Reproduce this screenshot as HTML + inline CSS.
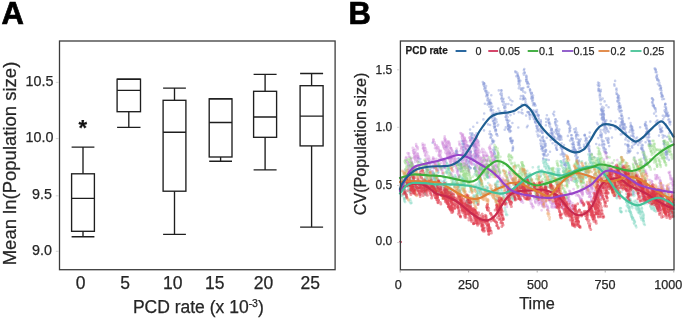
<!DOCTYPE html>
<html><head><meta charset="utf-8"><style>
html,body{margin:0;padding:0;background:#fff;}
body{width:685px;height:320px;overflow:hidden;}
svg{display:block;font-family:"Liberation Sans",sans-serif;filter:blur(0.3px);}
text{stroke:#262626;stroke-width:0.25px;}
</style></head><body>
<svg width="685" height="320" viewBox="0 0 685 320">
<text x="1.4" y="23.6" font-size="31" font-weight="bold" style="stroke:#000;stroke-width:0.7px">A</text>
<rect x="59.5" y="41" width="275.6" height="228.7" fill="none" stroke="#3c3c3c" stroke-width="1.3"/>
<line x1="55.8" x2="59" y1="82.35" y2="82.35" stroke="#c8c8c8" stroke-width="0.8"/>
<line x1="55.8" x2="59" y1="138.60" y2="138.60" stroke="#c8c8c8" stroke-width="0.8"/>
<line x1="55.8" x2="59" y1="195.80" y2="195.80" stroke="#c8c8c8" stroke-width="0.8"/>
<line x1="55.8" x2="59" y1="251.30" y2="251.30" stroke="#c8c8c8" stroke-width="0.8"/>
<text x="53.4" y="85.6" font-size="14.3" text-anchor="end" fill="#262626">10.5</text>
<text x="53.4" y="142.4" font-size="14.3" text-anchor="end" fill="#262626">10.0</text>
<text x="51.9" y="199.3" font-size="14.3" text-anchor="end" fill="#262626">9.5</text>
<text x="51.9" y="254.9" font-size="14.3" text-anchor="end" fill="#262626">9.0</text>
<text x="80.5" y="288.6" font-size="17.5" text-anchor="middle" fill="#262626">0</text>
<text x="125.0" y="288.6" font-size="17.5" text-anchor="middle" fill="#262626">5</text>
<text x="172.8" y="288.6" font-size="17.5" text-anchor="middle" fill="#262626">10</text>
<text x="214.7" y="288.6" font-size="17.5" text-anchor="middle" fill="#262626">15</text>
<text x="263.4" y="288.6" font-size="17.5" text-anchor="middle" fill="#262626">20</text>
<text x="310.3" y="288.6" font-size="17.5" text-anchor="middle" fill="#262626">25</text>
<text x="132.9" y="313.4" font-size="17.5" fill="#262626">PCD rate (x 10<tspan font-size="10.5" dy="-6.3">-3</tspan><tspan dy="6.3">)</tspan></text>
<text transform="translate(16.2,265.3) rotate(-90)" font-size="18.5" fill="#262626">Mean ln(Population size)</text>
<text x="82.7" y="135.4" font-size="22" font-weight="bold" text-anchor="middle" fill="#111">*</text>
<rect x="71.6" y="173.8" width="22.8" height="57.5" stroke="#1e1e1e" stroke-width="1.35" fill="none"/>
<path d="M71.6 198.4H94.4M83.0 173.8V147.1M83.0 231.3V236.7M71.6 147.1H94.4M71.6 236.7H94.4" stroke="#1e1e1e" stroke-width="1.35" fill="none"/>
<rect x="117.1" y="79.2" width="23.4" height="32.5" stroke="#1e1e1e" stroke-width="1.35" fill="none"/>
<path d="M117.1 90.3H140.5M128.8 79.2V79.2M128.8 111.7V127.4M117.1 79.2H140.5M117.1 127.4H140.5" stroke="#1e1e1e" stroke-width="1.35" fill="none"/>
<rect x="163.1" y="100.3" width="22.8" height="90.9" stroke="#1e1e1e" stroke-width="1.35" fill="none"/>
<path d="M163.1 132.2H185.9M174.5 100.3V88.1M174.5 191.2V234.4M163.1 88.1H185.9M163.1 234.4H185.9" stroke="#1e1e1e" stroke-width="1.35" fill="none"/>
<rect x="209.2" y="98.8" width="22.8" height="58.2" stroke="#1e1e1e" stroke-width="1.35" fill="none"/>
<path d="M209.2 122.5H232.0M220.6 98.8V98.8M220.6 157.0V161.2M209.2 98.8H232.0M209.2 161.2H232.0" stroke="#1e1e1e" stroke-width="1.35" fill="none"/>
<rect x="253.6" y="91.3" width="23.0" height="46.0" stroke="#1e1e1e" stroke-width="1.35" fill="none"/>
<path d="M253.6 117.0H276.6M265.1 91.3V74.4M265.1 137.3V169.8M253.6 74.4H276.6M253.6 169.8H276.6" stroke="#1e1e1e" stroke-width="1.35" fill="none"/>
<rect x="300.1" y="85.7" width="23.0" height="60.2" stroke="#1e1e1e" stroke-width="1.35" fill="none"/>
<path d="M300.1 116.1H323.1M311.6 85.7V73.5M311.6 145.9V227.1M300.1 73.5H323.1M300.1 227.1H323.1" stroke="#1e1e1e" stroke-width="1.35" fill="none"/>
<text x="348.6" y="23.8" font-size="31" font-weight="bold" style="stroke:#000;stroke-width:0.7px">B</text>
<g stroke-linecap="round" fill="none">
<path d="M512.1 142.8h0M474.7 147.2h0M532.2 101.0h0M542.5 150.8h0M568.5 121.9h0M420.3 159.1h0M552.1 130.5h0M665.5 150.6h0M657.3 79.4h0M665.4 148.6h0M494.1 147.6h0M654.1 113.6h0M599.4 85.6h0M492.4 113.9h0M559.0 130.7h0M646.8 164.4h0M601.0 108.7h0M558.2 129.7h0M458.7 158.9h0M620.8 134.4h0M597.7 124.3h0M438.2 170.8h0M510.2 138.2h0M656.5 72.0h0M643.0 150.0h0M604.9 125.0h0M463.6 148.3h0M404.7 187.6h0M600.0 94.6h0M542.9 154.0h0M476.4 153.7h0M645.6 134.7h0M633.9 136.9h0M569.6 128.5h0M438.2 164.6h0M599.9 93.8h0M650.4 143.8h0M440.9 187.3h0M489.4 103.7h0M460.6 166.8h0M585.2 163.4h0M465.4 154.0h0M462.3 156.6h0M629.8 151.5h0M474.8 150.6h0M619.2 98.4h0M562.2 154.7h0M604.7 123.7h0M647.3 131.1h0M640.2 142.9h0M623.5 128.2h0M579.2 144.3h0M661.1 131.5h0M575.3 132.2h0M510.4 126.5h0M618.5 102.2h0M576.0 152.4h0M490.9 111.0h0M486.1 86.0h0M509.8 126.1h0M588.7 145.3h0M659.0 135.6h0M577.5 139.0h0M476.0 169.8h0M434.1 174.2h0M618.1 95.6h0M484.7 86.8h0M665.3 104.1h0M496.7 134.4h0M506.5 117.2h0M419.0 169.1h0M560.7 154.5h0M495.4 131.3h0M574.8 151.9h0M576.8 160.6h0M460.8 170.7h0M621.5 114.0h0M624.8 129.4h0M494.6 115.1h0M491.8 115.2h0M660.7 129.7h0M534.2 114.2h0M603.3 147.9h0M560.3 136.7h0M601.4 109.9h0M656.2 116.0h0M600.4 134.7h0M492.9 113.7h0M619.9 106.3h0M535.0 122.0h0M509.9 132.0h0M485.6 87.8h0M509.8 127.8h0M490.9 102.9h0M573.2 145.1h0M539.7 135.8h0M647.9 133.0h0M504.4 107.7h0M551.5 131.7h0M494.4 120.0h0M639.5 142.7h0M546.2 150.2h0M541.3 149.1h0M577.8 162.6h0M669.8 122.3h0M632.8 135.8h0M603.9 119.3h0M536.6 125.7h0M569.3 132.2h0M495.8 130.3h0M616.6 90.6h0M578.2 135.4h0M602.5 117.2h0M488.6 100.3h0M573.6 142.0h0M644.9 164.5h0M627.9 150.6h0M636.0 143.0h0M552.6 143.3h0M503.5 98.7h0M604.4 131.4h0M661.2 93.0h0M606.4 105.3h0M506.4 115.7h0M617.8 97.6h0M657.9 84.0h0M624.0 126.2h0M635.7 138.5h0M665.9 109.6h0M483.5 84.2h0M575.9 128.3h0M476.7 154.0h0M598.3 138.1h0M533.3 110.3h0M549.4 125.9h0M663.2 135.2h0M654.1 107.2h0M534.3 104.6h0M535.1 118.4h0M574.0 145.4h0M474.0 141.3h0M602.7 120.1h0M550.2 126.9h0M470.4 153.5h0M598.6 88.9h0M617.8 100.8h0M670.2 145.8h0M559.0 130.1h0M486.5 92.6h0M543.6 140.6h0M463.8 148.3h0M662.9 96.2h0M544.7 145.8h0M471.7 138.0h0M475.2 168.8h0M504.8 111.1h0M406.0 181.6h0M577.0 162.1h0M469.1 162.1h0M643.1 137.6h0M527.4 81.6h0M615.3 126.0h0M518.7 80.6h0M541.9 128.8h0M535.5 118.5h0M660.3 131.9h0M436.8 175.3h0M574.6 149.5h0M621.9 134.1h0M554.6 137.3h0M491.1 111.3h0M550.1 127.2h0M541.4 130.7h0M666.9 151.9h0M619.6 110.7h0M661.0 93.6h0M662.6 135.0h0M409.5 172.4h0M575.6 153.0h0M604.2 124.6h0M529.7 116.9h0M458.7 160.9h0M485.5 90.4h0M551.7 128.9h0M604.0 147.8h0M506.9 120.3h0M544.3 155.6h0M471.7 135.2h0M474.5 151.1h0M465.6 163.6h0M620.4 126.8h0M487.3 95.6h0M467.0 162.8h0M628.1 148.6h0M463.3 159.9h0M484.2 89.1h0M632.2 131.8h0M664.1 142.5h0M565.2 164.4h0M564.6 154.8h0M464.8 147.9h0M464.0 143.7h0M512.2 141.4h0M608.3 138.0h0M486.9 95.1h0M544.4 154.1h0M474.5 168.9h0M577.7 142.2h0M490.1 125.0h0M615.5 121.6h0M531.8 97.1h0M565.4 163.9h0M556.9 149.7h0M509.4 129.4h0M523.2 91.6h0M643.9 158.6h0M502.4 101.6h0M490.6 110.6h0M578.0 144.8h0M666.3 151.9h0M667.0 114.2h0M458.9 159.7h0M623.8 129.0h0M623.9 124.8h0M580.3 167.7h0M463.5 149.5h0M618.7 96.0h0M661.7 96.7h0M543.4 159.3h0M510.9 141.5h0M645.8 122.1h0M589.2 147.3h0M474.0 144.2h0M564.6 164.4h0M496.4 112.5h0M577.8 157.3h0M557.0 133.7h0M549.1 123.6h0M519.2 80.5h0M653.6 105.4h0M633.9 140.7h0M432.2 174.6h0M458.9 163.1h0M532.9 97.4h0M561.5 147.4h0M494.1 141.0h0M544.8 146.4h0M541.8 137.5h0M545.5 150.4h0M501.3 92.5h0M629.5 152.2h0M475.0 165.8h0M470.2 139.9h0M632.3 129.2h0M475.9 153.5h0M544.0 155.7h0M579.7 144.9h0M620.7 107.4h0M518.0 76.0h0M473.3 126.8h0M530.1 91.6h0M617.1 94.0h0M489.9 131.5h0M472.6 139.6h0M521.3 112.5h0M641.9 149.1h0M544.7 141.3h0M549.4 125.4h0M646.6 125.9h0M670.1 124.4h0M631.1 125.7h0M483.4 119.4h0M645.5 126.1h0M669.5 123.4h0M527.8 83.0h0M414.0 175.2h0M518.4 84.0h0M509.2 131.4h0M625.0 130.1h0M541.2 129.8h0M476.1 138.2h0M603.6 110.5h0M437.6 162.4h0M559.3 129.6h0M648.3 132.9h0M492.6 140.8h0M464.0 147.0h0M542.5 150.6h0M589.4 146.4h0M559.6 136.2h0M545.0 155.4h0M520.4 98.7h0M585.3 140.9h0M605.1 121.1h0M623.4 125.7h0M446.1 161.7h0M519.1 79.4h0M464.3 141.1h0M483.7 83.1h0M528.0 112.6h0M526.1 79.8h0M459.5 165.4h0M569.6 130.7h0M602.4 141.7h0M508.8 125.0h0M473.9 145.6h0M572.8 150.5h0M552.2 136.3h0M533.1 95.5h0M617.9 101.7h0M622.2 121.9h0M402.9 179.1h0M506.6 113.7h0M627.4 144.9h0M665.1 112.0h0M527.2 107.4h0M538.0 115.2h0M508.0 125.9h0M508.3 125.3h0M633.7 136.8h0M570.0 126.0h0M561.6 139.5h0M597.0 122.7h0M606.6 153.1h0M493.5 142.4h0M556.1 133.5h0M644.0 157.3h0M542.7 147.4h0M565.8 165.8h0M652.1 102.6h0M614.3 84.2h0M641.5 147.8h0M541.1 141.1h0M454.6 162.7h0M659.0 85.5h0M641.5 141.1h0M509.9 127.5h0M524.8 98.0h0M633.5 133.6h0M603.4 130.1h0M438.3 172.6h0M665.8 155.0h0M489.4 102.6h0M557.1 121.3h0M601.7 109.8h0M608.7 142.6h0M536.2 123.2h0M554.8 140.0h0M667.2 137.0h0M501.9 94.1h0M418.0 158.1h0M484.2 113.5h0M621.7 123.8h0M563.7 155.9h0M576.0 130.1h0M512.4 123.0h0M659.4 82.9h0M623.0 121.7h0M546.8 137.8h0M459.6 176.1h0M579.6 166.3h0M427.4 173.4h0M603.9 144.2h0M537.6 115.8h0M461.4 164.5h0M494.7 149.6h0M555.4 122.0h0M532.9 103.1h0M494.9 127.1h0M619.1 100.1h0M657.5 120.2h0M576.2 135.6h0M646.0 128.5h0M562.2 149.1h0M531.8 98.6h0M475.9 156.2h0M551.0 130.3h0M510.4 99.9h0M561.3 137.5h0M598.8 90.3h0M668.1 116.4h0M536.0 111.7h0M501.5 95.1h0M559.5 139.9h0M580.7 148.0h0M572.6 147.0h0M527.7 112.2h0M530.0 115.1h0M562.5 152.4h0M535.2 116.0h0M612.0 137.6h0M564.0 145.0h0M527.7 125.7h0M542.0 129.3h0M649.3 137.0h0M586.2 143.2h0M603.6 117.7h0M619.0 103.2h0M528.5 86.7h0M603.4 115.3h0M467.2 156.5h0M602.4 111.5h0M470.9 156.4h0M470.8 152.2h0M538.6 118.0h0M445.7 160.6h0M542.0 148.7h0M608.6 107.3h0M512.3 150.7h0M602.0 114.9h0M497.5 135.8h0M589.7 150.7h0M604.6 101.4h0M649.4 140.9h0M575.4 150.0h0M488.4 103.6h0M629.5 131.9h0M540.1 128.7h0M602.7 113.8h0M573.8 146.4h0M525.5 101.7h0M501.8 98.2h0M496.1 134.2h0M628.6 146.4h0M665.8 149.5h0M588.9 146.2h0M469.7 146.4h0M469.6 166.7h0M505.9 117.1h0M580.7 139.2h0M667.7 116.0h0M532.0 114.9h0M526.4 81.2h0M630.3 126.9h0M600.6 130.1h0M505.4 110.8h0M511.2 140.6h0M584.5 135.0h0M524.0 98.5h0M576.2 138.4h0M655.8 70.5h0M556.8 128.7h0M511.4 105.0h0M494.4 151.6h0M578.9 160.5h0M543.0 136.6h0M575.0 152.0h0M621.0 115.5h0M606.0 152.2h0M624.2 127.4h0M645.0 160.1h0M571.6 138.8h0M599.1 90.5h0M645.3 125.6h0M633.3 130.6h0M554.0 139.6h0M661.1 87.8h0M563.4 160.2h0M528.9 112.5h0M461.3 169.2h0M508.1 129.4h0M560.1 136.9h0M602.5 123.8h0M666.5 127.4h0M616.3 89.7h0M568.6 124.3h0M495.9 131.4h0M507.7 117.1h0M508.0 123.3h0M515.5 72.3h0M572.7 138.7h0M456.2 153.2h0M461.8 140.8h0M424.5 165.7h0M494.0 123.2h0M648.7 135.2h0M456.2 151.3h0M462.5 143.7h0M476.5 133.2h0M513.1 148.1h0M618.8 104.3h0M620.7 124.9h0M558.0 137.5h0M490.9 134.3h0M508.4 104.0h0M561.2 147.0h0M572.7 141.1h0M551.9 134.1h0" stroke="#7689d2" stroke-width="2.6" stroke-opacity="0.40"/>
<path d="M649.3 143.1h0M631.5 126.5h0M496.3 119.5h0M574.1 148.7h0M632.7 130.5h0M572.4 138.6h0M621.4 119.0h0M565.5 163.0h0M574.5 149.6h0M443.7 167.9h0M584.0 144.7h0M598.6 86.3h0M657.1 74.7h0M548.7 119.7h0M496.6 121.9h0M600.7 104.1h0M508.8 127.2h0M616.5 93.9h0M494.8 121.0h0M563.1 148.1h0M494.4 154.1h0M416.7 166.1h0M622.8 127.4h0M531.7 97.6h0M594.5 157.3h0M591.7 158.9h0M509.4 120.7h0M656.2 77.5h0M667.3 153.7h0M579.3 141.1h0M461.8 168.1h0M461.2 164.2h0M624.7 124.1h0M661.2 132.3h0M432.8 166.6h0M488.7 101.8h0M621.6 111.1h0M606.4 130.6h0M554.1 115.4h0M648.3 133.9h0M564.1 164.7h0M563.5 156.7h0M644.3 157.4h0M468.8 166.9h0M578.8 145.3h0M495.1 159.9h0M503.9 101.8h0M521.1 89.6h0M567.4 123.3h0M470.6 152.4h0M630.0 149.3h0M557.1 138.8h0M646.8 128.1h0M529.6 114.5h0M468.0 145.9h0M551.8 129.6h0M650.1 146.3h0M474.7 144.9h0M486.6 91.0h0M574.3 148.1h0M646.0 133.8h0M587.1 147.1h0M462.8 153.3h0M503.9 103.4h0M647.7 139.9h0M462.7 143.2h0M456.8 151.6h0M476.2 157.8h0M601.9 117.9h0M632.3 147.8h0M598.7 89.4h0M496.1 119.7h0M652.3 98.5h0M494.9 157.4h0M605.4 149.3h0M491.2 109.7h0M449.8 152.8h0M484.0 83.3h0M502.4 101.0h0M558.1 133.3h0M572.2 139.8h0M660.7 89.2h0M487.4 95.0h0M544.2 144.0h0M625.4 139.5h0M577.0 157.9h0M627.5 152.9h0M591.6 158.3h0M557.3 131.7h0M637.1 137.5h0M655.7 109.5h0M543.0 138.6h0M483.1 82.7h0M548.8 160.0h0M526.2 75.5h0M623.3 128.9h0M604.5 121.3h0M584.1 146.3h0M527.2 83.7h0M628.8 152.3h0M633.7 144.8h0M664.2 117.1h0M637.7 153.1h0M543.5 151.1h0M492.9 141.4h0M624.8 124.9h0M419.1 168.4h0M605.3 152.2h0M587.3 145.0h0M522.6 113.4h0M603.3 119.6h0M502.8 99.6h0M663.8 141.1h0M554.2 111.7h0M553.6 137.0h0M545.1 144.5h0M535.3 122.5h0M667.0 114.2h0M660.8 89.5h0M559.2 135.9h0M511.5 141.2h0M606.2 127.8h0M584.9 134.9h0M507.2 120.1h0M494.1 124.9h0M653.2 100.1h0M573.0 143.9h0M498.2 124.7h0M555.1 142.0h0M622.7 117.9h0M553.1 139.1h0M474.2 168.2h0M503.1 104.7h0M545.5 143.8h0M564.5 158.7h0M652.7 105.4h0M493.4 121.3h0M666.2 152.1h0M622.5 125.1h0M489.4 134.0h0M508.7 125.2h0M490.6 134.3h0M602.5 140.6h0M537.0 127.9h0M605.3 123.8h0M556.9 127.3h0M545.9 151.7h0M538.1 130.1h0M602.1 109.7h0M510.5 127.0h0M512.8 140.6h0M518.3 127.5h0M511.0 131.0h0M458.1 170.4h0M419.6 165.9h0M642.7 145.6h0M517.4 73.1h0M518.7 82.1h0M476.5 156.6h0M603.7 117.4h0M522.4 88.5h0M540.8 120.2h0M527.7 86.9h0M483.6 84.8h0M643.3 152.2h0M667.5 115.5h0M523.5 73.5h0M660.6 86.1h0M495.1 153.9h0M518.4 79.1h0M470.5 168.2h0M642.6 148.0h0M630.4 129.7h0M665.7 124.3h0M603.1 140.8h0M600.5 114.4h0M476.6 155.8h0M544.2 143.1h0M432.2 161.9h0M620.0 125.9h0M456.7 153.4h0M523.5 96.5h0M602.5 113.0h0M586.1 138.7h0M539.3 122.1h0M657.3 79.9h0M655.8 122.1h0M609.3 125.5h0M467.2 157.5h0M601.8 114.1h0M576.2 134.9h0M528.9 84.1h0M511.7 143.1h0M601.9 133.9h0M501.5 90.5h0M542.2 132.7h0M541.0 124.4h0M604.6 128.7h0M484.9 103.7h0M601.1 100.1h0M543.7 154.9h0M461.0 160.6h0M608.7 139.6h0M556.1 148.2h0M619.3 107.6h0M602.0 145.5h0M643.9 153.7h0M569.2 124.4h0M608.1 140.4h0M546.1 118.8h0M553.3 135.6h0M570.4 127.8h0M656.7 121.3h0M632.3 142.3h0M495.1 123.0h0M496.0 130.3h0M478.3 155.9h0M534.3 103.4h0M525.2 92.6h0M646.7 132.4h0M430.9 167.7h0M515.3 71.2h0M662.8 115.8h0M520.4 80.7h0M575.4 150.5h0M666.5 112.8h0M507.4 127.5h0M670.4 121.9h0M450.9 158.2h0M631.8 127.8h0M501.9 96.4h0M470.1 133.4h0M557.2 132.4h0M645.5 157.9h0M529.9 89.4h0M622.3 119.3h0M526.2 76.9h0M603.9 114.2h0M494.9 125.8h0M576.2 154.1h0M491.9 118.3h0M605.7 133.1h0M576.0 152.1h0M575.3 156.0h0M552.0 133.2h0M628.1 146.2h0M533.1 105.3h0M603.7 118.9h0M600.1 100.3h0M443.6 181.2h0M599.2 83.4h0M590.4 153.7h0M659.9 89.4h0M669.3 139.3h0M568.0 121.1h0M429.1 161.3h0M630.9 135.8h0M523.9 74.8h0M505.8 127.4h0M579.4 169.2h0M539.0 124.8h0M538.4 115.6h0M618.3 97.6h0M656.7 76.3h0M604.5 125.3h0M493.4 115.3h0M493.2 149.8h0M555.7 130.4h0M501.9 99.8h0M426.3 169.1h0M501.3 98.7h0M664.0 99.0h0M567.9 135.9h0M561.2 136.2h0M577.2 157.7h0M628.4 144.9h0M518.7 112.3h0M471.9 158.5h0M612.9 125.0h0M497.5 125.8h0M433.9 162.6h0M660.5 129.2h0M576.6 157.6h0M558.1 134.7h0M513.0 146.6h0M540.6 121.5h0M493.9 126.2h0M630.6 123.1h0M667.2 157.3h0M596.2 144.0h0M543.6 141.8h0M534.9 117.1h0M658.1 80.4h0M588.3 144.2h0M475.4 171.6h0M492.0 116.4h0M571.2 135.3h0M648.3 137.6h0M556.1 125.8h0M626.1 137.8h0M622.3 120.3h0M623.4 128.5h0M462.8 141.6h0M491.3 107.4h0M471.5 136.0h0M558.2 138.8h0M610.3 128.3h0M556.8 145.5h0M601.5 135.4h0M494.4 153.5h0M602.6 111.7h0M666.1 107.6h0M648.8 144.3h0M523.5 98.7h0M667.8 116.0h0M622.3 125.0h0M518.8 77.3h0M531.2 93.4h0M457.9 164.3h0M520.9 96.1h0M591.5 153.9h0M463.0 144.9h0M521.7 104.6h0M495.1 118.7h0M458.5 158.3h0M619.1 106.2h0M603.3 122.6h0M666.9 158.4h0M603.5 125.7h0M628.0 146.5h0M643.6 153.8h0M476.3 156.1h0M549.8 133.5h0M446.3 147.2h0M589.2 150.7h0M542.2 148.1h0M476.3 136.6h0M564.1 161.8h0M622.9 123.9h0M626.0 127.3h0M490.2 103.1h0M538.0 136.5h0M614.5 85.7h0M563.9 162.0h0M508.2 126.2h0M646.7 133.8h0M572.1 139.5h0M669.2 119.3h0M626.1 133.1h0M602.4 109.0h0M649.1 141.2h0M535.6 105.5h0M575.9 154.8h0M517.9 75.6h0M487.6 99.1h0M616.4 93.0h0M487.3 100.2h0M622.6 122.8h0M551.3 136.1h0M602.8 140.9h0M570.0 140.6h0M578.8 142.7h0M469.2 168.4h0M622.2 116.2h0M555.4 119.5h0M605.6 129.4h0M494.2 127.9h0M629.3 151.4h0M476.0 150.2h0M546.9 115.3h0M473.5 145.8h0M655.4 108.2h0M578.7 148.6h0M519.5 80.6h0M490.8 109.2h0M490.0 103.5h0M621.9 122.3h0M527.6 112.0h0M564.3 153.9h0M666.0 115.2h0M664.4 144.3h0M419.3 161.5h0M472.3 138.0h0M655.7 72.3h0M625.3 144.3h0M666.0 113.1h0M662.1 95.2h0M475.2 156.8h0M506.9 119.3h0M535.8 119.4h0M546.2 122.0h0M491.9 135.5h0M653.6 105.5h0M606.3 120.4h0M639.4 141.8h0M529.9 119.0h0M484.1 86.2h0M600.9 89.8h0M458.0 162.3h0M538.8 119.5h0M606.1 138.2h0M662.4 131.4h0M523.9 70.2h0M607.6 130.8h0M649.9 141.4h0M415.2 168.2h0M648.5 133.2h0M537.1 112.4h0M665.4 103.9h0M569.6 128.6h0M588.7 149.0h0M555.1 123.2h0M531.4 98.4h0M641.9 148.7h0M512.7 148.1h0M632.3 127.2h0M504.7 129.8h0M555.1 122.4h0M558.6 132.7h0M524.5 72.9h0M467.3 159.2h0M494.6 153.9h0M526.3 80.0h0M645.6 142.3h0M605.2 126.4h0M600.4 91.3h0M557.5 133.2h0M535.1 105.7h0M603.9 141.2h0M463.4 145.2h0M622.0 118.2h0M663.3 115.8h0M557.3 131.2h0M619.5 103.3h0M557.2 125.8h0M632.1 128.3h0M542.7 137.5h0M548.9 122.7h0M541.2 146.4h0M555.4 145.3h0M526.4 81.2h0M430.1 168.4h0M630.5 151.0h0M601.8 139.9h0M413.2 187.3h0M606.4 130.7h0M482.8 82.0h0M560.6 145.5h0M486.2 96.2h0M587.7 141.4h0M574.9 132.1h0M404.1 189.9h0M490.9 136.9h0M495.2 130.1h0M559.2 136.3h0M516.7 72.4h0M665.5 152.9h0M633.1 136.0h0M472.5 133.5h0M468.8 161.0h0M574.0 147.2h0M666.3 158.1h0M664.7 146.6h0M603.9 147.5h0M506.2 119.5h0M472.9 159.3h0M531.9 92.9h0M496.9 134.2h0M653.0 104.1h0M510.2 139.0h0M604.0 123.1h0M478.6 141.6h0M508.2 128.9h0M533.9 119.1h0M655.3 68.9h0M601.4 137.3h0M433.4 168.2h0M644.9 124.4h0M505.2 105.7h0M462.9 147.1h0M587.4 147.2h0M640.1 127.2h0M558.4 134.9h0M576.0 136.3h0M590.3 156.1h0M512.9 149.7h0M561.5 148.6h0M644.2 154.8h0" stroke="#7689d2" stroke-width="2.6" stroke-opacity="0.40"/>
<path d="M589.5 136.7h0M427.4 164.7h0M589.5 152.0h0M578.6 167.6h0M541.0 145.1h0M553.8 132.3h0M603.7 107.7h0M660.8 88.3h0M527.1 104.9h0M620.3 107.8h0M548.0 154.6h0M600.2 135.7h0M510.5 115.1h0M599.9 97.8h0M492.4 140.9h0M523.0 95.7h0M525.7 103.7h0M473.9 164.1h0M560.1 135.4h0M526.6 77.9h0M491.8 143.6h0M577.0 134.2h0M628.9 118.3h0M532.9 100.3h0M587.3 143.6h0M542.5 148.7h0M469.8 150.4h0M558.0 135.4h0M603.8 119.3h0M535.3 120.3h0M617.7 97.7h0M645.5 125.6h0M661.3 92.8h0M659.6 126.8h0M589.7 132.6h0M505.7 116.9h0M655.8 111.6h0M572.7 149.5h0M573.8 147.9h0M665.1 104.9h0M603.7 113.3h0M409.7 164.9h0M579.8 141.4h0M666.5 110.7h0M531.7 93.4h0M532.7 97.5h0M530.1 89.9h0M555.8 124.5h0M663.6 143.7h0M526.6 76.5h0M522.2 90.0h0M573.7 144.2h0M576.4 159.2h0M573.6 148.4h0M509.0 128.7h0M668.9 159.9h0M473.5 161.1h0M656.8 76.4h0M463.4 150.1h0M487.3 94.5h0M618.2 95.6h0M544.1 154.1h0M504.2 106.9h0M472.2 158.3h0M618.6 106.7h0M608.6 131.9h0M625.5 132.2h0M549.3 122.2h0M540.6 143.5h0M646.3 132.3h0M477.2 122.8h0M535.6 120.5h0M664.8 106.7h0M607.0 128.9h0M537.0 128.6h0M523.1 98.8h0M559.5 136.4h0M523.3 96.6h0M542.5 131.9h0M444.8 184.2h0M492.4 139.6h0M499.5 111.0h0M487.6 104.6h0M622.7 120.9h0M522.0 109.8h0M643.5 151.1h0M541.4 126.9h0M619.5 118.3h0M560.1 137.8h0M458.9 162.5h0M525.0 99.5h0M600.4 98.4h0M565.9 165.2h0M507.8 124.7h0M534.6 119.3h0M662.8 137.6h0M469.3 150.7h0M508.6 126.2h0M459.9 168.8h0M667.8 112.8h0M436.2 169.5h0M542.3 132.5h0M498.3 108.5h0M508.7 129.6h0M602.5 114.6h0M456.6 150.4h0M652.6 101.7h0M535.9 111.5h0M579.9 147.5h0M606.0 152.7h0M553.9 139.7h0M650.1 144.5h0M648.1 131.2h0M580.9 170.0h0M470.6 168.1h0M645.8 125.3h0M602.7 144.2h0M550.1 123.9h0M460.1 163.4h0M559.3 134.6h0M510.7 140.8h0M575.1 149.6h0M545.3 144.0h0M598.1 82.6h0M544.6 146.8h0M654.6 68.5h0M484.5 83.9h0M605.7 127.5h0M615.7 129.2h0M556.3 147.6h0M649.1 141.5h0M657.5 78.3h0M641.1 148.6h0M494.6 118.6h0M534.6 103.9h0M543.2 148.0h0M493.8 113.2h0M495.9 157.8h0M514.0 113.6h0M534.9 114.9h0M532.7 117.0h0M665.2 106.8h0M466.2 149.1h0M597.8 84.7h0M552.6 133.6h0M641.5 148.6h0M507.7 113.6h0M638.2 144.9h0M488.0 97.8h0M565.3 165.1h0M523.4 88.0h0M494.2 153.8h0M602.3 114.4h0M562.1 150.7h0M525.5 104.6h0M667.2 154.8h0M540.9 121.9h0M622.6 124.0h0M562.7 153.3h0M493.2 110.4h0M571.9 144.1h0M603.2 118.1h0M512.4 101.2h0M491.4 103.8h0M420.1 177.0h0M632.7 139.6h0M625.7 134.3h0M557.0 149.8h0M545.5 146.0h0M496.4 156.9h0M472.0 158.2h0M470.6 158.7h0M618.5 109.2h0M535.2 121.2h0M464.5 156.4h0M553.1 113.8h0M507.8 121.9h0M526.1 115.6h0M617.4 101.2h0M603.6 116.2h0M541.7 131.4h0M537.6 134.6h0M618.9 107.5h0M486.6 93.4h0M544.9 152.3h0M505.4 113.4h0M661.3 130.6h0M475.4 169.3h0M489.5 103.6h0M571.3 138.3h0M542.6 133.0h0M518.8 81.1h0M476.0 139.2h0M494.1 151.8h0M542.1 146.3h0M645.3 123.8h0M556.4 131.1h0M467.0 160.7h0M667.0 112.7h0M661.9 127.7h0M665.8 152.5h0M649.1 134.1h0M472.8 158.5h0M455.6 161.4h0M493.1 141.6h0M601.8 118.9h0M635.4 141.4h0M491.3 95.2h0M468.7 165.0h0M560.0 139.4h0M668.2 119.7h0M430.4 170.2h0M573.8 151.8h0M599.4 144.9h0M665.9 115.8h0M650.3 121.6h0M495.5 157.4h0M641.5 145.6h0M663.0 119.2h0M631.9 126.9h0M616.5 88.6h0M536.5 126.2h0M461.0 165.2h0M522.8 99.5h0M511.1 138.0h0M507.8 120.9h0M494.5 153.3h0M517.5 74.6h0M525.5 99.4h0M520.8 88.4h0M540.2 140.1h0M609.2 146.1h0M622.1 119.4h0M666.3 154.5h0M518.4 77.8h0M551.4 129.1h0M554.3 138.6h0M570.1 130.7h0M604.7 127.4h0M472.1 138.1h0M631.9 146.4h0M492.9 120.9h0M543.5 140.8h0M576.6 158.7h0M475.6 167.5h0M519.8 85.3h0M488.4 92.7h0M669.4 132.9h0M518.8 88.2h0M631.8 129.0h0M623.7 124.0h0M509.7 130.5h0M631.9 130.2h0M627.7 145.4h0M628.7 141.3h0M432.6 142.7h0M619.9 111.9h0M603.8 150.0h0M464.1 144.1h0M475.7 146.9h0M539.7 131.5h0M459.2 165.0h0M607.2 140.2h0M579.0 140.1h0M508.9 97.6h0M524.3 69.0h0M490.1 99.9h0M488.1 124.4h0M584.4 147.1h0M576.4 155.1h0M500.3 94.1h0M405.7 178.3h0M571.7 135.2h0M647.5 129.8h0M484.0 130.4h0M659.9 85.2h0M468.5 163.8h0M586.2 139.9h0M627.8 140.6h0M602.6 116.8h0M519.4 86.6h0M584.7 135.8h0M537.5 114.2h0M535.7 110.7h0M495.9 129.4h0M599.8 95.5h0M622.3 121.9h0M665.0 136.1h0M493.7 117.2h0M628.1 145.5h0M537.0 110.0h0M601.6 111.2h0M473.5 143.7h0M527.6 82.4h0M658.9 80.6h0M529.4 114.2h0M540.3 124.3h0M652.9 99.4h0M664.7 110.5h0M498.8 90.4h0M577.2 162.1h0M492.1 139.4h0M562.4 153.8h0M579.0 142.6h0M642.4 150.3h0M548.0 120.5h0M494.8 126.8h0M474.4 143.8h0M585.8 137.9h0M578.5 161.4h0M668.3 115.4h0M492.4 106.6h0M545.9 145.7h0M661.8 96.3h0M600.2 96.3h0M468.7 165.9h0M490.5 137.8h0M654.9 108.6h0M620.4 105.6h0M531.1 93.6h0M467.4 155.2h0M647.6 131.9h0M551.8 133.0h0M598.5 91.1h0M621.2 110.5h0M491.0 109.3h0M533.2 111.9h0M521.5 88.9h0M531.6 95.4h0M645.5 163.3h0M656.8 124.2h0M560.3 138.0h0M577.1 132.6h0M500.3 94.1h0M521.5 89.6h0M666.1 108.9h0M574.5 152.6h0M660.6 88.0h0M492.7 141.3h0M511.0 138.1h0M666.8 154.2h0M660.1 129.1h0M655.1 69.3h0M550.0 151.8h0M509.4 128.1h0M643.4 155.0h0M537.6 128.9h0M464.9 151.7h0M628.7 151.0h0M600.6 132.3h0M651.9 98.4h0M474.9 153.2h0M550.7 140.1h0M507.4 122.6h0M604.8 125.4h0M579.0 143.5h0M621.6 115.8h0M642.2 144.7h0M634.5 157.5h0M586.7 138.4h0M630.8 125.3h0M476.5 147.9h0M471.8 133.6h0M561.6 143.2h0M662.4 96.8h0M529.1 112.3h0M567.9 121.7h0M605.6 149.8h0M533.0 99.0h0M604.4 151.1h0M653.8 106.3h0M566.1 169.2h0M602.0 114.7h0M578.8 164.5h0M555.8 142.1h0M565.9 168.0h0M545.6 149.9h0M474.0 135.4h0M666.3 113.5h0M534.2 112.5h0M661.5 90.6h0M455.8 151.4h0M469.9 155.3h0M620.9 122.3h0M536.7 131.4h0M655.7 69.8h0M604.4 144.6h0M623.1 127.8h0M505.6 107.5h0M602.7 98.6h0M549.0 122.6h0M475.6 148.5h0M541.2 145.9h0M475.6 155.5h0M412.7 174.2h0M500.5 112.5h0M490.5 105.3h0M665.8 109.8h0M589.5 149.2h0M605.4 122.5h0M601.6 136.7h0M485.4 91.3h0M560.6 147.3h0M574.0 148.6h0M664.5 110.6h0M602.4 144.0h0M466.6 160.6h0M659.5 125.4h0M473.9 144.6h0M537.9 126.5h0M661.9 130.6h0M615.0 127.2h0M519.6 82.7h0M601.3 110.0h0M668.9 115.5h0M540.5 139.8h0M646.1 162.3h0M501.3 90.2h0M471.6 156.2h0M615.1 80.9h0M485.2 88.2h0M669.2 121.6h0M599.6 95.8h0M494.5 118.1h0M526.8 78.7h0M551.4 130.3h0M621.2 128.7h0M506.3 116.0h0M512.1 140.7h0M576.0 151.0h0M600.5 91.5h0M538.3 130.9h0M455.7 153.4h0M440.5 167.1h0M490.0 101.8h0M608.0 142.7h0M610.8 121.0h0M555.7 119.3h0M487.2 94.0h0M545.9 125.3h0M632.5 133.6h0M543.2 158.2h0M602.2 106.8h0M494.0 123.5h0M588.6 145.7h0M662.0 94.5h0M601.4 135.5h0M662.3 99.3h0M493.2 116.1h0M646.5 137.2h0M524.7 72.6h0M457.3 153.8h0M607.3 140.5h0M474.6 168.0h0M526.9 127.2h0M667.2 151.4h0M635.2 143.8h0M470.1 129.6h0M556.2 129.8h0M506.1 104.1h0M671.8 141.7h0M505.4 111.2h0M624.5 128.8h0M664.1 136.3h0M573.1 143.5h0M464.9 152.0h0M487.2 94.5h0M538.8 115.4h0M574.2 129.3h0M589.7 154.7h0M548.6 118.9h0M421.2 162.7h0M504.5 108.2h0M526.6 105.7h0M546.6 159.5h0M541.8 144.0h0M489.3 106.8h0M516.3 76.2h0M604.0 115.0h0M603.3 111.1h0M471.1 151.5h0M518.0 77.7h0M530.2 90.1h0M491.9 110.3h0M617.9 100.4h0M546.8 155.7h0M495.0 123.7h0M559.0 134.2h0" stroke="#7689d2" stroke-width="2.6" stroke-opacity="0.40"/>
<path d="M441.3 168.1h0M424.8 153.1h0M453.1 170.3h0M634.1 184.1h0M444.7 138.9h0M469.6 137.6h0M635.9 185.2h0M409.7 156.9h0M503.6 200.3h0M466.1 159.4h0M516.0 186.2h0M663.8 190.6h0M425.4 152.5h0M581.2 200.7h0M542.4 200.3h0M555.7 202.1h0M564.2 197.7h0M602.6 182.8h0M599.2 191.1h0M470.6 156.8h0M440.7 157.3h0M451.9 157.6h0M425.9 165.0h0M497.7 171.9h0M655.0 195.8h0M410.4 172.7h0M482.0 164.3h0M619.1 169.8h0M529.1 188.3h0M498.0 169.2h0M620.4 172.9h0M661.4 202.0h0M462.0 147.7h0M552.7 204.2h0M437.2 170.0h0M452.9 177.3h0M511.0 176.1h0M662.9 189.3h0M476.4 164.0h0M483.5 172.5h0M550.0 197.3h0M617.5 177.5h0M609.2 167.9h0M637.4 189.4h0M415.6 156.5h0M540.2 197.5h0M465.1 168.7h0M469.3 172.3h0M587.1 188.7h0M451.8 157.4h0M573.2 205.8h0M580.9 191.5h0M553.0 207.6h0M483.6 149.6h0M454.2 161.8h0M546.4 206.3h0M606.5 157.8h0M597.6 185.0h0M487.4 159.6h0M591.2 197.4h0M526.7 196.5h0M401.7 183.6h0M485.0 158.6h0M590.7 177.0h0M453.3 171.7h0M403.0 186.3h0M600.0 173.2h0M433.5 140.0h0M447.4 146.5h0M495.2 161.3h0M580.9 192.2h0M586.6 189.5h0M487.8 173.6h0M548.3 195.8h0M432.0 175.2h0M638.2 176.8h0M413.4 178.3h0M415.7 184.3h0M667.4 190.2h0M488.4 173.3h0M449.7 153.8h0M616.0 169.3h0M622.5 175.8h0M546.2 199.9h0M408.7 170.0h0M444.7 136.3h0M624.6 174.5h0M504.9 202.3h0M669.8 204.1h0M594.0 193.9h0M482.3 163.1h0M436.4 148.6h0M529.7 200.0h0M470.1 160.1h0M434.9 144.3h0M518.3 191.4h0M554.4 195.4h0M532.8 205.6h0M435.3 146.3h0M413.5 179.5h0M480.2 177.1h0M451.2 164.1h0M463.5 154.7h0M605.6 184.9h0M491.5 153.1h0M456.3 162.2h0M482.7 160.5h0M478.6 150.6h0M452.2 150.7h0M555.6 206.8h0M505.0 180.6h0M477.6 141.2h0M485.5 162.5h0M653.1 188.9h0M606.8 157.1h0M672.6 178.5h0M453.6 153.7h0M548.3 208.6h0M629.9 182.0h0M434.9 163.1h0M482.1 168.9h0M479.6 169.7h0M500.6 179.8h0M620.1 172.9h0M407.8 162.4h0M492.4 157.2h0M444.4 161.3h0M446.3 143.5h0M505.8 195.6h0M477.3 156.6h0M484.7 158.0h0M650.8 183.7h0M534.4 184.5h0M612.1 172.5h0M528.8 182.9h0M626.5 176.7h0M452.5 157.6h0M503.0 181.4h0M581.3 198.6h0M525.9 191.0h0M615.5 166.1h0M612.5 170.1h0M483.8 155.4h0M450.8 165.5h0M569.5 201.2h0M529.3 186.6h0M499.8 178.0h0M673.0 188.8h0M619.2 171.0h0M619.2 169.8h0M636.1 188.6h0M518.0 190.7h0M557.0 206.0h0M528.5 183.4h0M618.7 171.5h0M531.2 200.3h0M626.2 177.6h0M489.6 170.1h0M451.7 156.7h0M615.8 168.1h0M620.7 176.9h0M469.0 153.7h0M470.9 156.0h0M663.6 192.1h0M559.7 201.9h0M590.3 184.3h0M554.0 192.8h0M417.6 162.0h0M651.8 183.8h0M469.9 160.6h0M427.3 167.3h0M660.4 194.9h0M470.6 154.2h0M651.4 197.1h0M591.4 187.3h0M643.3 185.7h0M543.5 195.1h0M467.9 150.2h0M628.2 175.6h0M656.9 177.6h0M451.2 155.3h0M478.1 143.4h0M616.6 192.4h0M489.0 175.4h0M512.1 194.9h0M576.1 195.4h0M545.1 202.2h0M465.0 139.7h0M528.7 184.1h0M601.8 182.0h0M481.2 160.8h0M414.1 148.9h0M643.3 188.3h0M474.0 147.2h0M456.3 159.4h0M608.3 172.3h0M488.3 175.3h0M464.6 138.7h0M602.3 186.2h0M432.4 171.5h0M453.7 160.9h0M443.1 142.7h0M436.2 165.6h0M582.1 191.7h0M553.8 202.5h0M589.9 183.6h0M498.0 173.9h0M451.4 159.0h0M660.1 207.6h0M597.1 196.2h0M642.2 183.7h0M595.5 192.3h0M475.8 144.4h0M625.3 174.3h0M411.8 163.4h0M478.9 146.2h0M604.4 181.4h0M636.1 188.1h0M406.6 160.7h0M669.3 191.1h0M438.4 147.4h0M509.4 172.7h0M447.4 153.3h0M627.5 180.3h0M602.3 188.3h0M662.0 188.1h0M629.0 178.5h0M602.6 170.1h0M601.7 197.6h0M510.1 176.0h0M443.0 161.3h0M540.9 200.3h0M493.2 170.7h0M475.3 141.6h0M508.5 186.3h0M542.0 203.4h0M512.7 178.9h0M509.6 189.1h0M479.6 173.9h0M633.6 182.5h0M666.9 200.2h0M523.0 202.7h0M567.8 180.2h0M449.8 144.8h0M542.0 194.9h0M650.2 180.1h0M673.0 190.5h0M629.1 179.7h0M649.2 192.6h0M469.1 147.1h0M470.7 139.9h0M673.0 182.1h0M552.7 191.4h0M526.4 193.9h0M440.0 157.0h0M447.6 146.3h0M602.7 170.9h0M543.4 196.8h0M447.2 143.6h0M664.1 193.2h0M543.7 200.1h0M477.8 157.0h0M463.3 150.8h0M655.5 178.9h0M668.7 203.6h0M640.0 180.7h0M486.4 155.4h0M540.4 202.3h0M601.7 169.5h0M464.3 138.0h0M507.0 193.2h0M590.5 185.3h0M465.7 148.9h0M511.0 189.5h0M551.5 205.6h0M517.6 188.0h0M454.7 159.0h0M463.9 157.0h0M472.1 143.7h0M446.3 146.3h0M625.5 176.9h0M534.2 197.8h0M423.2 148.2h0M443.0 144.8h0M633.1 180.7h0M493.3 155.6h0M662.0 205.0h0M656.6 178.0h0M413.6 176.7h0M644.7 195.8h0M474.9 144.3h0M465.5 145.1h0M626.5 177.6h0M661.8 189.4h0M621.5 180.3h0M644.3 195.7h0M667.1 198.8h0M500.6 179.1h0M431.7 178.7h0M667.3 187.4h0M503.5 183.9h0M624.4 170.7h0M601.3 180.8h0M652.0 181.6h0M451.3 174.1h0M500.3 180.6h0M423.0 148.6h0M541.6 210.3h0M597.6 184.5h0M409.4 167.5h0M592.1 200.9h0M413.8 153.0h0M479.9 152.4h0M492.5 158.4h0M553.9 193.5h0M673.0 185.9h0M440.6 150.6h0M479.2 151.9h0M481.9 164.4h0M625.3 186.0h0M497.7 167.8h0M515.6 183.2h0M454.4 162.7h0M574.4 208.4h0M502.7 194.0h0M646.1 172.2h0M654.1 189.9h0M614.2 181.5h0M433.5 177.5h0M433.1 157.3h0M410.4 172.7h0M627.1 179.7h0M448.5 152.3h0M411.7 162.2h0M636.3 163.8h0M412.3 169.4h0M475.1 142.0h0M562.7 197.1h0M425.1 155.4h0M540.4 197.7h0M601.6 179.2h0M477.2 155.4h0M462.7 135.4h0M440.9 167.2h0M449.5 151.7h0M450.5 158.3h0M427.1 168.3h0M545.1 199.4h0M613.9 180.9h0M548.9 211.4h0M474.3 138.0h0M547.4 209.4h0M427.5 171.1h0M537.2 197.8h0M658.3 204.4h0M516.9 192.9h0M569.0 198.6h0M503.0 179.7h0M497.8 169.0h0M475.9 146.8h0M434.3 167.5h0M409.4 173.1h0M447.5 157.6h0M605.3 183.3h0M464.2 165.7h0M554.6 206.0h0M603.9 159.6h0M424.4 151.2h0M653.0 195.0h0M544.5 194.1h0M562.2 207.3h0M403.7 182.5h0M541.8 201.2h0M417.2 160.8h0M543.9 205.9h0M560.4 201.6h0M455.5 166.1h0M439.8 150.6h0M414.5 182.6h0M562.0 205.3h0M624.3 181.7h0M468.5 155.8h0M486.5 165.5h0M477.5 147.5h0M669.4 173.3h0M480.6 164.6h0M538.1 194.0h0M420.4 170.9h0M634.1 180.4h0M454.3 162.7h0M672.5 179.2h0M473.8 154.2h0M469.1 147.6h0M553.6 205.9h0M617.1 170.8h0M644.3 198.4h0M552.9 191.7h0M418.2 156.2h0M445.0 165.2h0M516.3 191.2h0M588.5 189.8h0M549.4 198.6h0M634.7 184.9h0M458.4 177.7h0M440.3 155.6h0M559.1 203.7h0M480.3 158.7h0M402.8 184.5h0M479.6 152.6h0M487.9 172.1h0M560.1 200.3h0M414.3 152.3h0M451.0 161.7h0M495.3 171.2h0M466.9 165.6h0M623.1 167.9h0M478.6 171.5h0M448.9 152.1h0M612.8 175.2h0M476.1 151.1h0M450.6 158.0h0M434.0 175.9h0M441.6 158.5h0M521.6 201.0h0M502.5 177.9h0M598.8 175.3h0M450.8 162.8h0M645.1 191.0h0M512.2 193.3h0M530.3 201.1h0M492.9 168.0h0M429.1 171.8h0M505.3 203.0h0M492.5 154.4h0M472.2 164.7h0M587.6 193.6h0M489.8 148.1h0M542.9 196.0h0M464.0 146.3h0M625.7 188.6h0M478.0 148.5h0M555.9 205.3h0M461.2 148.3h0M426.6 165.2h0M425.7 152.0h0M475.2 153.5h0M554.9 205.0h0M444.3 146.5h0M542.9 193.2h0M638.6 177.5h0M520.6 194.4h0M673.0 184.6h0M450.5 147.8h0M554.5 198.2h0M504.2 201.4h0M493.4 161.3h0M627.3 180.1h0M448.4 153.0h0M449.0 158.1h0M644.0 195.9h0M474.5 149.4h0M415.8 185.1h0M492.3 159.0h0M589.8 183.6h0M401.8 178.9h0M646.3 173.0h0M660.5 181.9h0M466.0 161.1h0M668.4 189.1h0M557.3 198.0h0M596.7 195.1h0M570.8 209.7h0M639.8 181.1h0M465.0 165.7h0M459.5 142.7h0M599.1 191.9h0M598.3 183.7h0M569.2 190.8h0M462.6 162.6h0M516.7 188.4h0M492.8 161.5h0M470.9 163.6h0M613.5 176.2h0M635.6 162.9h0M467.7 167.2h0M539.2 191.1h0M418.6 158.5h0M595.2 191.2h0M651.2 198.5h0M463.3 140.9h0M489.5 149.1h0M492.8 167.2h0M613.7 178.7h0M478.6 170.9h0M634.1 176.3h0M630.0 172.6h0M489.1 147.6h0M413.1 177.5h0M439.2 151.8h0M507.9 182.1h0M454.9 157.6h0M490.8 152.4h0M445.2 166.5h0M606.0 152.7h0M449.0 143.0h0M591.3 198.5h0M468.3 154.3h0M525.0 190.0h0M482.3 148.8h0M667.1 198.7h0M537.9 201.2h0M449.5 152.5h0M443.5 146.3h0M570.5 206.6h0M483.2 152.5h0M485.6 161.0h0M559.2 198.2h0M609.2 172.1h0M435.0 148.2h0M475.5 160.4h0M617.4 174.7h0M412.8 147.9h0M457.0 168.3h0M589.6 188.7h0M631.4 176.6h0M491.5 153.9h0M498.9 175.3h0M605.5 153.2h0M616.6 176.4h0M505.6 190.0h0M622.4 174.1h0M581.5 202.0h0M538.5 203.9h0M476.0 144.5h0M468.6 170.7h0M453.0 159.1h0M538.6 205.0h0M444.8 166.8h0M572.7 212.9h0M543.2 200.1h0M570.3 174.3h0M478.1 154.7h0M476.8 166.1h0M469.1 148.9h0M443.8 146.5h0M633.0 178.0h0M545.4 190.0h0M625.1 185.2h0M474.2 156.5h0M423.4 145.3h0M589.9 193.9h0M530.2 200.8h0M539.0 195.8h0M662.5 201.4h0M659.3 192.2h0M599.7 196.2h0M513.1 180.8h0M549.1 200.8h0M632.4 180.9h0M415.1 157.3h0M568.6 201.3h0M634.8 182.4h0M443.9 163.7h0M542.8 202.9h0M569.3 176.3h0M558.5 196.4h0M486.0 153.8h0M466.5 145.4h0M617.3 185.1h0M478.7 168.1h0M667.5 198.6h0M609.0 170.0h0M569.6 200.6h0M623.3 170.6h0M581.9 189.8h0M537.3 193.2h0M529.5 185.1h0M591.0 200.7h0M542.2 191.7h0M463.2 154.0h0M402.7 181.1h0M611.7 172.0h0M559.8 199.9h0M601.0 184.4h0M410.8 159.4h0M473.5 148.4h0M553.0 191.3h0M536.7 190.8h0M471.1 162.1h0M449.8 154.5h0M433.4 174.1h0M653.3 191.3h0M622.6 175.0h0M485.9 166.2h0M483.4 154.7h0M573.6 206.3h0M436.6 151.1h0M509.3 185.1h0M650.6 194.9h0M530.8 189.5h0M456.6 148.6h0M444.7 140.6h0M453.5 159.6h0M477.7 140.4h0M438.7 148.5h0M651.7 183.6h0M476.7 145.8h0M439.2 159.3h0M651.8 186.6h0M569.5 191.7h0M517.3 191.4h0M551.6 207.3h0M568.3 198.6h0M505.3 183.8h0M504.8 185.2h0M465.0 168.8h0M618.3 178.9h0M469.7 155.3h0M601.3 178.0h0M516.9 188.2h0M453.4 163.8h0M588.8 192.4h0M622.9 175.7h0M494.8 166.2h0M667.2 186.0h0M572.7 211.0h0M559.8 202.3h0M486.4 153.7h0M569.6 203.2h0M657.5 202.6h0M448.8 142.1h0M586.6 185.9h0M582.0 193.7h0M625.6 177.8h0M477.0 149.8h0M547.4 191.6h0M476.5 152.9h0M643.1 189.4h0M476.8 153.8h0M555.9 202.8h0M571.8 194.5h0M631.3 174.1h0M463.5 163.3h0M580.1 198.3h0M518.3 188.9h0M619.3 181.3h0M596.6 184.5h0M475.3 151.0h0M433.8 158.4h0M504.3 185.2h0M615.6 167.4h0M544.7 200.0h0M440.2 157.6h0M652.4 193.0h0M540.5 195.2h0M618.7 177.2h0M542.5 204.7h0M656.5 197.5h0M604.6 151.9h0M464.9 158.3h0M611.9 186.7h0M408.7 171.4h0M409.9 169.9h0M622.8 166.0h0M516.7 190.1h0M619.6 176.8h0M660.4 181.8h0M623.5 170.2h0M505.6 185.0h0M662.2 188.1h0M498.9 174.4h0M591.6 188.3h0M506.7 191.6h0M459.1 141.8h0" stroke="#c064cc" stroke-width="2.8" stroke-opacity="0.30"/>
<path d="M521.4 193.2h0M444.6 164.9h0M623.9 180.3h0M435.9 165.1h0M449.6 143.5h0M670.6 210.9h0M589.2 183.0h0M461.4 148.9h0M518.5 192.9h0M566.6 205.3h0M516.1 187.0h0M461.3 133.7h0M656.5 193.5h0M451.0 161.3h0M476.7 165.2h0M445.3 142.3h0M484.6 159.6h0M464.8 137.8h0M451.9 168.3h0M413.1 167.0h0M665.2 190.2h0M606.3 155.8h0M440.6 153.4h0M453.8 153.7h0M603.3 184.0h0M459.6 144.1h0M411.2 158.6h0M478.3 168.5h0M440.1 166.1h0M610.0 181.7h0M626.9 180.4h0M640.7 183.0h0M614.5 179.6h0M469.7 148.1h0M499.1 178.0h0M430.2 173.7h0M466.4 151.3h0M670.1 175.1h0M598.4 188.8h0M495.7 163.5h0M438.9 154.5h0M475.0 140.8h0M639.8 179.6h0M444.7 160.8h0M415.8 160.0h0M548.2 195.6h0M414.5 153.8h0M623.5 178.4h0M491.5 156.7h0M662.0 201.7h0M570.2 193.0h0M542.8 204.1h0M667.9 191.6h0M413.6 179.9h0M567.2 195.3h0M663.9 193.4h0M636.6 186.8h0M443.9 163.9h0M541.9 193.6h0M466.4 163.6h0M452.1 157.7h0M526.2 192.9h0M530.4 189.8h0M403.0 180.8h0M495.9 164.7h0M433.4 173.4h0M417.1 157.2h0M632.4 186.4h0M633.4 194.4h0M469.8 141.4h0M458.4 175.2h0M670.7 209.2h0M534.9 198.9h0M668.7 172.6h0M510.9 190.4h0M509.2 172.3h0M417.3 153.6h0M567.6 179.2h0M541.5 189.4h0M415.2 159.2h0M621.2 188.0h0M545.7 202.6h0M591.0 195.9h0M427.0 170.3h0M611.8 173.9h0M449.5 155.0h0M466.3 141.6h0M561.8 205.6h0M477.8 168.2h0M663.0 187.2h0M567.8 198.3h0M452.9 177.3h0M591.7 188.2h0M405.8 158.6h0M529.4 199.5h0M444.9 146.7h0M404.8 184.4h0M414.9 156.4h0M450.4 161.4h0M476.3 148.1h0M609.5 166.2h0M598.8 187.0h0M548.9 196.8h0M671.8 179.5h0M598.7 188.0h0M408.7 168.4h0M486.3 156.0h0M424.3 147.1h0M487.7 155.8h0M464.1 154.5h0M462.2 160.8h0M480.7 171.6h0M440.7 163.0h0M656.7 196.5h0M660.3 184.2h0M661.4 186.7h0M593.3 191.9h0M448.2 155.7h0M663.1 193.1h0M440.4 151.2h0M600.7 181.8h0M540.8 194.5h0M473.5 155.5h0M450.4 162.4h0M610.2 170.8h0M445.0 162.8h0M645.3 170.3h0M413.0 150.6h0M551.9 206.6h0M661.3 188.2h0M476.3 143.3h0M543.8 204.8h0M437.9 169.7h0M447.6 153.1h0M528.4 187.9h0M640.6 181.2h0M545.0 197.3h0M623.3 169.8h0M591.5 186.3h0M626.0 179.4h0M415.0 161.9h0M417.5 157.1h0M619.1 179.4h0M447.2 149.4h0M412.0 163.7h0M561.4 201.8h0M542.4 193.2h0M646.3 201.7h0M518.7 190.2h0M667.6 199.0h0M444.7 148.8h0M660.3 181.7h0M546.1 200.8h0M531.7 204.1h0M479.0 173.3h0M466.8 145.2h0M446.3 145.4h0M661.2 196.5h0M467.5 168.0h0M571.3 209.1h0M483.4 155.5h0M446.0 143.7h0M455.4 158.8h0M616.5 190.9h0M404.5 188.5h0M477.0 151.9h0M429.6 165.4h0M477.0 140.3h0M538.1 201.1h0M642.9 193.0h0M408.3 165.4h0M654.2 193.5h0M558.0 205.5h0M614.0 178.5h0M555.5 187.8h0M591.9 190.3h0M427.7 159.2h0M660.6 186.8h0M654.3 191.3h0M572.4 203.1h0M629.1 179.4h0M605.8 154.7h0M540.9 194.9h0M479.9 177.3h0M482.0 170.1h0M480.7 160.6h0M490.2 177.2h0M509.0 190.7h0M461.7 159.0h0M616.7 172.9h0M554.8 207.0h0M623.3 176.7h0M673.0 184.7h0M589.5 193.3h0M450.7 153.6h0M442.2 170.7h0M599.3 193.5h0M462.7 136.5h0M448.2 150.6h0M404.9 187.0h0M479.4 156.6h0M625.1 173.6h0M442.1 141.9h0M633.6 182.8h0M641.9 186.6h0M542.4 195.0h0M451.5 154.8h0M478.7 167.7h0M646.1 200.3h0M456.8 170.2h0M457.2 171.0h0M641.3 188.7h0M417.8 147.3h0M507.1 185.6h0M432.2 161.4h0M662.7 203.8h0M425.1 148.1h0M610.7 184.4h0M570.5 202.5h0M663.3 185.5h0M477.6 152.6h0M426.2 167.1h0M519.7 193.3h0M542.6 201.8h0M469.6 137.9h0M603.3 187.8h0M570.1 191.4h0M479.8 171.4h0M507.1 187.2h0M530.2 189.2h0M416.3 146.1h0M509.7 188.3h0M671.2 211.0h0M434.4 176.7h0M431.2 178.0h0M621.7 174.2h0M478.5 149.7h0M626.2 178.3h0M585.6 184.6h0M589.0 196.9h0M592.1 190.7h0M408.3 168.9h0M454.2 156.6h0M529.3 187.0h0M424.7 145.0h0M475.6 160.2h0M610.4 181.8h0M554.6 197.2h0M476.7 154.1h0M410.5 175.0h0M530.0 196.2h0M667.8 189.7h0M501.5 184.5h0M441.0 152.5h0M433.1 159.0h0M507.6 178.2h0M552.2 200.2h0M452.0 156.1h0M538.6 202.6h0M596.2 181.9h0M587.0 190.1h0M601.8 178.3h0M452.5 175.7h0M624.6 188.0h0M659.5 186.3h0M660.2 207.7h0M627.7 181.2h0M659.4 182.9h0M503.2 183.3h0M553.7 193.1h0M670.6 177.8h0M608.0 167.7h0M446.5 153.3h0M464.8 166.4h0M656.7 175.4h0M413.4 170.5h0M464.1 141.9h0M543.4 198.4h0M479.7 162.6h0M547.8 207.5h0M490.8 152.4h0M445.4 163.4h0M655.6 177.3h0M434.3 178.6h0M542.7 193.8h0M640.6 180.8h0M590.3 194.9h0M413.5 172.3h0M486.6 164.7h0M474.6 158.3h0M494.1 158.9h0M448.4 158.6h0M538.1 191.7h0M414.1 173.5h0M468.8 145.8h0M671.6 212.9h0M649.7 195.0h0M415.6 160.6h0M536.7 186.4h0M643.2 187.7h0M450.4 164.0h0M451.4 149.1h0M505.1 181.6h0M476.3 137.1h0M667.7 200.8h0M403.9 183.2h0M464.6 157.3h0M450.6 156.0h0M406.6 158.3h0M653.3 196.6h0M545.7 202.2h0M664.4 193.0h0M441.1 169.4h0M556.0 200.7h0M475.0 160.2h0M468.5 169.7h0M662.8 191.4h0M600.6 191.9h0M573.7 193.4h0M435.7 168.5h0M571.5 177.8h0M436.8 145.3h0M416.7 160.6h0M667.0 189.7h0M547.3 192.2h0M642.4 185.7h0M662.6 190.4h0M470.8 162.3h0M551.0 201.1h0M659.2 204.9h0M505.8 204.8h0M455.8 165.8h0M506.5 205.4h0M540.7 199.4h0M481.0 163.9h0M581.8 188.7h0M655.2 175.2h0M622.7 175.1h0M482.2 159.1h0M445.0 148.5h0M472.2 142.5h0M487.4 171.4h0M596.1 183.4h0M426.0 150.0h0M467.3 152.6h0M668.3 203.1h0M466.9 151.5h0M554.6 202.0h0M474.5 140.7h0M447.9 149.8h0M663.5 190.2h0M527.8 182.2h0M487.4 170.6h0M416.2 167.5h0M479.4 175.6h0M589.7 194.3h0M657.2 195.6h0M527.9 197.8h0M612.2 172.2h0M649.5 194.2h0M422.6 145.4h0M451.4 156.6h0M623.2 176.6h0M428.5 158.8h0M559.6 183.1h0M617.0 171.9h0M645.3 194.5h0M462.8 139.2h0M632.9 173.1h0M616.9 193.0h0M646.7 186.1h0M656.3 192.6h0M468.3 147.9h0M598.4 184.7h0M559.6 198.9h0M479.0 155.9h0M662.5 204.9h0M452.5 176.1h0M427.5 169.9h0M658.5 187.2h0M482.8 163.2h0M657.2 197.2h0M606.3 187.1h0M410.3 174.3h0M577.5 194.2h0M618.3 181.8h0M591.9 190.7h0M435.7 164.6h0M634.0 180.9h0M495.6 162.2h0M453.9 163.7h0M582.6 194.3h0M607.2 158.2h0M424.0 148.9h0M611.4 184.8h0M534.7 199.3h0M660.0 180.5h0M409.3 170.2h0M492.9 170.2h0M475.3 151.4h0M591.7 187.5h0M673.0 182.2h0M417.3 153.8h0M511.9 193.4h0M443.9 163.3h0M580.7 201.2h0M456.1 162.3h0M475.6 146.2h0M630.6 182.8h0M470.2 137.2h0M543.8 205.0h0M535.2 202.1h0M579.3 196.1h0M633.8 191.5h0M662.6 199.4h0M651.9 193.0h0M477.6 159.3h0M554.8 197.8h0M551.8 203.4h0M659.4 177.7h0M466.1 149.2h0M465.3 142.7h0M469.7 162.3h0M491.6 156.1h0M663.2 191.4h0M545.9 189.8h0M464.2 142.2h0M462.3 138.8h0M445.3 152.6h0M670.8 207.7h0M462.1 135.5h0M654.0 193.1h0M476.4 151.8h0M542.1 205.9h0M529.1 196.1h0M472.9 145.2h0M463.3 155.4h0M412.2 166.5h0M415.7 152.8h0M570.4 176.4h0M572.4 213.6h0M669.1 187.3h0M507.0 179.5h0M495.4 169.5h0M591.7 191.7h0M546.0 203.7h0M464.7 140.5h0M617.0 171.3h0M586.2 191.5h0M556.3 206.5h0M598.9 185.7h0M552.5 189.8h0M655.3 195.8h0M446.5 153.7h0M586.4 185.4h0M444.2 148.1h0M543.9 201.4h0M470.5 150.6h0M448.7 154.5h0M610.7 168.5h0M447.6 155.9h0M445.7 150.9h0M629.9 170.1h0M477.1 154.2h0M462.8 153.5h0M451.2 153.8h0M439.1 155.3h0M622.1 174.0h0M457.0 172.5h0M462.7 153.1h0M653.3 197.4h0M496.9 166.9h0M659.3 178.9h0M442.4 172.1h0M660.1 197.0h0M639.5 180.3h0M442.6 173.1h0M615.5 188.9h0M630.3 173.4h0M482.9 163.9h0M460.6 150.8h0M408.8 165.5h0M617.1 194.1h0M597.9 187.3h0M431.0 176.5h0M462.9 154.3h0M641.0 187.3h0M530.5 191.4h0M456.2 168.2h0M447.4 141.9h0M599.7 189.4h0M634.8 183.6h0M621.8 175.2h0M501.1 182.9h0M451.1 148.3h0M409.0 153.5h0M513.4 196.3h0M661.0 185.3h0M474.4 139.2h0M654.3 195.4h0M663.1 193.3h0M622.1 187.2h0M409.8 170.5h0M461.1 158.6h0M589.4 182.5h0M478.0 167.7h0M499.4 176.1h0M465.9 162.8h0M408.7 162.8h0M505.6 181.9h0M537.3 198.7h0M610.7 173.1h0M479.7 170.3h0M612.0 169.9h0M411.2 175.3h0M623.5 179.9h0M586.8 188.7h0M669.3 205.4h0M461.6 147.3h0M445.5 165.8h0M516.4 187.8h0M668.0 186.9h0M493.4 161.1h0M552.3 202.5h0M467.6 154.4h0M553.9 203.0h0M541.5 198.3h0M645.8 173.5h0M592.8 184.7h0M620.0 178.6h0M487.9 161.0h0M481.6 174.0h0M628.2 176.3h0M641.3 184.3h0M553.2 190.3h0M466.6 164.2h0M660.6 196.0h0M570.1 202.7h0M568.0 200.5h0M623.8 171.7h0M625.1 184.7h0M489.1 160.9h0M554.5 202.7h0M588.4 185.8h0M442.5 143.3h0M540.5 191.3h0M471.4 163.8h0M433.9 166.2h0M521.0 195.7h0M449.6 158.5h0M545.2 203.2h0M578.3 195.5h0M621.1 179.7h0M433.4 139.6h0M629.9 171.1h0M569.0 196.8h0M474.0 140.0h0M669.2 204.7h0M520.6 199.6h0M580.3 198.8h0M477.0 152.6h0M599.3 187.7h0M444.8 145.5h0M470.4 161.8h0M609.9 171.2h0M660.5 194.2h0M476.7 162.0h0M478.1 158.4h0M463.1 162.3h0M481.8 158.3h0M543.3 199.2h0M453.2 165.5h0M558.3 198.9h0M624.0 172.2h0M424.1 151.3h0M571.2 179.8h0M502.4 180.5h0M435.9 166.0h0M436.1 148.2h0M466.5 145.9h0M623.6 177.9h0M626.9 190.7h0M596.1 193.6h0M462.0 136.3h0M430.1 173.2h0M622.0 171.1h0M563.0 209.3h0M580.8 191.8h0M649.8 193.8h0M487.4 172.8h0M561.4 203.5h0M497.6 171.3h0M494.5 158.6h0M515.2 183.8h0M652.6 184.5h0M445.0 140.4h0M447.0 152.3h0M624.6 182.8h0M417.1 155.2h0M658.8 190.9h0M636.7 164.3h0M468.3 146.8h0M449.2 156.2h0M652.6 186.7h0M664.1 190.1h0M463.3 136.9h0M611.3 172.3h0M465.1 147.6h0M519.8 194.6h0M412.3 168.4h0M560.6 201.8h0M558.8 199.5h0M408.3 166.6h0M660.7 183.4h0M622.1 164.8h0M542.3 205.3h0M631.7 185.2h0M591.9 189.1h0M580.5 201.9h0M600.4 194.0h0M668.6 203.3h0M506.9 206.9h0M661.7 202.5h0M541.9 202.2h0M433.3 141.2h0M625.6 188.1h0M657.1 195.3h0M513.1 180.0h0M643.2 194.5h0M443.7 147.3h0M668.2 201.2h0M652.0 191.4h0M663.0 186.1h0M470.4 161.3h0M464.1 157.8h0M425.6 162.4h0M507.9 181.4h0M469.5 151.8h0M500.8 184.5h0M581.9 203.3h0M475.8 152.5h0M484.2 160.8h0M660.3 209.6h0M554.0 195.7h0M539.2 196.4h0M642.8 191.0h0M661.5 199.7h0M520.3 197.3h0M589.2 190.7h0M468.4 151.2h0M492.9 155.9h0M515.7 186.3h0M582.5 192.2h0M624.3 181.6h0M572.6 212.1h0M479.7 161.5h0M435.2 163.9h0M470.0 158.0h0M653.8 190.5h0M488.2 158.7h0M623.3 178.1h0M531.9 206.4h0M599.8 190.1h0M609.6 170.3h0M661.3 198.2h0M417.2 154.2h0M449.2 155.5h0M660.3 184.9h0M489.7 147.8h0M414.2 157.5h0M443.3 161.2h0M573.6 189.2h0M543.4 188.2h0M445.1 167.5h0" stroke="#c064cc" stroke-width="2.8" stroke-opacity="0.30"/>
<path d="M428.6 160.6h0M578.4 195.5h0M499.5 175.6h0M433.5 164.6h0M635.1 185.4h0M480.7 179.2h0M471.2 155.4h0M669.8 171.8h0M542.2 201.7h0M449.8 156.8h0M451.8 150.6h0M611.1 182.8h0M540.6 198.2h0M487.3 160.9h0M571.5 206.8h0M438.7 150.1h0M626.7 189.9h0M440.9 157.5h0M625.5 188.8h0M670.7 210.1h0M670.2 176.1h0M535.7 203.0h0M467.4 151.1h0M588.3 192.5h0M507.9 181.9h0M476.8 151.6h0M425.5 161.4h0M426.5 166.6h0M616.3 172.1h0M619.9 182.1h0M461.9 137.5h0M408.1 154.1h0M439.2 152.0h0M541.2 198.8h0M480.9 163.3h0M670.6 207.1h0M571.0 204.9h0M631.1 184.7h0M627.1 189.1h0M641.0 185.2h0M633.7 183.1h0M470.8 158.1h0M454.1 159.3h0M610.6 171.0h0M547.4 206.0h0M625.4 186.1h0M669.1 188.8h0M428.0 156.8h0M510.8 191.0h0M624.7 184.8h0M610.8 171.0h0M454.7 164.1h0M673.0 181.0h0M436.9 166.3h0M632.6 179.2h0M471.4 143.6h0M628.6 178.0h0M480.7 169.2h0M492.8 168.1h0M427.0 154.9h0M581.6 202.5h0M626.4 186.5h0M595.0 181.5h0M463.4 140.6h0M629.1 180.0h0M506.6 186.2h0M531.5 203.5h0M618.6 177.6h0M608.4 166.2h0M492.5 153.2h0M559.0 199.9h0M589.5 196.5h0M670.2 192.1h0M660.5 197.9h0M580.9 200.8h0M482.0 166.6h0M428.9 159.5h0M406.7 161.6h0M622.3 177.0h0M659.8 210.0h0M448.8 154.1h0M550.0 200.8h0M448.2 150.9h0M622.8 177.9h0M448.9 149.0h0M430.9 176.1h0M597.6 183.6h0M507.4 188.7h0M413.0 166.1h0M493.6 165.0h0M526.8 195.9h0M561.0 204.0h0M614.3 186.2h0M483.4 171.7h0M449.4 155.2h0M525.8 192.1h0M633.8 177.3h0M554.8 200.3h0M660.3 184.1h0M496.2 165.3h0M481.5 150.7h0M435.1 163.1h0M425.7 166.2h0M486.8 156.0h0M542.7 203.3h0M452.6 152.5h0M617.3 160.2h0M632.3 188.8h0M595.2 189.4h0M582.8 193.1h0M644.4 190.0h0M481.8 171.3h0M646.9 175.7h0M451.5 159.0h0M461.8 134.2h0M477.9 142.9h0M529.4 187.6h0M627.1 177.5h0M651.0 187.8h0M488.3 175.9h0M603.1 175.5h0M434.9 144.6h0M587.9 191.7h0M475.4 135.4h0M670.4 176.7h0M625.6 175.1h0M555.7 207.5h0M624.5 174.2h0M434.7 159.7h0M541.5 199.6h0M566.7 180.9h0M495.3 165.8h0M425.1 148.2h0M469.1 171.0h0M573.1 207.6h0M668.7 202.1h0M475.8 151.3h0M643.7 197.2h0M430.3 159.9h0M442.0 170.0h0M547.8 194.4h0M658.5 204.3h0M600.5 183.0h0M470.7 157.6h0M620.5 175.3h0M436.3 158.8h0M449.6 159.9h0M567.5 181.0h0M409.9 172.2h0M631.1 185.3h0M568.8 183.1h0M602.0 168.1h0M443.2 145.0h0M580.7 199.8h0M408.4 170.5h0M418.5 157.2h0M656.9 175.7h0M518.1 193.7h0M438.8 155.7h0M638.2 186.0h0M443.9 159.6h0M622.2 179.1h0M536.0 189.2h0M535.5 185.6h0M635.1 183.5h0M660.8 199.4h0M426.5 155.7h0M483.1 161.0h0M445.8 140.2h0M480.9 166.7h0M465.9 147.2h0M536.6 197.1h0M508.4 182.7h0M479.9 159.1h0M445.3 167.5h0M541.4 191.9h0M416.4 146.1h0M591.0 186.8h0M625.1 173.5h0M625.7 185.2h0M644.2 193.0h0M515.5 185.0h0M645.9 193.0h0M408.9 156.4h0M476.2 154.7h0M641.2 182.1h0M482.2 170.3h0M536.2 188.3h0M620.5 178.6h0M511.4 192.2h0M530.3 190.0h0M476.7 156.3h0M601.6 185.8h0M552.8 201.3h0M443.9 160.0h0M594.8 194.9h0M436.3 164.7h0M593.3 202.8h0M646.0 199.5h0M573.8 209.1h0M661.4 184.4h0M625.3 176.4h0M620.8 185.0h0M415.6 150.7h0M481.4 157.6h0M536.4 199.3h0M633.1 174.7h0M483.6 175.3h0M513.3 180.5h0M445.8 150.2h0M405.2 178.9h0M661.7 198.3h0M466.4 145.7h0M621.3 170.8h0M570.1 201.2h0M667.3 200.4h0M652.6 193.9h0M556.4 204.4h0M536.2 187.7h0M463.0 151.7h0M476.4 146.7h0M658.3 198.7h0M417.0 148.4h0M457.4 151.8h0M661.0 196.0h0M646.9 174.5h0M457.4 171.6h0M568.2 181.6h0M637.4 175.1h0M634.7 160.6h0M673.0 184.7h0M585.8 187.4h0M623.8 180.1h0M605.1 174.3h0M465.4 144.2h0M641.2 184.1h0M645.0 193.7h0M482.2 152.2h0M414.3 152.5h0M668.5 192.2h0M448.1 146.9h0M617.7 170.6h0M634.5 187.6h0M635.3 184.1h0M519.8 190.2h0M651.9 181.5h0M653.3 188.9h0M464.2 143.3h0M514.8 185.5h0M612.4 187.2h0M406.1 157.2h0M460.4 133.2h0M477.4 156.9h0M479.5 163.7h0M509.3 174.1h0M469.6 154.5h0M426.0 158.6h0M621.0 186.7h0M445.8 139.4h0M581.1 200.6h0M622.2 167.0h0M590.0 192.4h0M488.9 177.5h0M506.3 187.1h0M480.7 178.7h0M612.1 162.9h0M466.4 142.6h0M623.0 177.3h0M658.9 206.4h0M444.0 145.0h0M552.6 194.8h0M490.3 150.7h0M437.4 146.8h0M635.5 162.9h0M636.7 175.0h0M596.0 190.9h0M528.4 196.5h0M663.1 195.1h0M443.0 175.4h0M427.2 152.4h0M554.1 196.8h0M458.0 173.3h0M579.3 196.8h0M412.6 164.0h0M563.1 208.6h0M608.5 167.7h0M601.2 181.4h0M536.8 191.3h0M429.2 157.7h0M615.4 183.6h0M612.5 174.9h0M449.3 154.5h0M437.8 148.9h0M614.9 166.1h0M514.7 185.7h0M470.1 148.4h0M433.5 142.2h0M564.5 199.0h0M414.9 150.5h0M544.9 197.0h0M410.9 176.1h0M620.1 176.0h0M520.6 198.9h0M545.5 198.1h0M662.5 191.7h0M670.1 191.9h0M530.9 203.5h0M663.9 189.2h0M636.7 172.2h0M475.6 143.4h0M466.9 165.3h0M469.6 153.2h0M512.1 178.7h0M435.8 161.8h0M559.1 197.5h0M403.9 186.7h0M664.3 196.0h0M460.7 145.5h0M541.3 196.1h0M634.7 193.1h0M641.6 187.1h0M481.2 174.7h0M464.8 156.8h0M447.7 155.7h0M410.7 176.9h0M633.3 184.3h0M616.2 176.6h0M415.3 157.8h0M541.7 202.8h0M424.2 150.1h0M478.4 173.0h0M461.6 154.6h0M609.0 169.4h0M601.4 184.3h0M500.2 178.8h0M435.7 161.4h0M426.8 164.3h0M615.4 190.6h0M541.6 203.5h0M413.8 158.0h0M426.1 154.3h0M449.5 160.6h0M513.3 189.6h0M604.9 183.4h0M480.2 173.0h0M615.1 188.4h0M429.7 172.5h0M518.3 193.0h0M490.1 145.7h0M505.2 204.4h0M451.0 173.2h0M590.6 178.8h0M442.6 173.5h0M481.1 167.9h0M407.6 153.1h0M478.6 152.6h0M504.5 185.3h0M572.6 205.6h0M533.9 197.0h0M451.1 148.3h0M495.2 167.6h0M437.1 166.9h0M517.1 191.1h0M462.8 137.3h0M635.2 185.3h0M501.8 185.9h0M414.5 182.2h0M546.7 205.5h0M493.4 165.5h0M657.9 201.7h0M494.3 165.9h0M563.1 193.1h0M470.4 159.4h0M412.5 170.7h0M495.0 168.3h0M522.1 200.5h0M559.2 196.6h0M455.8 154.7h0M428.4 156.1h0M428.1 158.2h0M452.3 151.4h0M444.4 148.5h0M623.2 178.6h0M445.7 165.9h0M464.9 144.7h0M670.6 179.2h0M408.0 164.5h0M480.0 176.3h0M403.1 185.0h0M629.5 169.5h0M543.4 206.2h0M471.7 163.0h0M550.9 199.2h0M673.0 186.7h0M667.7 202.5h0M469.8 152.4h0M453.5 155.3h0M591.5 200.6h0M451.3 156.0h0M448.6 141.3h0M657.2 175.6h0M644.0 188.6h0M656.6 179.2h0M654.5 194.4h0M602.0 181.3h0M528.8 186.8h0M552.4 203.8h0M592.6 203.5h0M587.3 192.6h0M417.8 153.9h0M641.9 189.0h0M418.4 158.6h0M624.3 172.3h0M600.8 164.8h0M521.1 201.6h0M509.2 184.6h0M569.7 174.1h0M526.2 195.9h0M426.4 166.7h0M435.5 162.7h0M582.5 195.7h0M463.0 134.5h0M484.9 165.2h0M479.1 158.4h0M642.1 190.1h0M464.2 143.0h0M590.6 181.7h0M494.1 160.4h0M541.3 201.3h0M463.5 140.3h0M472.2 145.5h0M560.2 201.2h0M458.2 174.5h0M596.2 194.6h0M465.9 160.1h0M464.2 139.3h0M476.9 145.1h0M632.5 190.7h0M446.5 145.8h0M411.5 161.3h0M492.0 166.3h0M622.1 174.6h0M568.3 196.6h0M625.2 185.2h0M541.8 190.0h0M416.4 157.9h0M483.8 156.6h0M583.4 186.3h0M444.7 138.2h0M570.5 206.0h0M490.9 149.2h0M587.5 190.8h0M491.3 151.2h0M623.8 184.1h0M610.3 173.7h0M493.8 169.2h0M657.7 177.7h0M568.7 199.9h0M453.8 161.2h0M625.3 187.9h0M428.5 156.3h0M499.7 171.9h0M418.0 155.3h0M410.1 173.5h0M591.6 186.0h0M505.6 190.3h0M414.6 155.0h0M510.2 174.8h0M432.6 171.7h0M450.5 152.7h0M602.6 172.1h0M587.3 189.9h0M470.1 153.8h0M425.7 155.6h0M570.3 193.5h0M493.4 161.4h0M529.1 197.5h0M464.6 160.0h0M496.2 166.0h0M516.3 189.7h0M437.7 168.1h0M630.6 174.8h0M663.3 201.9h0M434.0 167.8h0M492.3 155.2h0M466.5 157.4h0M661.5 199.2h0M478.9 144.7h0M644.9 171.5h0M446.4 148.8h0M479.7 169.3h0M625.1 183.9h0M612.1 174.2h0M568.5 172.0h0M492.6 160.2h0M476.6 139.1h0M660.3 180.6h0M633.4 188.7h0M460.3 159.8h0M668.5 193.5h0M536.0 187.4h0M414.2 153.8h0M447.1 155.9h0M416.7 154.6h0M409.1 156.7h0M449.3 149.3h0M411.3 166.0h0M414.4 181.7h0M415.1 159.5h0M411.9 167.1h0M624.6 181.5h0M535.3 201.0h0M465.3 160.9h0M530.3 198.6h0M478.8 160.8h0M559.8 204.1h0M619.6 175.8h0M544.4 206.9h0M456.2 161.8h0M617.5 185.9h0M500.1 179.8h0M621.3 176.8h0M413.5 150.6h0M462.5 136.2h0M624.0 172.8h0M488.0 172.8h0M648.3 179.8h0M626.4 175.9h0M543.2 197.7h0M540.0 191.7h0M484.8 160.2h0M430.2 164.1h0M459.6 145.1h0M567.8 197.4h0M448.8 153.1h0M581.6 199.5h0M510.9 177.7h0M643.2 192.4h0M540.0 203.5h0M505.2 187.5h0M463.2 166.1h0M594.4 175.5h0M657.1 194.3h0M448.4 152.2h0M414.7 151.7h0M480.4 158.8h0M537.6 199.7h0M615.1 188.4h0M530.7 188.6h0M569.2 200.7h0M409.9 170.9h0M592.9 188.5h0M632.3 187.5h0M475.2 158.9h0M616.1 183.2h0M601.3 195.9h0M475.9 141.4h0M616.8 174.7h0M463.1 156.0h0M543.6 198.0h0M599.8 190.0h0M673.0 188.3h0M404.6 170.7h0M485.0 152.0h0M470.6 140.5h0M669.7 207.3h0M662.6 186.0h0M466.4 144.4h0M442.8 143.7h0M423.1 147.9h0M500.5 180.5h0M445.5 139.3h0M428.0 156.9h0M471.2 162.6h0M526.2 191.5h0M625.1 184.4h0M469.6 156.4h0M440.0 155.3h0M594.0 196.3h0M446.3 141.3h0M635.6 161.0h0M563.3 207.3h0M550.3 202.6h0M582.1 193.0h0M633.5 192.9h0M570.8 177.5h0M433.1 159.0h0M663.4 201.4h0M427.4 159.5h0M582.0 191.0h0M422.6 143.6h0M449.5 157.6h0M459.0 176.6h0M401.9 178.9h0M629.8 181.4h0M416.1 144.2h0M445.9 147.4h0M543.2 207.1h0M449.1 158.9h0M414.1 155.6h0M506.3 191.0h0M599.6 188.9h0M477.4 151.0h0M449.0 157.4h0M426.2 153.7h0M605.6 186.4h0M445.0 148.9h0M451.8 168.3h0M402.1 182.5h0M652.9 190.3h0M487.5 173.9h0M633.7 175.1h0M568.8 173.8h0M520.6 196.8h0M491.7 155.6h0M623.9 181.6h0M547.6 209.9h0M451.2 155.8h0M668.8 201.6h0M670.7 183.2h0M638.7 176.7h0M557.8 195.4h0M621.1 175.2h0M413.5 152.7h0M464.5 164.3h0M404.5 182.7h0M637.1 174.1h0M582.8 194.3h0M426.9 157.0h0M658.4 191.6h0M632.1 176.2h0M449.8 146.5h0M630.3 183.3h0M415.5 156.1h0M403.7 184.9h0M448.1 143.9h0M469.5 158.0h0M620.0 183.6h0M439.4 154.2h0M487.4 174.0h0M477.2 155.5h0M476.1 137.5h0M493.5 162.1h0M552.7 202.0h0M446.5 150.6h0M533.0 208.0h0M529.8 196.5h0M448.7 150.8h0M465.8 140.9h0M587.5 191.7h0M619.7 182.4h0M533.6 207.1h0M614.7 173.1h0M587.6 193.6h0M647.1 203.3h0M446.8 153.6h0M417.7 149.2h0M673.0 191.1h0M455.1 164.0h0M450.6 158.2h0M631.1 181.7h0M434.7 142.5h0M660.7 188.5h0M490.9 150.8h0M486.9 164.1h0M571.7 180.1h0M479.1 159.4h0M567.0 196.2h0M480.1 165.5h0M656.2 191.7h0M463.1 140.9h0M464.8 139.8h0M634.6 186.4h0" stroke="#c064cc" stroke-width="2.8" stroke-opacity="0.30"/>
<path d="M598.4 171.6h0M587.4 166.9h0M601.1 157.4h0M576.5 162.8h0M495.8 171.4h0M500.5 156.8h0M654.3 146.7h0M608.6 173.1h0M620.4 163.8h0M521.4 162.7h0M664.9 162.6h0M622.4 178.3h0M451.4 180.1h0M481.8 165.8h0M655.0 158.8h0M561.1 181.6h0M565.7 175.2h0M406.2 168.7h0M460.2 164.3h0M634.0 179.9h0M461.7 164.8h0M475.7 173.3h0M633.7 166.4h0M602.7 167.3h0M450.3 177.1h0M458.8 168.8h0M625.5 174.1h0M579.0 180.7h0M451.0 179.0h0M553.9 176.8h0M425.7 166.3h0M600.4 156.9h0M470.4 179.6h0M411.3 168.5h0M544.0 173.3h0M494.1 169.0h0M482.7 172.9h0M537.9 179.1h0M566.2 175.4h0M459.1 177.1h0M490.0 159.9h0M576.8 172.8h0M553.0 178.3h0M660.7 166.9h0M655.8 161.2h0M623.0 182.1h0M536.0 195.0h0M569.0 180.8h0M546.9 183.1h0M431.3 177.3h0M524.8 173.6h0M448.5 175.9h0M513.0 166.5h0M409.5 161.6h0M663.0 152.7h0M498.5 153.3h0M440.3 167.5h0M599.3 159.7h0M426.5 183.0h0M553.8 176.6h0M522.7 165.3h0M460.3 180.1h0M597.6 160.3h0M508.1 180.1h0M579.0 177.7h0M576.4 184.7h0M407.5 165.9h0M565.3 175.3h0M476.5 172.0h0M570.7 171.0h0M605.3 167.1h0M463.5 174.9h0M607.1 167.9h0M578.6 173.5h0M567.4 171.2h0M410.5 161.6h0M493.3 176.7h0M488.2 168.2h0M645.4 182.1h0M486.5 176.0h0M448.3 168.3h0M603.3 168.4h0M434.3 186.1h0M604.4 169.8h0M602.9 167.9h0M577.1 173.1h0M453.1 166.8h0M413.2 171.0h0M490.3 158.2h0M663.4 155.7h0M658.7 160.3h0M551.4 173.9h0M627.5 170.5h0M652.4 140.8h0M586.1 162.7h0M404.6 176.4h0M490.6 162.5h0M640.2 180.3h0M662.1 157.6h0M568.7 181.0h0M483.0 170.9h0M545.1 177.4h0M511.8 163.1h0M491.1 174.3h0M471.2 185.3h0M461.2 183.1h0M465.4 178.8h0M597.8 165.8h0M484.7 164.8h0M430.2 176.1h0M419.1 165.9h0M433.9 174.1h0M567.2 185.5h0M605.3 168.8h0M430.0 177.2h0M522.1 177.4h0M451.2 188.5h0M557.1 179.1h0M565.8 192.3h0M601.0 165.6h0M496.6 150.0h0M405.5 175.6h0M531.4 186.0h0M545.3 177.5h0M502.9 171.2h0M531.2 179.6h0M487.7 176.8h0M536.2 188.6h0M482.8 171.6h0M655.2 152.0h0M598.5 163.8h0M477.8 177.1h0M670.7 154.2h0M562.8 188.2h0M670.6 151.7h0M499.0 165.9h0M508.9 155.3h0M566.4 180.9h0M599.0 155.5h0M638.5 170.8h0M433.1 186.5h0M461.3 166.4h0M664.2 148.2h0M541.4 181.6h0M600.7 155.9h0M641.6 166.2h0M437.1 194.7h0M566.4 172.4h0M472.7 190.9h0M625.5 174.8h0M618.7 170.7h0M597.4 163.3h0M498.4 156.0h0M608.1 169.7h0M496.4 173.3h0M519.6 176.3h0M577.5 170.9h0M498.7 168.1h0M577.3 170.5h0M550.6 181.9h0M505.6 173.9h0M544.2 174.7h0M507.7 180.6h0M468.1 169.2h0M404.6 161.5h0M480.1 167.0h0M544.5 188.3h0M407.2 177.7h0M468.6 176.2h0M664.3 159.8h0M628.5 169.6h0M583.3 187.4h0M402.2 184.0h0M510.7 160.6h0M534.6 189.8h0M432.4 182.5h0M641.9 168.1h0M598.8 158.1h0M464.9 173.8h0M644.8 156.6h0M597.6 170.4h0M406.1 163.3h0M604.8 171.4h0M438.2 162.3h0M462.7 180.9h0M466.9 173.1h0M599.9 163.5h0M482.1 168.1h0M422.5 167.2h0M546.9 185.5h0M436.2 192.4h0M633.4 175.7h0M446.3 188.5h0M509.3 159.8h0M664.1 157.7h0M484.6 169.7h0M500.0 173.3h0M621.8 158.8h0M565.2 194.1h0M579.6 175.7h0M405.0 160.6h0M471.8 189.2h0M466.7 176.2h0M655.9 161.3h0M607.7 173.7h0M496.5 155.8h0M644.8 155.9h0M488.6 170.2h0M467.8 179.0h0M604.6 168.5h0M597.6 162.3h0M514.5 163.0h0M640.0 183.1h0M530.7 177.0h0M527.9 182.0h0M512.1 157.1h0M561.1 182.8h0M619.6 171.7h0M451.0 174.6h0M551.4 168.6h0M488.0 172.3h0M471.3 187.1h0M433.0 189.6h0M629.9 169.7h0M462.2 168.4h0M411.9 167.0h0M559.8 179.9h0M570.1 172.4h0M655.7 161.6h0M491.4 169.4h0M412.3 168.6h0M521.5 180.1h0M458.0 184.5h0M599.2 156.6h0M536.2 193.0h0M415.6 174.5h0M598.7 151.2h0M649.7 159.3h0M630.7 181.2h0M468.2 181.9h0M640.4 169.7h0M552.7 188.4h0M465.5 180.1h0M536.8 196.3h0M630.9 179.7h0M561.1 181.3h0M563.2 172.0h0M637.3 165.0h0M516.1 166.8h0M566.3 180.2h0M663.8 154.3h0M536.7 185.8h0M464.1 175.8h0M406.0 172.1h0M666.2 144.3h0M405.8 169.9h0M545.7 178.1h0M603.8 163.0h0M639.4 162.8h0M557.6 163.7h0M644.1 152.5h0M664.2 159.4h0M642.7 166.1h0M552.4 187.6h0M583.2 179.2h0M500.3 160.6h0M550.5 183.8h0M427.9 169.5h0M627.0 168.5h0M440.7 169.0h0M553.2 178.4h0M568.1 175.8h0M407.5 168.2h0M552.2 186.9h0M426.7 183.9h0M568.4 171.8h0M583.7 183.3h0M587.8 168.8h0M449.1 175.1h0M665.3 143.3h0M451.9 182.5h0M412.3 167.9h0M534.8 191.0h0M643.5 169.6h0M647.8 164.6h0M465.4 181.1h0M564.4 189.6h0M562.4 185.8h0M600.7 155.6h0M467.1 181.2h0M595.9 170.8h0M460.7 181.2h0M580.1 181.5h0M497.6 148.6h0M666.3 149.1h0M489.3 168.9h0M632.8 177.7h0M670.2 154.8h0M464.3 190.8h0M413.5 168.6h0M661.6 155.1h0M477.8 198.2h0M603.4 170.8h0M651.0 151.7h0M480.4 180.0h0M569.6 167.7h0M646.1 161.4h0M608.8 178.1h0M522.4 162.3h0M448.2 167.3h0M582.1 183.1h0M660.0 155.3h0M457.2 180.2h0M645.3 179.8h0M620.1 167.5h0M605.2 172.2h0M482.0 183.9h0M647.3 162.6h0M426.5 167.3h0M457.3 165.4h0M600.8 167.5h0M591.6 155.0h0M608.5 175.9h0M570.2 173.4h0M668.8 151.7h0M657.5 149.9h0M607.8 175.8h0M434.2 175.3h0M593.2 162.8h0M605.0 165.0h0M599.3 164.3h0M627.5 181.4h0M546.4 182.2h0M499.3 156.9h0M475.3 167.1h0M559.5 185.0h0M530.2 177.8h0M498.6 164.4h0M519.2 175.3h0M507.2 165.8h0M637.0 166.2h0M561.7 183.3h0M578.4 186.4h0M469.4 175.7h0M594.8 163.3h0M579.2 171.0h0M510.2 161.8h0M667.6 143.0h0M645.2 178.5h0M557.4 164.9h0M655.3 160.1h0M600.1 156.8h0M575.6 166.3h0M493.1 175.9h0M567.2 169.0h0M435.5 189.2h0M463.6 189.5h0M600.0 167.1h0M620.5 173.0h0M480.8 182.6h0M498.2 161.6h0M639.9 160.1h0M646.5 183.0h0M536.8 189.1h0M506.2 173.0h0M432.5 188.3h0M622.1 180.6h0M545.7 179.9h0M638.4 168.2h0M599.9 152.8h0M510.7 156.4h0M411.4 162.3h0M667.2 153.2h0M479.6 168.9h0M475.9 175.6h0M506.6 175.0h0M551.6 173.8h0M463.3 181.9h0M462.8 170.6h0M499.0 166.4h0M590.7 158.5h0M550.5 184.9h0M480.4 177.5h0M425.5 165.2h0M580.9 174.9h0M442.7 196.4h0M644.0 175.9h0M515.8 167.9h0M537.1 198.3h0M623.4 169.9h0M520.0 174.2h0M668.2 148.8h0M624.5 171.5h0M636.3 164.2h0M530.4 175.4h0M558.8 182.4h0M602.7 167.5h0M421.9 166.1h0M625.2 172.6h0M464.5 183.5h0M599.6 165.7h0M520.5 171.1h0M529.6 173.5h0M604.0 164.1h0M467.4 171.2h0M600.3 154.1h0M599.5 162.5h0M465.9 168.6h0M580.7 182.3h0M669.5 137.4h0M567.3 182.9h0M403.5 180.8h0M607.4 156.9h0M545.5 179.9h0M497.0 156.1h0M619.5 169.6h0M462.5 178.8h0M579.7 180.3h0M464.9 176.9h0M406.8 165.3h0M467.9 180.4h0M496.6 157.1h0M459.8 179.9h0M409.7 162.3h0M456.7 164.0h0M599.4 153.0h0M403.6 182.3h0M477.3 171.8h0M521.3 172.3h0M594.0 174.7h0M602.5 163.8h0M576.0 180.3h0M575.1 164.7h0M426.9 171.3h0M629.2 166.5h0M580.1 178.7h0M621.5 157.3h0M425.2 179.0h0M628.1 182.0h0M562.7 188.5h0M532.0 189.8h0M649.6 166.6h0M518.2 165.2h0M435.5 178.5h0M553.5 173.4h0M626.2 176.1h0M464.8 166.7h0M662.7 152.4h0M407.1 178.2h0M623.8 170.4h0M413.7 172.4h0M537.4 190.9h0M646.7 160.1h0M508.9 156.3h0M631.1 181.9h0M482.8 185.7h0M464.3 163.6h0M499.1 169.1h0M550.2 180.9h0M597.1 175.8h0M568.4 172.8h0M522.3 176.2h0M436.0 172.9h0M651.5 145.4h0M622.4 161.7h0M607.2 169.3h0M553.7 172.1h0M536.4 191.0h0M457.1 181.8h0M442.8 194.9h0M552.8 170.5h0M578.1 168.1h0M477.1 194.1h0M407.6 179.7h0M640.2 165.2h0M605.0 165.9h0M489.1 157.5h0M439.4 164.5h0M581.1 171.2h0M657.2 166.5h0M642.5 152.4h0M560.4 191.4h0M546.4 180.9h0M431.2 181.0h0M426.5 168.5h0M631.4 183.2h0M588.1 171.7h0M419.5 169.2h0M626.5 177.1h0M580.7 174.9h0M465.4 170.3h0M430.4 181.9h0M545.5 185.7h0M626.9 177.9h0M521.9 177.5h0M624.0 160.5h0M537.4 189.5h0M636.0 175.1h0M619.5 169.8h0M664.8 140.7h0M598.6 158.1h0M515.5 165.3h0M405.3 174.4h0M637.9 169.0h0M457.5 179.3h0M536.0 194.3h0M536.1 195.1h0M551.3 186.8h0M553.1 169.9h0M599.5 157.4h0M524.8 171.5h0M558.2 166.2h0M472.4 190.4h0M523.0 169.7h0M609.2 173.2h0M571.5 176.7h0M507.0 179.8h0M497.9 165.9h0M402.4 181.9h0M609.9 176.5h0M612.8 163.2h0M492.3 171.1h0M659.9 149.6h0M600.3 155.6h0M663.3 150.2h0M601.1 156.9h0M565.2 171.2h0M485.0 172.1h0M595.4 173.1h0M575.8 179.7h0M464.3 174.3h0M581.3 185.3h0M641.1 161.1h0M668.4 144.2h0M464.1 167.0h0M403.9 183.4h0M452.4 180.1h0M496.5 157.4h0M536.8 198.4h0M519.8 174.6h0M605.4 170.6h0M459.4 169.3h0M470.2 177.4h0M554.0 179.4h0M553.2 171.5h0M536.2 179.0h0" stroke="#74cc60" stroke-width="2.8" stroke-opacity="0.30"/>
<path d="M556.2 181.0h0M515.9 178.1h0M491.2 164.5h0M558.2 180.1h0M488.0 170.7h0M482.7 173.3h0M610.0 163.9h0M455.8 177.3h0M467.8 167.7h0M621.5 160.1h0M576.8 183.3h0M440.3 189.1h0M667.9 146.2h0M553.6 192.8h0M411.8 164.7h0M481.7 184.1h0M490.3 171.6h0M465.1 168.1h0M636.7 180.2h0M409.3 186.9h0M598.4 169.5h0M497.8 152.6h0M552.9 175.4h0M456.8 162.9h0M565.4 176.4h0M577.4 170.4h0M642.6 170.5h0M579.3 177.5h0M625.9 169.8h0M550.4 187.7h0M523.5 167.7h0M532.1 182.3h0M607.3 175.3h0M642.0 163.3h0M567.0 178.1h0M523.9 166.2h0M639.4 180.9h0M606.6 166.9h0M578.4 176.8h0M470.1 181.1h0M551.9 169.6h0M567.4 177.2h0M581.7 180.7h0M653.4 153.7h0M669.2 151.4h0M448.2 170.7h0M605.8 166.6h0M605.7 164.3h0M466.8 165.4h0M604.7 172.4h0M524.0 169.8h0M561.2 165.8h0M578.5 173.6h0M625.8 163.1h0M557.0 163.1h0M565.6 174.2h0M644.2 153.8h0M535.0 192.9h0M419.2 167.5h0M457.2 165.7h0M476.8 194.6h0M650.5 168.3h0M536.2 186.7h0M487.6 173.6h0M588.1 166.9h0M436.5 180.7h0M467.3 174.5h0M478.9 177.7h0M484.0 165.5h0M412.5 166.3h0M424.6 166.2h0M463.0 190.2h0M599.3 164.6h0M507.1 177.7h0M425.5 174.4h0M668.6 147.4h0M552.3 178.7h0M425.7 161.3h0M626.3 175.2h0M600.6 159.3h0M644.5 178.2h0M523.0 180.3h0M628.8 166.3h0M434.9 188.0h0M632.2 176.0h0M556.8 161.5h0M497.2 160.2h0M631.3 172.7h0M653.6 152.4h0M668.5 148.3h0M434.5 189.0h0M409.7 185.7h0M641.6 162.2h0M628.2 175.1h0M485.7 174.8h0M425.9 166.7h0M606.7 169.4h0M546.9 181.1h0M641.4 165.1h0M509.1 154.5h0M550.6 182.3h0M577.6 187.8h0M465.9 177.5h0M604.3 168.9h0M522.0 173.7h0M534.1 186.3h0M583.3 179.9h0M564.3 191.1h0M620.9 169.3h0M430.0 178.2h0M592.9 167.4h0M568.7 178.6h0M661.1 155.2h0M600.6 162.2h0M610.7 178.5h0M654.0 149.9h0M497.7 158.9h0M635.2 168.9h0M426.8 183.0h0M599.9 160.0h0M593.0 165.0h0M494.6 169.9h0M567.3 187.2h0M633.7 167.4h0M425.2 161.7h0M666.9 142.8h0M641.4 184.0h0M452.3 182.8h0M642.2 170.0h0M634.7 159.3h0M654.5 144.3h0M649.9 167.7h0M425.3 172.8h0M524.0 169.6h0M635.6 171.0h0M655.8 150.2h0M599.2 149.1h0M532.4 184.9h0M476.7 171.4h0M614.2 160.3h0M566.1 196.1h0M623.3 180.0h0M522.8 166.8h0M621.2 177.7h0M636.5 176.1h0M567.7 179.2h0M662.9 149.6h0M485.1 172.8h0M438.9 165.3h0M652.8 147.4h0M645.6 159.7h0M519.2 171.4h0M587.3 169.5h0M669.2 148.8h0M556.5 182.3h0M579.7 178.9h0M664.4 145.1h0M631.4 183.2h0M463.6 174.1h0M411.1 190.4h0M538.8 179.7h0M405.3 160.6h0M523.4 168.3h0M633.9 157.8h0M552.4 175.0h0M639.2 159.9h0M577.2 164.7h0M576.7 182.3h0M641.2 164.0h0M572.9 180.9h0M595.8 172.4h0M510.7 155.4h0M522.7 166.8h0M569.0 164.9h0M477.4 175.8h0M563.2 188.2h0M559.5 180.0h0M642.5 187.5h0M502.8 165.4h0M521.8 172.7h0M468.7 182.7h0M524.0 170.8h0M670.4 141.0h0M566.7 184.7h0M640.3 171.0h0M622.5 168.1h0M578.7 169.7h0M470.8 187.4h0M523.2 171.3h0M481.6 182.8h0M522.9 172.5h0M609.6 157.4h0M643.6 172.5h0M463.4 172.4h0M409.5 161.6h0M455.9 180.6h0M566.9 172.6h0M546.5 183.3h0M602.0 158.5h0M410.7 165.7h0M442.2 193.3h0M457.9 184.9h0M459.3 178.9h0M464.2 174.6h0M596.3 165.4h0M566.5 179.2h0M632.0 174.0h0M606.1 171.7h0M472.1 190.5h0M484.0 168.9h0M626.6 167.4h0M575.7 169.0h0M470.0 184.9h0M641.1 163.8h0M511.5 170.7h0M412.4 170.3h0M666.1 142.1h0M486.6 174.9h0M478.5 200.7h0M668.0 144.0h0M566.3 197.8h0M583.5 182.4h0M521.9 162.4h0M528.4 182.7h0M583.0 176.4h0M579.8 178.9h0M478.3 199.3h0M650.7 150.7h0M618.2 164.7h0M640.0 159.7h0M570.7 175.1h0M599.8 165.5h0M478.2 198.5h0M660.9 150.3h0M523.8 173.4h0M411.6 163.5h0M637.7 167.2h0M509.7 174.4h0M582.8 180.4h0M582.9 178.3h0M640.3 171.3h0M641.8 168.2h0M607.8 173.1h0M470.5 184.5h0M653.8 149.1h0M605.5 166.9h0M425.2 161.0h0M457.0 181.1h0M466.0 172.1h0M498.8 161.6h0M649.2 145.9h0M411.2 157.8h0M558.0 165.3h0M606.1 170.1h0M667.3 144.8h0M576.5 162.3h0M552.8 177.9h0M536.1 195.4h0M599.0 149.2h0M492.9 172.8h0M577.7 164.8h0M451.9 176.7h0M627.6 180.4h0M511.0 156.9h0M637.0 178.9h0M639.9 164.8h0M598.0 153.9h0M520.4 169.1h0M555.4 179.3h0M598.5 165.8h0M436.1 191.1h0M588.8 170.8h0M464.4 166.6h0M618.7 167.3h0M665.6 141.6h0M422.4 164.2h0M603.6 161.6h0M657.1 164.6h0M519.4 173.2h0M447.7 168.4h0M551.7 185.5h0M580.7 162.1h0M619.6 171.5h0M553.9 190.3h0M468.9 173.8h0M522.3 164.9h0M641.6 165.6h0M496.3 174.1h0M408.7 159.6h0M664.1 157.7h0M476.9 174.5h0M449.5 172.4h0M625.0 172.4h0M603.3 165.9h0M595.6 163.2h0M410.1 165.3h0M660.6 152.5h0M586.4 169.3h0M447.5 171.2h0M429.1 173.3h0M569.2 168.9h0M567.5 177.1h0M464.7 186.5h0M447.0 166.2h0M481.2 165.9h0M479.9 167.9h0M476.5 192.7h0M595.2 169.2h0M551.5 185.9h0M461.2 164.1h0M600.0 172.1h0M568.0 164.7h0M431.2 180.6h0M654.8 148.2h0M552.0 188.2h0M519.4 177.0h0M450.1 176.9h0M544.1 172.5h0M574.9 163.9h0M650.7 159.4h0M467.1 166.7h0M670.0 148.6h0M461.7 183.9h0M486.2 174.7h0M620.9 163.0h0M627.2 178.3h0M642.5 171.8h0M493.4 174.1h0M431.5 186.8h0M660.6 152.0h0M600.9 175.9h0M564.0 172.2h0M567.6 178.8h0M467.0 180.1h0M466.9 166.2h0M627.2 168.8h0M509.3 181.8h0M424.8 180.3h0M510.0 169.4h0M633.3 165.1h0M662.0 158.4h0M586.1 164.7h0M642.8 171.0h0M596.3 161.1h0M619.6 173.1h0M661.7 153.9h0M402.8 184.7h0M537.0 175.7h0M601.3 163.6h0M551.0 183.9h0M605.4 164.9h0M484.1 170.3h0M664.6 161.2h0M462.3 188.3h0M656.0 158.7h0M566.0 171.8h0M579.4 178.6h0M468.9 172.2h0M554.2 194.4h0M562.1 185.1h0M652.1 154.5h0M619.9 173.3h0M463.4 171.3h0M537.1 193.7h0M670.5 139.3h0M578.0 174.9h0M550.1 173.6h0M553.6 194.7h0M598.2 169.2h0M590.5 171.7h0M652.5 147.2h0M482.5 186.7h0M524.2 189.8h0M610.0 177.5h0M480.4 181.8h0M589.0 172.2h0M577.6 174.8h0M641.3 173.9h0M618.6 164.2h0M641.3 162.3h0M581.0 181.7h0M641.2 158.8h0M522.5 180.5h0M465.7 170.8h0M411.5 189.1h0M531.2 180.7h0M593.0 163.4h0M441.6 193.2h0M564.8 179.1h0M592.0 158.9h0M633.0 179.0h0M618.8 165.3h0M565.7 170.7h0M641.5 186.3h0M508.3 156.6h0M551.6 175.9h0M552.2 191.4h0M648.0 165.0h0M484.5 178.0h0M664.0 141.4h0M423.1 167.5h0M670.1 149.2h0M458.2 186.2h0M605.7 173.8h0M635.1 161.6h0M568.1 163.6h0M523.1 167.9h0M593.4 157.9h0M650.7 169.7h0M626.3 163.5h0M631.2 182.5h0M497.7 157.6h0M630.3 170.7h0M601.2 161.0h0M411.1 190.2h0M490.6 172.3h0M463.9 176.1h0M524.5 185.3h0M617.8 168.7h0M486.4 171.7h0M566.2 193.6h0M533.9 182.9h0M644.4 154.8h0M621.1 164.4h0M668.7 135.7h0M427.2 166.8h0M493.6 167.4h0M606.7 167.0h0M470.1 186.7h0M660.2 161.8h0M523.1 165.6h0M483.2 188.9h0M624.8 172.3h0M523.0 166.6h0M478.7 176.2h0M596.5 175.3h0M651.8 154.9h0M505.6 171.5h0M533.9 186.2h0M498.6 163.0h0M433.4 185.1h0M482.1 167.4h0M654.6 169.2h0M575.7 167.6h0M472.8 176.7h0M643.1 171.4h0M485.8 170.4h0M482.1 182.6h0M427.8 170.4h0M426.1 180.9h0M532.2 182.1h0M478.7 200.9h0M598.1 172.6h0M634.4 169.9h0M625.4 165.5h0M582.3 187.5h0M630.0 167.9h0M490.8 162.1h0M608.1 163.0h0M563.4 168.7h0M495.3 171.8h0M497.1 157.4h0M600.8 174.0h0M566.7 176.3h0M476.9 195.5h0M509.4 170.1h0M462.7 187.3h0M410.5 188.9h0M595.0 169.1h0M627.5 168.9h0M632.9 176.0h0M467.7 182.7h0M649.4 166.9h0M553.5 168.2h0M466.8 178.0h0M659.9 164.6h0M458.7 166.4h0M633.8 178.1h0M566.5 161.3h0M579.2 177.4h0M535.9 195.3h0M405.3 173.6h0M471.0 189.2h0M635.4 174.1h0M597.5 165.1h0M548.9 186.5h0M590.6 168.8h0M523.8 169.8h0M609.0 174.2h0M643.1 168.3h0M483.7 167.5h0M464.6 179.8h0M532.8 183.2h0M477.6 174.8h0M495.6 147.2h0M465.4 174.4h0M567.0 175.8h0M495.0 156.2h0M650.3 149.7h0M618.9 162.6h0M498.2 155.3h0M524.0 183.3h0M462.2 166.9h0M430.9 181.2h0M576.6 168.6h0M495.6 169.9h0M516.2 166.4h0M508.8 182.1h0M666.1 165.5h0M580.6 176.4h0M470.7 178.2h0M565.1 176.5h0M653.9 146.2h0M639.5 169.4h0M535.3 189.7h0M549.7 182.3h0M667.7 142.4h0M490.1 172.6h0M587.3 170.4h0M403.9 173.5h0M460.5 165.1h0M608.5 171.3h0M557.3 161.1h0M498.3 162.1h0M538.0 180.1h0M641.9 168.7h0M431.9 181.0h0M592.8 158.8h0M402.1 184.8h0M599.4 166.6h0M511.0 169.9h0M599.5 170.8h0M640.4 182.9h0M428.1 176.3h0M414.2 168.4h0M559.5 179.2h0M599.8 159.6h0M576.1 180.2h0M403.9 184.5h0M499.5 170.8h0M460.9 172.2h0M480.7 179.5h0M646.7 161.6h0M413.5 171.3h0M466.0 175.5h0M425.9 165.9h0" stroke="#74cc60" stroke-width="2.8" stroke-opacity="0.30"/>
<path d="M570.1 174.2h0M464.6 175.7h0M556.5 180.2h0M663.9 157.2h0M618.3 168.6h0M545.1 182.1h0M576.0 169.5h0M466.9 179.2h0M621.0 162.2h0M427.3 168.7h0M475.2 168.5h0M600.0 153.8h0M536.8 197.1h0M553.4 178.6h0M663.6 159.6h0M512.7 172.3h0M478.9 165.2h0M559.4 178.2h0M511.4 170.5h0M552.2 168.7h0M545.9 180.0h0M404.2 181.9h0M661.9 153.9h0M520.6 167.3h0M646.3 157.0h0M586.5 165.8h0M537.1 199.1h0M424.6 171.9h0M621.5 179.0h0M577.1 173.6h0M426.9 171.5h0M636.4 176.7h0M536.6 196.2h0M641.7 175.5h0M405.3 163.2h0M432.1 190.5h0M662.9 156.9h0M627.1 171.5h0M592.0 156.4h0M462.5 187.2h0M424.9 173.8h0M468.6 183.9h0M512.6 174.4h0M412.9 168.3h0M636.2 163.8h0M617.6 167.2h0M552.7 168.2h0M626.4 166.2h0M484.9 171.4h0M457.6 183.1h0M436.2 191.2h0M538.6 195.6h0M552.9 170.7h0M668.5 150.2h0M486.3 160.3h0M651.9 153.0h0M459.3 177.0h0M634.1 168.5h0M478.8 177.0h0M429.9 176.2h0M509.1 159.0h0M407.9 180.9h0M552.2 177.0h0M522.3 164.4h0M408.0 181.3h0M524.3 182.5h0M509.6 168.2h0M498.4 161.1h0M461.4 167.2h0M543.6 174.2h0M604.2 162.0h0M464.1 175.6h0M601.0 166.6h0M402.8 180.3h0M493.6 174.1h0M622.0 167.1h0M581.7 181.1h0M653.6 140.8h0M406.4 166.8h0M411.2 163.4h0M576.9 170.7h0M663.1 153.3h0M654.2 160.1h0M431.3 167.4h0M464.0 177.1h0M522.7 165.7h0M524.1 185.4h0M576.4 182.4h0M493.4 167.5h0M519.9 179.3h0M637.6 179.8h0M633.1 178.3h0M523.9 171.1h0M464.7 188.1h0M513.4 173.8h0M460.8 163.7h0M536.6 175.5h0M611.5 170.9h0M414.4 171.4h0M487.1 163.7h0M410.1 159.2h0M599.2 163.5h0M470.9 187.5h0M463.0 175.2h0M640.8 166.6h0M637.8 181.8h0M487.1 176.4h0M603.4 167.3h0M581.8 178.3h0M626.8 177.7h0M631.5 171.8h0M618.3 167.1h0M594.5 160.2h0M656.6 164.5h0M620.9 176.1h0M464.6 177.5h0M507.0 176.2h0M634.1 172.6h0M652.7 149.5h0M526.8 180.6h0M492.3 165.5h0M460.7 171.2h0M654.3 143.7h0M566.6 197.7h0M588.5 171.7h0M620.2 173.0h0M619.1 166.6h0M552.9 173.7h0M439.7 167.5h0M435.4 178.2h0M427.1 186.5h0M631.0 173.5h0M635.3 161.3h0M419.3 168.6h0M565.2 191.8h0M462.9 168.6h0M531.6 179.6h0M449.8 175.2h0M582.3 179.5h0M659.6 163.3h0M645.6 181.7h0M597.7 163.8h0M591.8 154.3h0M659.4 151.0h0M485.9 173.7h0M664.2 157.5h0M405.6 177.2h0M665.9 164.4h0M600.6 175.0h0M549.8 186.8h0M522.8 164.3h0M567.1 173.2h0M646.4 159.5h0M454.5 187.0h0M520.2 169.1h0M624.5 172.4h0M566.8 174.4h0M621.9 166.7h0M509.5 159.9h0M649.1 144.4h0M627.8 180.5h0M528.8 184.0h0M597.1 166.7h0M670.7 141.3h0M460.6 168.6h0M462.9 171.1h0M566.8 161.9h0M524.8 173.5h0M578.8 176.1h0M500.1 172.6h0M430.6 177.1h0M439.0 164.7h0M631.3 175.3h0M442.4 167.5h0M483.7 158.1h0M620.4 175.3h0M636.4 177.5h0M537.6 192.4h0M482.8 187.4h0M663.9 156.9h0M592.2 160.7h0M653.7 144.0h0M596.3 166.6h0M413.6 173.5h0M525.2 176.0h0M422.7 168.6h0M522.8 182.0h0M487.7 173.0h0M441.3 192.6h0M523.9 171.2h0M523.4 169.1h0M550.0 183.4h0M470.7 186.3h0M410.5 167.6h0M668.7 146.2h0M672.7 135.4h0M566.5 182.4h0M580.9 183.3h0M506.9 175.7h0M633.6 159.6h0M518.9 165.8h0M597.7 147.7h0M598.4 163.3h0M659.2 160.7h0M607.4 166.0h0M406.1 170.5h0M512.1 171.9h0M553.4 172.9h0M627.6 165.8h0M564.4 174.5h0M600.2 159.0h0M635.7 161.7h0M656.0 162.5h0M582.8 176.5h0M595.5 159.9h0M503.3 161.9h0M565.6 180.1h0M655.5 161.2h0M487.5 163.7h0M534.5 188.5h0M600.1 160.9h0M663.5 141.2h0M547.7 183.5h0M463.8 184.2h0M579.8 176.6h0M541.4 180.4h0M605.3 172.8h0M499.1 160.6h0M642.7 171.5h0M641.6 185.5h0M648.8 145.7h0M618.6 170.5h0M564.7 173.1h0M577.2 167.3h0M461.7 186.4h0M567.2 170.2h0M555.4 178.2h0M457.9 168.3h0M430.9 179.5h0M495.0 172.8h0M664.3 142.6h0M468.6 170.5h0M482.8 168.1h0M512.1 158.4h0M528.8 184.8h0M426.5 167.0h0M460.6 183.1h0M454.7 183.7h0M620.3 174.6h0M582.4 178.0h0M618.3 165.5h0M583.3 182.0h0M551.7 189.9h0M565.3 172.4h0M456.7 178.9h0M419.5 164.2h0M568.4 171.5h0M579.2 175.1h0M512.5 172.6h0M486.9 161.2h0M523.1 168.6h0M491.2 174.7h0M670.0 139.5h0M672.1 156.7h0M663.4 158.3h0M402.6 181.9h0M498.2 154.3h0M559.1 183.1h0M464.0 172.9h0M411.4 164.9h0M661.1 152.9h0M463.7 178.4h0M559.1 183.8h0M408.4 185.3h0M552.5 191.9h0M553.0 175.7h0M498.5 160.6h0M499.0 171.0h0M506.6 176.7h0M497.7 151.5h0M554.3 180.6h0M627.6 172.9h0M593.6 157.2h0M461.5 182.9h0M537.8 176.3h0M474.8 168.2h0M556.7 178.2h0M424.5 160.0h0M628.8 169.4h0M463.0 182.6h0M548.6 182.3h0M625.8 162.6h0M668.3 148.6h0M663.3 153.9h0M413.1 167.8h0M515.0 165.1h0M409.8 166.4h0M487.7 165.6h0M594.4 161.5h0M670.2 147.6h0M567.0 179.0h0M435.0 177.0h0M593.7 165.6h0M413.0 166.2h0M663.0 154.4h0M492.2 163.0h0M557.9 182.0h0M640.7 162.6h0M551.0 183.4h0M627.4 171.9h0M431.4 186.9h0M658.1 158.0h0M537.2 189.3h0M600.8 161.7h0M498.8 169.5h0M482.0 161.7h0M644.0 171.5h0M408.3 184.3h0M621.0 157.8h0M428.9 174.5h0M421.7 164.8h0M599.0 164.3h0M667.5 145.7h0M642.0 186.4h0M553.7 172.2h0M499.7 163.8h0M520.4 177.0h0M537.4 192.2h0M570.4 169.9h0M566.6 169.2h0M599.3 151.7h0M404.4 185.1h0M422.9 165.1h0M636.8 165.6h0M551.2 186.2h0M577.4 185.9h0M649.6 148.0h0M465.0 174.5h0M599.2 169.6h0M630.6 172.3h0M469.4 173.3h0M460.1 175.1h0M633.0 163.8h0M607.0 170.8h0M604.6 169.8h0M549.2 180.5h0M576.9 164.4h0M582.7 179.4h0M480.5 181.5h0M477.1 197.0h0M651.5 146.1h0M491.3 170.6h0M576.9 168.3h0M537.2 178.2h0M438.4 161.0h0M655.8 149.1h0M664.2 158.0h0M631.9 174.3h0M608.0 168.5h0M659.2 160.9h0M432.4 182.4h0M557.4 178.7h0M443.4 197.9h0M594.5 165.3h0M657.7 149.7h0M477.2 175.4h0M439.3 166.4h0M641.0 173.3h0M553.8 190.5h0M581.9 182.5h0M608.2 177.4h0M577.6 168.8h0M576.5 161.2h0M641.5 166.6h0M519.2 166.9h0M542.8 179.1h0M581.1 181.3h0M435.1 176.9h0M595.8 158.4h0M464.3 176.7h0M465.2 177.3h0M425.7 164.7h0M448.9 173.6h0M466.4 174.0h0M462.2 170.0h0M550.6 175.1h0M409.7 158.7h0M485.4 172.5h0M511.1 168.8h0M566.1 170.5h0M465.9 178.2h0M463.6 172.6h0M568.5 168.1h0M619.9 167.5h0M445.1 172.6h0M671.9 154.6h0M411.9 165.2h0M411.7 175.3h0M413.2 176.5h0M432.4 184.1h0M437.4 182.7h0M405.4 169.1h0M599.7 173.8h0M661.5 155.6h0M565.3 173.3h0M460.7 171.3h0M632.2 175.5h0M557.0 183.8h0M573.8 174.1h0M567.5 175.7h0M430.4 180.6h0M412.7 165.0h0M549.6 181.1h0M485.3 179.4h0M463.3 172.4h0M640.5 164.6h0M660.6 165.1h0M581.8 176.9h0M629.2 183.2h0M645.5 159.0h0M551.1 187.3h0M659.2 158.8h0M407.8 182.8h0M498.2 165.3h0M470.6 186.4h0M523.3 166.2h0M664.6 161.8h0M524.1 178.4h0M587.0 170.3h0M488.7 167.4h0M418.5 162.9h0M522.7 180.7h0M425.9 182.0h0M428.1 169.6h0M591.9 160.7h0M511.4 163.9h0M633.3 178.8h0M643.6 167.7h0M576.8 171.5h0M424.6 171.5h0M663.2 154.5h0M404.9 185.7h0M493.2 166.1h0M465.0 178.9h0M646.4 184.2h0M407.4 159.7h0M464.0 186.3h0M577.4 174.7h0M498.0 158.5h0M607.5 169.5h0M602.1 164.4h0M669.9 139.7h0M475.6 170.8h0M406.7 178.4h0M417.9 162.0h0M550.1 184.9h0M552.7 189.5h0M465.7 180.6h0M637.6 167.9h0M654.1 162.4h0M427.5 186.9h0M655.9 161.8h0M617.9 169.5h0M651.2 151.7h0M669.7 151.6h0M487.7 164.5h0M596.9 159.6h0M643.1 189.0h0M522.4 175.0h0M411.1 167.3h0M590.5 162.0h0M622.2 161.4h0M487.1 171.2h0M568.4 167.0h0M545.0 176.8h0M466.9 179.0h0M566.2 176.2h0M607.3 174.7h0M625.8 175.1h0M587.9 169.9h0M671.7 157.4h0M566.9 174.1h0M487.3 164.0h0M433.9 174.2h0M553.7 192.3h0M457.6 164.6h0M645.2 179.6h0M471.0 189.2h0M462.3 168.6h0M418.1 165.5h0M549.9 183.2h0M555.8 184.0h0M604.6 164.5h0M498.0 166.5h0M464.5 191.7h0M510.5 170.8h0M482.0 184.1h0M589.2 164.0h0M412.6 169.4h0M462.3 171.6h0M469.7 175.3h0M494.6 145.2h0M578.4 174.3h0M412.6 177.0h0M642.3 171.9h0M567.6 163.0h0M486.1 174.0h0M596.1 163.8h0M641.1 166.8h0M480.2 169.6h0M430.3 179.5h0M567.1 185.4h0M561.4 179.6h0M635.2 172.3h0M669.7 138.5h0M661.4 150.6h0M511.3 172.6h0M593.3 160.3h0M665.9 163.1h0M619.6 164.4h0M495.9 146.9h0M657.1 166.7h0M566.2 178.5h0M600.7 166.7h0M608.5 172.5h0M462.4 171.5h0M462.1 170.7h0M411.7 166.2h0M578.5 174.2h0M495.3 149.3h0M672.1 158.4h0M598.7 166.8h0M427.7 173.2h0M566.6 159.7h0M481.3 180.3h0M650.0 148.2h0M537.0 191.3h0M594.6 169.1h0M508.1 180.0h0M639.6 170.4h0M462.5 169.5h0M491.5 170.5h0M479.7 177.2h0M490.4 160.8h0M567.5 176.6h0M599.4 166.8h0" stroke="#74cc60" stroke-width="2.8" stroke-opacity="0.30"/>
<path d="M405.1 202.0h0M479.4 183.9h0M666.9 204.8h0M476.3 201.5h0M446.2 182.5h0M636.0 226.5h0M411.3 177.8h0M653.3 205.2h0M483.9 194.6h0M615.1 182.6h0M402.3 194.9h0M452.3 196.2h0M558.9 177.4h0M587.5 176.8h0M425.6 177.6h0M504.1 198.0h0M615.8 185.0h0M426.5 186.6h0M452.5 177.3h0M509.3 188.4h0M620.0 195.4h0M655.9 211.5h0M503.6 195.6h0M667.6 205.6h0M475.3 188.8h0M632.0 206.0h0M631.8 215.5h0M497.2 189.4h0M560.7 184.3h0M562.3 177.5h0M558.2 172.4h0M507.1 197.3h0M435.8 185.3h0M626.2 197.9h0M403.8 188.8h0M585.7 170.1h0M459.9 188.1h0M443.8 174.8h0M670.2 210.8h0M627.5 202.2h0M419.3 184.9h0M530.2 180.7h0M452.6 194.9h0M654.1 208.1h0M531.1 185.9h0M616.5 197.4h0M637.2 202.6h0M476.6 188.9h0M588.4 154.4h0M510.6 186.8h0M516.1 189.7h0M456.2 184.4h0M483.6 192.9h0M607.5 172.1h0M659.1 192.7h0M641.6 211.2h0M615.5 184.6h0M561.6 164.1h0M455.0 179.0h0M482.0 193.1h0M643.6 221.4h0M550.7 179.4h0M562.7 177.6h0M453.2 182.9h0M579.9 176.9h0M447.7 189.3h0M612.7 189.3h0M660.1 201.3h0M631.0 202.9h0M460.9 194.8h0M487.1 176.9h0M500.0 194.8h0M607.4 175.9h0M496.7 186.1h0M405.9 183.2h0M477.5 204.0h0M498.0 191.4h0M570.1 171.1h0M627.2 203.2h0M626.4 201.9h0M660.5 194.1h0M609.8 185.4h0M565.0 174.1h0M417.5 183.1h0M455.1 180.4h0M529.4 179.2h0M434.9 181.7h0M630.0 211.8h0M529.1 190.5h0M615.1 192.2h0M501.9 192.2h0M448.8 168.3h0M638.0 194.4h0M560.8 161.5h0M599.9 168.2h0M619.9 195.3h0M573.9 176.7h0M610.8 188.1h0M540.0 171.8h0M460.0 190.6h0M672.0 206.9h0M434.1 174.9h0M479.1 188.4h0M632.4 218.6h0M531.2 184.4h0M660.5 193.4h0M528.7 176.7h0M581.6 181.3h0M410.7 203.3h0M609.6 181.6h0M644.0 222.8h0M426.2 195.1h0M529.3 176.9h0M545.9 163.2h0M652.8 205.7h0M532.8 167.3h0M545.4 188.4h0M539.4 170.5h0M557.3 183.7h0M561.5 180.6h0M656.5 206.5h0M557.3 182.5h0M626.0 198.7h0M423.9 188.2h0M446.2 193.2h0M528.9 192.2h0M633.9 223.0h0M435.2 178.6h0M543.9 163.2h0M476.3 186.1h0M548.0 166.4h0M449.7 171.6h0M637.6 192.5h0M513.7 179.9h0M458.5 183.5h0M479.3 181.6h0M513.8 200.0h0M559.6 176.1h0M565.1 173.9h0M475.0 200.7h0M450.7 196.1h0M578.8 170.1h0M481.2 190.0h0M609.3 181.4h0M599.2 165.3h0M499.6 192.3h0M514.4 184.2h0M626.2 200.4h0M532.2 189.6h0M405.1 190.3h0M644.8 200.1h0M493.0 194.7h0M580.1 173.3h0M549.1 176.1h0M544.7 184.8h0M633.1 218.7h0M501.8 191.0h0M453.9 183.7h0M445.0 178.2h0M485.3 193.9h0M606.4 178.2h0M563.6 180.4h0M405.9 184.9h0M425.1 185.8h0M481.0 188.2h0M577.9 169.9h0M568.9 165.1h0M657.1 194.7h0M446.6 186.1h0M448.2 191.2h0M459.2 185.7h0M620.0 192.6h0M580.3 178.0h0M453.2 197.8h0M422.9 182.2h0M478.2 192.7h0M402.9 186.9h0M527.6 180.0h0M451.2 194.0h0M643.9 223.8h0M509.0 190.3h0M498.3 190.8h0M627.5 206.5h0M556.6 168.9h0M487.3 190.2h0M634.4 195.5h0M452.8 180.1h0M443.9 184.2h0M468.1 199.3h0M448.1 165.1h0M468.0 206.2h0M495.1 184.0h0M528.0 175.5h0M476.4 199.3h0M447.0 163.9h0M589.7 156.5h0M625.6 198.6h0M634.5 221.9h0M541.2 171.0h0M617.8 194.0h0M586.0 172.6h0M628.5 196.3h0M669.3 205.3h0M641.7 211.0h0M611.9 182.1h0M467.1 202.1h0M404.3 192.0h0M628.8 197.2h0M486.8 175.0h0M590.3 162.6h0M410.0 193.1h0M585.4 172.1h0M450.8 194.2h0M636.9 205.2h0M638.0 212.1h0M552.7 191.5h0M434.2 181.4h0M444.0 177.9h0M459.6 192.0h0M650.6 206.7h0M585.6 177.2h0M403.6 192.0h0M520.4 179.6h0M514.7 191.3h0M578.2 168.9h0M466.2 185.8h0M464.4 184.2h0M404.1 198.7h0M478.0 183.2h0M616.4 195.7h0M626.8 205.8h0M521.8 187.7h0M539.8 172.6h0M411.2 178.3h0M655.8 204.1h0M514.3 197.9h0M638.9 210.1h0M513.2 200.4h0M417.7 182.1h0M513.8 200.1h0M491.9 191.3h0M458.2 189.5h0M529.2 178.2h0M423.5 187.6h0M629.6 209.5h0M620.2 208.1h0M426.3 178.5h0M666.4 190.8h0M512.1 193.3h0M576.6 179.3h0M503.4 195.1h0M420.0 187.3h0M507.2 215.1h0M438.6 193.3h0M608.3 180.8h0M636.3 227.3h0M558.1 172.5h0M561.5 182.0h0M474.3 185.7h0M454.5 186.4h0M549.5 168.6h0M630.5 200.2h0M467.6 203.4h0M448.1 166.3h0M573.7 171.9h0M656.9 207.8h0M631.1 214.6h0M450.1 190.6h0M403.3 186.9h0M519.9 177.2h0M639.6 211.4h0M487.8 187.5h0M436.0 183.8h0M521.7 185.6h0M560.9 178.8h0M468.3 204.9h0M502.1 192.0h0M527.5 188.5h0M444.2 186.4h0M668.8 204.4h0M617.4 191.4h0M527.5 174.2h0M434.5 176.2h0M402.6 194.3h0M643.8 215.0h0M633.6 191.8h0M447.9 188.4h0M530.4 183.1h0M529.6 177.9h0M401.5 180.9h0M629.1 207.5h0M402.5 196.0h0M669.0 206.8h0M476.1 188.0h0M434.7 187.2h0M634.1 220.6h0M506.2 214.8h0M558.9 187.7h0M600.5 165.9h0M665.3 191.7h0M609.6 189.0h0M470.1 202.7h0M606.5 171.7h0M546.1 188.8h0M598.8 163.8h0M501.0 188.2h0M402.9 182.9h0M499.7 193.3h0M516.7 188.0h0M436.9 188.0h0M495.9 183.1h0M630.2 199.2h0M527.8 184.8h0M479.4 183.0h0M478.8 193.0h0M414.9 187.4h0M529.2 193.3h0M579.2 168.1h0M634.1 221.9h0M629.5 208.1h0M495.9 200.0h0M608.5 179.2h0M569.9 171.3h0M473.8 197.9h0M480.0 190.2h0M670.4 210.8h0M424.2 185.1h0M498.2 192.5h0M577.0 179.5h0M563.2 179.5h0M643.3 219.3h0M586.0 175.5h0M621.5 191.9h0M510.7 195.8h0M461.6 177.9h0M497.4 185.7h0M544.7 162.1h0M477.7 188.9h0M638.6 208.5h0M568.9 167.5h0M637.2 189.7h0M666.4 195.3h0M633.6 195.9h0M558.9 188.0h0M408.6 188.7h0M518.9 176.1h0M561.6 164.9h0M643.7 223.0h0M532.1 187.6h0M443.8 176.4h0M480.2 194.8h0M414.7 185.2h0M447.4 195.7h0M488.9 191.5h0M447.2 173.3h0M656.2 205.4h0M669.6 212.2h0M628.4 205.2h0M448.3 192.0h0M579.3 175.2h0M637.8 192.7h0M610.2 185.5h0M530.4 175.2h0M463.1 182.0h0M635.9 206.1h0M552.7 190.0h0M636.2 200.6h0M598.9 164.3h0M559.5 169.2h0M464.5 184.0h0M479.2 180.1h0M512.4 193.5h0M444.7 190.4h0M410.4 180.6h0M632.5 205.5h0M527.0 183.4h0M585.8 170.9h0M591.0 178.3h0M416.3 189.4h0M525.8 182.9h0M617.2 187.1h0M603.4 173.3h0M631.3 216.6h0M530.1 180.4h0M524.2 182.0h0M574.9 181.8h0M497.6 180.9h0M562.5 176.4h0M510.6 197.3h0M467.9 185.3h0M450.0 172.6h0M433.6 178.9h0M627.7 203.5h0M669.3 206.9h0M459.9 194.2h0M486.9 193.4h0M581.3 179.6h0M621.3 212.3h0M673.0 211.4h0M492.2 192.8h0M654.3 210.6h0M560.9 178.3h0M440.1 189.5h0M591.0 181.3h0M561.8 163.5h0M512.3 199.2h0M558.4 170.5h0" stroke="#6ad0b6" stroke-width="2.8" stroke-opacity="0.36"/>
<path d="M461.4 177.0h0M545.1 159.7h0M538.1 167.6h0M445.2 179.7h0M636.1 206.0h0M607.9 173.5h0M530.6 180.1h0M438.2 183.1h0M667.7 202.4h0M450.8 190.8h0M668.6 208.9h0M564.6 173.3h0M629.9 199.0h0M530.0 181.5h0M611.9 188.4h0M634.5 224.0h0M424.9 193.7h0M561.8 162.6h0M478.1 193.0h0M514.4 183.5h0M558.6 171.2h0M659.4 198.2h0M484.8 196.2h0M630.7 212.9h0M657.1 208.8h0M520.4 179.5h0M503.3 193.2h0M529.6 175.7h0M654.2 209.0h0M573.5 171.2h0M620.9 208.3h0M527.2 170.9h0M575.8 178.4h0M520.2 183.5h0M584.2 174.1h0M560.5 177.1h0M560.6 180.7h0M519.4 189.8h0M497.9 187.7h0M403.1 187.5h0M497.5 181.8h0M559.8 189.5h0M614.7 190.6h0M436.2 180.4h0M437.2 177.0h0M424.3 190.6h0M540.9 171.3h0M549.7 171.8h0M525.9 174.5h0M450.3 188.5h0M638.5 208.7h0M425.1 188.4h0M668.0 196.0h0M434.2 177.3h0M579.6 174.0h0M514.0 197.6h0M487.7 177.8h0M670.7 212.5h0M651.5 208.8h0M667.6 198.2h0M577.4 181.5h0M459.7 191.7h0M558.2 173.0h0M546.0 161.0h0M549.2 174.6h0M575.2 180.6h0M511.4 198.0h0M404.3 192.6h0M638.3 205.7h0M515.0 184.4h0M479.9 186.2h0M489.6 194.4h0M577.5 172.9h0M487.5 189.8h0M626.3 194.0h0M643.4 217.9h0M636.9 210.1h0M608.6 181.5h0M628.5 206.9h0M487.4 188.3h0M607.2 175.0h0M513.8 178.9h0M581.4 175.1h0M643.6 220.9h0M503.7 198.0h0M643.6 217.0h0M598.2 160.4h0M454.1 185.5h0M505.0 198.8h0M407.6 185.6h0M463.1 184.0h0M513.9 183.1h0M402.9 192.1h0M635.7 225.4h0M579.6 171.1h0M564.8 167.8h0M673.0 212.8h0M497.6 190.6h0M507.7 187.1h0M667.2 200.4h0M660.1 201.2h0M570.0 168.8h0M477.3 202.5h0M590.0 160.1h0M520.2 178.9h0M485.6 189.6h0M642.6 212.7h0M407.4 186.4h0M611.1 183.2h0M558.7 179.0h0M478.8 188.4h0M410.9 201.3h0M632.0 190.0h0M582.8 167.2h0M488.5 191.5h0M526.8 177.1h0M673.0 215.5h0M619.8 192.1h0M599.6 167.1h0M578.5 172.7h0M527.2 187.9h0M668.0 203.1h0M581.6 167.5h0M641.4 218.1h0M411.5 202.9h0M557.1 183.6h0M455.2 175.3h0M548.0 171.8h0M460.9 192.7h0M416.2 189.0h0M527.6 188.8h0M668.8 190.6h0M458.3 191.9h0M668.2 200.3h0M442.3 182.4h0M435.9 192.1h0M409.0 190.7h0M496.0 188.0h0M626.1 211.0h0M590.4 161.2h0M673.0 213.8h0M480.3 187.0h0M609.3 178.2h0M671.1 209.6h0M481.7 195.7h0M547.2 164.2h0M636.9 202.8h0M652.6 209.3h0M509.7 191.4h0M637.8 203.8h0M445.7 183.9h0M663.7 197.8h0M450.8 190.0h0M616.7 195.9h0M404.2 198.1h0M419.3 187.9h0M538.8 169.4h0M520.3 179.9h0M405.6 182.7h0M401.5 182.7h0M578.4 169.7h0M473.9 196.2h0M610.8 185.1h0M560.0 175.4h0M567.9 162.9h0M643.0 213.4h0M511.7 190.2h0M531.2 180.4h0M405.6 193.8h0M586.6 176.2h0M456.2 183.3h0M551.2 172.3h0M632.9 191.9h0M599.6 163.6h0M604.1 176.4h0M575.1 175.6h0M506.0 202.1h0M579.4 173.0h0M422.8 179.2h0M585.0 176.5h0M521.7 188.0h0M616.5 189.0h0M564.5 163.2h0M557.8 187.6h0M660.3 200.8h0M579.3 176.7h0M610.0 183.9h0M632.2 217.2h0M445.7 183.1h0M435.3 191.6h0M409.9 201.9h0M667.1 200.0h0M496.4 203.1h0M638.9 213.2h0M433.6 179.9h0M445.0 191.7h0M434.2 177.3h0M453.3 182.4h0M415.7 184.9h0M630.9 201.7h0M552.5 192.9h0M621.0 211.4h0M413.4 181.3h0M668.8 201.2h0M592.1 180.5h0M612.2 182.2h0M640.1 212.9h0M480.8 190.7h0M419.8 184.8h0M639.9 211.1h0M590.1 161.1h0M469.0 202.8h0M612.5 184.3h0M616.0 188.0h0M423.6 189.0h0M636.1 207.0h0M667.7 203.3h0M462.4 179.2h0M480.7 191.4h0M591.1 177.9h0M437.6 178.9h0M668.2 203.5h0M418.9 183.6h0M620.0 209.4h0M481.7 167.8h0M632.6 194.5h0M548.3 172.8h0M629.6 211.1h0M634.9 222.0h0M529.2 182.3h0M661.7 196.0h0M618.9 191.2h0M407.7 186.7h0M604.5 178.0h0M506.2 199.1h0M446.5 171.8h0M515.6 187.9h0M432.1 172.6h0M634.7 203.5h0M447.2 163.4h0M587.1 174.4h0M629.8 199.3h0M402.9 183.2h0M479.2 192.3h0M453.2 179.3h0M607.9 177.1h0M635.7 208.2h0M591.5 163.4h0M632.5 217.7h0M487.1 191.9h0M591.2 179.5h0M541.2 171.8h0M496.0 185.1h0M415.7 185.3h0M625.7 198.7h0M634.4 202.7h0M546.7 186.7h0M477.4 195.5h0M639.9 211.9h0M540.5 176.5h0M610.5 183.1h0M413.5 182.5h0M668.5 209.0h0M585.9 177.7h0M411.8 174.3h0M580.1 172.6h0M532.9 187.8h0M640.5 216.5h0M481.1 194.7h0M401.9 182.1h0M450.0 192.6h0M544.7 166.9h0M574.9 177.2h0M550.5 171.5h0M515.5 185.8h0M659.5 192.1h0M638.5 206.1h0M424.6 192.9h0M470.3 206.5h0M448.8 169.4h0M492.2 189.6h0M564.8 177.5h0M404.4 191.3h0M608.9 178.9h0M512.1 194.9h0M529.2 179.8h0M671.8 212.1h0M531.9 187.2h0M612.4 191.5h0M529.7 195.0h0M546.0 167.8h0M668.5 202.0h0M545.6 162.1h0M464.9 185.9h0M468.3 200.6h0M641.1 214.9h0M660.9 203.1h0M589.9 160.9h0M435.8 188.7h0M406.2 196.0h0M549.0 168.0h0M672.7 216.2h0M615.2 188.1h0M461.0 194.1h0M631.6 201.7h0M436.6 185.0h0M604.3 177.3h0M610.7 180.5h0M641.6 207.7h0M459.6 193.0h0M402.6 184.9h0M511.0 197.2h0M612.0 186.8h0M665.3 193.3h0M495.2 197.2h0M542.1 170.2h0M592.2 182.3h0M417.4 180.8h0M607.3 176.0h0M631.3 202.7h0M611.0 186.0h0M650.6 203.1h0M519.7 176.6h0M610.5 186.6h0M644.6 204.0h0M470.6 204.5h0M402.1 184.0h0M653.4 207.4h0M449.5 186.5h0M459.2 192.6h0M626.1 197.8h0M630.3 211.3h0M492.7 192.5h0M450.0 185.2h0M434.7 178.9h0M498.4 193.2h0M414.9 184.6h0M408.9 191.5h0M550.8 176.6h0M602.8 169.8h0M558.7 173.2h0M589.7 159.0h0M574.6 181.4h0M412.6 179.5h0M479.5 187.1h0M469.0 202.3h0M419.7 185.4h0M589.3 158.5h0M586.0 172.0h0M628.8 207.8h0M617.9 191.4h0M604.2 177.3h0M672.5 211.8h0M606.5 169.4h0M528.6 190.7h0M501.7 186.9h0M444.9 187.7h0M480.2 182.5h0M661.7 197.4h0M628.0 206.5h0M551.6 190.0h0M442.9 185.9h0M438.8 180.5h0M667.4 202.4h0M582.0 161.3h0M557.5 175.0h0M563.7 170.4h0M519.5 180.8h0M477.7 190.2h0M548.9 174.5h0M606.5 180.9h0M459.0 186.8h0M609.5 180.4h0M564.6 171.0h0M503.7 197.3h0M572.8 174.4h0M628.3 196.4h0M525.4 185.4h0M583.2 168.6h0M437.9 172.4h0M670.3 208.7h0M573.5 173.8h0M598.1 161.3h0M515.8 184.8h0M434.0 186.8h0M514.1 182.3h0M639.4 209.4h0M495.3 198.6h0M404.3 199.4h0M427.2 179.2h0M614.8 178.6h0M426.3 189.4h0M545.2 184.4h0M425.4 175.1h0M404.7 188.7h0M635.7 188.6h0M445.1 195.6h0M642.9 215.2h0M526.0 183.5h0M467.0 200.7h0M463.4 181.6h0M652.5 203.2h0M589.9 160.7h0M424.7 184.4h0M635.0 205.1h0M634.9 204.5h0M469.8 191.7h0" stroke="#6ad0b6" stroke-width="2.8" stroke-opacity="0.36"/>
<path d="M405.4 192.7h0M434.8 189.4h0M614.8 180.4h0M590.1 158.6h0M423.7 182.9h0M644.8 224.9h0M612.0 188.3h0M445.4 183.4h0M527.3 178.2h0M671.2 205.3h0M508.1 185.9h0M559.3 175.1h0M643.1 218.0h0M413.9 183.2h0M480.1 191.8h0M433.9 172.8h0M630.4 212.2h0M629.1 210.9h0M437.8 191.4h0M607.8 170.4h0M425.5 176.3h0M530.9 179.8h0M467.5 198.2h0M616.0 186.4h0M427.2 178.4h0M417.9 180.6h0M637.9 207.3h0M486.7 192.5h0M614.5 192.0h0M492.1 190.6h0M529.8 180.9h0M414.4 187.1h0M585.0 174.7h0M446.6 185.5h0M476.8 202.6h0M466.5 201.5h0M593.8 162.8h0M496.3 200.3h0M448.3 187.1h0M448.3 188.1h0M500.4 186.8h0M671.9 210.7h0M502.8 195.6h0M583.9 171.1h0M475.7 185.7h0M513.1 198.5h0M482.0 169.5h0M671.4 207.6h0M569.0 166.7h0M505.3 211.3h0M609.6 184.0h0M464.7 180.4h0M488.2 192.9h0M631.3 188.9h0M575.1 173.0h0M404.0 186.1h0M615.5 187.0h0M556.8 181.0h0M632.4 208.0h0M510.8 195.0h0M667.5 197.1h0M557.7 184.9h0M404.4 201.1h0M474.5 200.4h0M460.6 189.9h0M608.6 177.5h0M446.0 169.1h0M558.9 174.4h0M406.1 197.3h0M591.4 163.0h0M597.8 158.4h0M556.3 171.9h0M579.9 176.3h0M652.1 203.5h0M483.0 195.8h0M629.6 207.1h0M581.9 179.0h0M607.8 174.1h0M443.7 184.7h0M496.4 183.9h0M497.4 183.9h0M578.7 168.0h0M559.3 173.3h0M447.4 184.7h0M627.5 204.6h0M560.8 161.5h0M529.3 194.9h0M458.2 187.7h0M614.7 183.6h0M530.7 177.6h0M504.8 208.0h0M404.1 185.9h0M501.8 194.0h0M410.2 191.6h0M629.8 200.4h0M546.0 166.5h0M448.3 184.5h0M631.5 206.9h0M612.2 184.3h0M592.0 164.6h0M630.9 215.0h0M502.6 194.8h0M616.3 193.6h0M640.2 213.7h0M549.1 168.9h0M660.0 193.6h0M426.8 181.0h0M525.6 174.8h0M509.4 188.6h0M443.8 176.9h0M545.9 160.1h0M579.7 170.5h0M637.3 209.2h0M485.0 195.1h0M642.5 219.9h0M628.7 208.4h0M518.5 187.0h0M537.3 172.2h0M437.5 178.6h0M604.2 175.5h0M642.5 216.9h0M423.4 180.8h0M608.7 177.0h0M446.9 173.1h0M514.1 180.1h0M519.8 180.8h0M563.2 171.1h0M405.2 198.6h0M479.4 186.9h0M480.4 192.2h0M574.7 174.9h0M543.0 161.2h0M607.3 174.8h0M451.7 194.2h0M558.2 175.6h0M670.4 207.4h0M483.3 170.6h0M639.7 213.0h0M641.1 218.3h0M540.8 175.6h0M606.8 171.4h0M637.1 190.6h0M502.7 193.3h0M668.6 203.5h0M495.6 184.9h0M544.4 165.7h0M661.3 200.3h0M530.5 182.2h0M667.8 201.4h0M448.8 168.1h0M511.3 192.1h0M614.6 180.8h0M582.6 168.6h0M496.7 189.6h0M486.0 190.1h0M617.9 189.6h0M424.9 192.5h0M617.4 190.5h0M480.5 183.6h0M656.8 204.4h0M447.8 186.2h0M510.2 193.3h0M546.7 169.4h0M404.7 186.1h0M639.3 209.5h0M641.6 219.9h0M589.7 157.2h0M607.6 173.7h0M550.8 179.6h0M632.1 217.1h0M477.2 190.9h0M546.3 165.5h0M519.3 191.5h0M558.2 169.0h0M498.0 182.1h0M437.0 178.3h0M492.9 192.0h0M527.5 176.7h0M501.2 189.5h0M474.9 197.4h0M447.7 190.7h0M615.6 193.9h0M452.3 196.2h0M464.8 182.6h0M473.5 197.6h0M425.4 187.0h0M481.8 168.6h0M586.5 172.3h0M437.9 187.6h0M438.6 188.1h0M610.1 185.1h0M404.7 194.5h0M486.1 186.5h0M436.5 182.9h0M505.6 187.4h0M468.2 200.2h0M628.7 194.7h0M529.8 180.5h0M445.0 190.0h0M486.1 192.5h0M673.0 215.2h0M575.7 175.5h0M509.6 191.9h0M551.5 173.4h0M477.5 174.9h0M548.3 170.8h0M531.1 186.6h0M463.1 178.7h0M538.8 166.6h0M487.6 177.1h0M497.7 188.0h0M549.0 169.6h0M642.1 211.9h0M574.2 179.2h0M589.5 159.9h0M633.1 193.8h0M474.6 203.3h0M616.9 198.3h0M631.8 204.0h0M564.9 180.2h0M446.8 171.2h0M629.3 208.3h0M435.2 181.0h0M632.6 219.7h0M642.0 208.7h0M630.4 200.6h0M558.0 170.4h0M444.1 180.8h0M572.7 176.8h0M593.5 166.7h0M480.6 193.8h0M548.4 166.3h0M446.1 193.8h0M650.4 206.1h0M603.2 173.4h0M476.1 199.1h0M589.8 157.3h0M636.5 188.5h0M436.6 192.9h0M505.7 201.5h0M412.9 180.0h0M659.1 190.0h0M473.9 198.3h0M634.5 200.9h0M480.2 184.1h0M446.4 184.7h0M545.1 186.9h0M447.6 187.2h0M633.9 220.1h0M433.9 185.8h0M651.7 208.4h0M455.6 182.5h0M631.0 212.8h0M444.4 184.7h0M639.1 210.6h0M631.2 214.9h0M438.5 181.6h0M568.0 165.2h0M496.5 200.6h0M637.2 192.1h0M506.4 214.1h0M482.6 170.4h0M478.9 180.0h0M456.1 179.6h0M569.4 166.4h0M401.5 195.4h0M562.6 167.4h0M608.5 180.6h0M612.0 189.1h0M496.0 187.0h0M436.6 186.2h0M672.6 208.6h0M557.4 174.0h0M424.9 190.6h0M642.3 218.5h0M445.3 193.2h0M605.1 180.3h0M521.3 181.4h0M405.6 192.9h0M632.4 218.9h0M627.7 203.5h0M599.1 163.8h0M474.6 174.4h0M618.1 187.9h0M475.3 195.3h0M543.5 162.7h0M408.8 189.1h0M638.7 205.2h0M627.1 201.9h0M508.9 190.5h0M573.0 175.7h0M636.8 209.0h0M541.2 173.9h0M518.7 189.1h0M440.6 180.6h0M505.6 212.0h0M544.4 165.1h0M583.3 171.2h0M559.7 178.6h0M630.5 201.3h0M564.7 178.9h0M605.0 173.9h0M520.8 183.8h0M450.3 193.1h0M615.5 189.1h0M480.8 189.0h0M642.1 197.3h0M619.0 192.4h0M618.9 191.1h0M457.5 187.2h0M478.1 176.9h0M445.7 183.3h0M457.7 190.5h0M513.1 195.2h0M639.4 211.9h0M654.8 210.6h0M484.5 188.4h0M478.7 178.1h0M448.7 169.8h0M460.9 185.3h0M476.0 184.6h0M633.0 218.1h0M467.2 204.8h0M505.2 209.9h0M469.5 180.8h0M448.7 184.7h0M499.8 193.6h0M455.4 176.9h0M410.2 199.4h0M475.2 201.5h0M626.3 201.8h0M607.0 172.0h0M638.4 207.7h0M546.1 169.1h0M650.2 204.8h0M540.6 183.4h0M530.0 174.4h0M498.6 189.9h0M668.2 206.7h0M620.1 211.3h0M573.3 178.1h0M518.8 188.8h0M427.1 182.4h0M497.9 187.3h0M602.1 171.4h0M497.7 198.7h0M598.9 162.1h0M527.9 175.1h0M478.6 185.6h0M435.6 189.7h0M520.9 184.6h0M640.8 205.1h0M585.2 167.3h0M585.1 169.6h0M436.0 181.9h0M665.6 194.3h0M673.0 216.9h0M506.0 212.3h0M526.8 186.6h0M673.0 212.7h0M659.3 198.1h0M483.5 187.2h0M402.3 179.8h0M479.3 181.2h0M667.6 203.3h0M486.6 174.1h0M651.8 201.4h0M487.1 187.9h0M556.8 173.3h0M549.4 177.2h0M457.7 184.9h0M495.6 191.5h0M573.4 173.4h0M576.4 177.8h0M629.3 209.6h0M621.4 211.8h0M671.2 213.7h0M668.1 199.1h0M527.0 178.4h0M610.1 182.4h0M560.0 174.0h0M577.8 165.8h0M558.4 185.6h0M672.6 214.7h0M671.1 208.4h0M661.0 195.7h0M553.2 191.9h0M488.2 183.2h0M508.5 187.4h0M568.0 163.2h0M403.4 184.0h0M478.0 177.9h0M520.4 182.6h0M511.1 192.6h0M608.1 178.8h0M449.5 187.6h0M546.4 190.6h0M485.7 190.9h0M401.5 179.3h0M444.0 188.2h0M513.3 184.9h0M513.1 190.3h0M659.2 190.2h0M458.6 186.2h0M473.6 195.3h0M525.8 174.0h0" stroke="#6ad0b6" stroke-width="2.8" stroke-opacity="0.36"/>
<path d="M652.0 193.3h0M494.3 193.5h0M575.3 168.7h0M509.4 190.8h0M469.6 201.4h0M506.4 184.4h0M597.2 182.5h0M487.3 200.7h0M609.8 181.5h0M650.8 193.0h0M591.1 179.5h0M615.5 194.1h0M542.3 199.5h0M553.6 201.2h0M579.2 175.8h0M436.8 177.7h0M659.8 198.3h0M616.7 184.0h0M610.9 187.6h0M495.4 192.4h0M571.5 175.9h0M407.5 175.3h0M514.2 172.9h0M656.2 192.7h0M469.2 201.8h0M609.3 173.3h0M589.6 180.9h0M596.0 177.4h0M517.0 186.3h0M598.0 180.2h0M431.0 174.5h0M634.3 176.5h0M436.3 191.0h0M538.4 197.5h0M518.5 190.4h0M544.1 207.0h0M633.3 180.8h0M463.5 191.4h0M668.1 193.0h0M593.9 185.7h0M638.9 180.2h0M623.3 176.4h0M622.8 187.9h0M631.1 172.9h0M468.9 199.1h0M664.1 212.7h0M625.5 168.9h0M515.1 189.7h0M451.4 200.9h0M660.7 183.2h0M459.1 198.4h0M551.5 198.3h0M540.9 196.8h0M559.5 184.0h0M472.6 201.6h0M632.3 179.3h0M548.1 212.7h0M491.4 185.9h0M629.8 182.7h0M643.6 181.3h0M665.3 213.4h0M586.1 169.0h0M652.1 187.1h0M492.4 195.8h0M598.6 172.0h0M644.0 183.4h0M544.6 196.2h0M473.0 201.5h0M609.5 171.4h0M663.3 204.4h0M414.8 191.5h0M656.9 191.2h0M567.4 158.2h0M551.7 192.5h0M619.8 183.7h0M495.5 189.7h0M459.0 191.0h0M618.7 183.4h0M642.6 176.1h0M567.0 155.9h0M557.2 189.3h0M634.1 185.0h0M474.7 190.3h0M516.9 189.9h0M638.8 178.9h0M555.1 178.4h0M561.5 185.7h0M500.0 197.4h0M457.4 193.7h0M648.9 196.8h0M542.5 191.1h0M610.6 182.6h0M459.0 196.0h0M528.2 180.7h0M593.9 169.3h0M643.0 173.5h0M627.4 175.7h0M617.0 184.8h0M471.0 201.7h0M641.6 186.9h0M517.1 184.3h0M490.0 185.8h0M477.4 200.7h0M622.6 176.8h0M481.8 183.0h0M543.7 189.6h0M544.3 193.0h0M560.4 189.9h0M596.9 189.0h0M411.8 183.1h0M627.6 188.0h0M554.3 190.5h0M496.8 200.8h0M666.8 199.0h0M646.1 189.6h0M547.3 176.6h0M560.6 192.9h0M425.2 179.0h0M416.4 173.4h0M643.3 183.2h0M404.4 173.4h0M546.1 199.1h0M611.2 183.4h0M549.7 217.3h0M648.8 198.4h0M623.5 178.4h0M629.0 174.9h0M551.7 187.2h0M646.1 190.3h0M656.1 198.7h0M503.1 185.2h0M594.5 182.2h0M421.7 177.8h0M567.5 173.1h0M497.2 195.3h0M402.9 172.0h0M622.0 179.8h0M616.2 175.0h0M503.8 184.9h0M660.7 195.1h0M621.7 174.2h0M515.5 179.6h0M544.8 192.8h0M518.0 192.3h0M556.7 183.6h0M580.7 180.3h0M413.3 189.1h0M495.2 185.0h0M555.8 191.1h0M596.3 175.8h0M455.7 191.0h0M587.8 169.5h0M657.8 192.2h0M610.3 175.4h0M460.4 195.5h0M567.2 158.5h0M499.3 197.8h0M560.1 183.8h0M494.8 173.2h0M567.8 157.5h0M656.3 202.1h0M623.8 183.6h0M460.7 196.4h0M428.7 182.7h0M575.9 170.9h0M668.3 199.3h0M494.0 197.0h0M617.5 170.7h0M582.3 176.7h0M665.2 193.5h0M505.9 198.1h0M500.6 200.7h0M595.2 175.8h0M460.7 198.3h0M630.5 182.6h0M559.8 185.3h0M655.3 197.3h0M415.4 193.4h0M607.2 179.7h0M561.9 195.8h0M656.3 192.8h0M464.3 190.0h0M558.5 191.3h0M662.6 203.3h0M497.1 204.4h0M548.3 213.7h0M493.6 198.0h0M558.0 189.3h0M643.2 174.5h0M644.8 190.6h0M668.9 209.3h0M550.4 190.7h0M459.2 196.3h0M645.4 187.6h0M599.5 182.4h0M608.2 183.5h0M456.5 188.7h0M643.1 188.2h0M472.1 192.9h0M516.2 185.7h0M653.5 202.5h0M593.8 178.5h0M617.8 188.5h0M635.2 173.4h0M622.4 162.3h0M436.1 189.1h0M609.9 173.1h0M575.6 172.2h0M624.0 186.9h0M461.3 197.5h0M452.3 170.7h0M417.0 173.9h0M575.0 167.4h0M609.5 184.0h0M537.3 183.9h0M646.7 178.1h0M578.2 173.0h0M618.5 187.7h0M427.8 181.7h0M561.4 188.3h0M577.1 168.9h0M437.0 189.0h0M409.3 178.2h0M597.2 177.5h0M598.8 170.4h0M442.5 198.7h0M634.2 184.6h0M539.0 190.9h0M668.3 203.3h0M436.4 175.6h0M645.7 173.8h0M631.3 183.7h0M613.3 189.8h0M519.4 179.3h0M513.3 179.7h0M432.1 185.8h0M643.4 175.1h0M657.3 195.0h0M648.2 196.4h0M627.7 166.2h0M652.5 196.8h0M594.5 177.3h0M594.2 180.9h0M627.5 177.7h0M617.9 185.6h0M609.4 183.8h0M468.0 197.3h0M631.1 181.8h0M481.5 184.7h0M475.5 206.0h0M494.1 171.6h0M413.2 177.7h0M483.0 194.4h0M495.9 188.8h0M652.1 198.5h0M582.0 163.8h0M642.7 184.8h0M643.7 181.7h0M550.0 185.0h0M543.6 205.4h0M516.5 189.6h0M577.2 172.9h0M642.8 187.2h0M615.1 185.8h0M460.5 194.2h0M482.3 198.7h0M586.7 186.2h0M531.6 179.3h0M648.9 196.8h0M647.5 195.7h0M441.9 194.7h0M670.7 198.8h0M662.0 202.0h0M501.4 200.7h0M415.8 169.0h0M524.0 187.9h0M609.4 183.1h0M647.2 176.3h0M614.2 181.8h0M629.7 183.2h0M538.0 186.4h0M594.4 174.5h0M606.7 173.1h0M577.9 163.8h0M477.7 197.0h0M656.0 193.2h0M655.3 195.1h0M499.8 207.0h0M557.2 185.1h0M442.8 196.2h0M556.7 182.2h0M629.1 171.9h0M616.0 183.5h0M503.7 187.4h0M630.0 186.5h0M622.4 161.1h0M416.4 171.7h0M612.4 193.3h0M616.5 167.0h0M670.1 204.3h0M417.8 175.8h0M519.8 189.0h0M543.7 190.1h0M611.8 186.3h0M622.9 178.9h0M519.0 177.7h0M512.8 183.4h0M666.8 198.5h0M627.3 174.3h0M613.9 190.3h0M466.1 197.1h0M476.8 197.3h0M639.7 182.0h0M543.2 200.3h0M627.5 175.2h0M517.3 190.9h0M645.5 190.8h0M504.0 202.2h0M410.4 181.5h0M666.7 196.8h0M611.1 175.0h0M518.7 187.4h0M667.1 200.3h0M538.5 190.5h0M663.5 209.1h0M606.7 180.6h0M550.4 196.0h0M603.3 177.7h0M649.3 195.8h0M614.8 171.6h0M499.1 198.4h0M557.5 186.8h0M425.7 175.2h0M589.1 173.3h0M634.8 189.3h0M438.1 181.3h0M511.4 196.6h0M507.6 185.5h0M519.0 180.5h0M617.2 177.3h0M653.5 198.8h0M581.1 181.4h0M477.1 200.1h0M513.8 172.9h0M655.1 198.8h0M408.9 173.7h0M625.5 169.3h0M626.1 185.1h0M513.6 183.9h0M628.5 181.6h0M516.7 186.9h0M640.8 184.0h0M539.7 182.6h0M644.9 189.5h0M642.0 185.1h0M574.0 165.7h0M653.9 197.5h0M631.9 173.1h0M623.7 184.9h0M657.0 202.3h0M458.7 197.5h0M460.8 201.2h0M631.2 185.7h0M525.2 189.7h0M550.6 196.5h0M495.2 174.6h0M624.5 181.7h0M661.4 187.4h0M525.1 173.1h0M416.7 170.4h0M504.3 202.0h0M480.1 178.6h0M483.2 194.3h0M632.3 179.9h0M462.2 203.8h0M450.5 197.2h0M539.5 177.6h0M622.3 174.2h0M465.0 195.6h0M539.6 186.8h0M598.6 190.0h0M416.5 173.0h0M654.2 190.6h0M621.2 157.2h0M616.8 177.0h0M451.5 168.5h0M619.0 176.3h0M608.0 176.7h0M560.3 187.7h0M523.3 186.1h0M427.4 181.3h0M641.1 182.1h0M656.5 193.5h0M456.9 193.0h0M582.4 163.6h0M457.1 184.5h0M494.4 196.3h0M498.1 195.9h0M656.3 199.2h0M514.0 167.1h0M611.6 178.1h0M663.6 207.1h0M647.8 193.8h0M583.0 165.8h0M576.1 170.6h0M658.0 202.8h0M600.8 182.1h0M430.5 172.3h0M509.0 187.1h0M411.9 184.3h0M647.7 191.6h0M646.6 193.4h0M628.7 180.4h0M543.9 189.6h0M448.7 190.3h0M428.0 179.8h0M581.4 174.8h0M633.7 185.9h0M417.9 176.9h0M654.1 194.0h0M511.5 195.8h0M459.9 193.6h0M501.3 198.9h0M435.9 168.1h0M662.9 190.7h0M575.4 169.7h0M663.3 207.9h0M655.9 186.7h0M528.2 185.1h0M611.2 177.3h0M619.1 179.4h0M629.1 179.9h0M664.0 207.2h0M595.9 190.2h0M656.6 201.0h0M490.9 189.0h0M612.2 179.7h0M552.7 187.5h0M437.2 170.6h0M667.1 202.3h0M532.1 180.0h0M471.2 199.5h0M517.8 194.0h0M416.5 195.9h0M497.4 193.2h0M654.1 192.6h0M633.0 184.3h0M465.3 191.4h0M582.6 166.0h0M524.2 187.9h0M662.5 204.4h0M553.8 191.5h0M605.2 182.8h0M546.3 200.6h0M645.2 189.9h0M443.2 173.0h0M597.2 177.5h0M524.1 188.2h0M542.3 200.5h0M606.7 175.6h0M632.3 187.0h0M578.0 173.3h0M631.8 189.2h0M484.8 189.4h0M477.1 195.8h0M401.5 179.4h0M628.7 170.1h0M553.6 193.9h0M599.9 178.3h0M502.5 183.4h0M524.4 170.0h0M625.3 180.9h0M485.2 190.6h0M459.2 195.9h0M495.5 199.6h0M544.0 202.1h0M579.9 177.6h0M654.7 192.0h0M548.4 216.0h0M541.0 187.1h0M409.2 178.4h0M559.7 187.0h0M505.0 205.1h0M598.6 191.7h0M570.4 174.7h0M523.0 170.5h0M408.3 173.6h0M546.8 175.6h0M401.6 184.8h0M461.9 204.5h0M656.0 191.7h0M671.5 200.8h0M576.4 173.5h0M559.9 186.2h0M626.3 173.3h0M464.1 192.6h0M518.6 196.2h0M495.0 177.0h0M596.0 174.2h0M551.6 199.9h0M545.0 196.1h0M596.5 186.3h0M646.9 176.1h0M505.9 180.1h0M535.8 185.6h0M662.2 187.9h0M496.6 204.2h0M608.5 181.1h0M655.4 195.7h0M648.6 195.5h0M614.7 175.2h0M409.5 179.2h0M643.1 180.8h0M409.5 177.3h0M549.3 217.0h0M437.9 183.1h0M613.3 188.9h0M462.2 196.0h0M596.9 184.7h0M548.0 179.4h0M616.2 178.7h0M539.6 176.9h0M629.5 178.2h0" stroke="#e8944a" stroke-width="2.8" stroke-opacity="0.36"/>
<path d="M652.6 186.0h0M449.6 192.4h0M497.7 204.5h0M656.4 189.6h0M515.6 181.6h0M613.6 171.5h0M657.9 204.0h0M514.2 169.7h0M488.2 193.1h0M496.8 196.5h0M543.7 195.2h0M669.9 196.7h0M641.1 182.9h0M611.9 191.2h0M588.4 176.4h0M663.1 204.8h0M656.2 185.9h0M657.9 203.5h0M666.3 196.8h0M648.1 196.8h0M655.2 196.9h0M498.7 195.7h0M587.4 187.1h0M637.8 175.0h0M608.9 186.6h0M481.3 181.1h0M504.6 190.4h0M654.1 199.2h0M471.3 199.5h0M407.5 198.7h0M655.5 199.1h0M656.2 195.8h0M602.2 186.2h0M629.5 183.9h0M627.2 186.1h0M446.7 187.7h0M517.3 176.0h0M578.1 174.7h0M475.6 196.8h0M672.0 202.2h0M607.8 179.7h0M518.1 195.7h0M433.1 188.4h0M660.6 200.5h0M497.5 203.9h0M567.7 158.6h0M656.6 201.1h0M492.6 196.8h0M523.1 171.7h0M642.0 175.8h0M448.2 187.6h0M471.1 197.3h0M415.4 190.2h0M540.3 186.2h0M644.4 187.5h0M559.0 186.5h0M460.9 194.8h0M618.9 188.5h0M643.4 192.1h0M460.7 201.0h0M588.1 168.5h0M519.8 183.0h0M626.7 181.5h0M624.0 186.3h0M577.4 174.3h0M516.1 188.6h0M604.9 183.3h0M643.7 194.0h0M554.7 191.1h0M546.2 201.1h0M600.7 177.9h0M413.2 180.4h0M407.2 177.0h0M553.2 196.0h0M410.5 182.3h0M661.5 204.0h0M532.6 183.7h0M661.0 183.3h0M483.5 198.2h0M559.0 182.4h0M625.1 182.1h0M555.8 181.8h0M625.5 182.7h0M522.2 183.7h0M517.9 182.7h0M417.4 176.3h0M495.5 193.8h0M643.6 185.1h0M609.9 188.5h0M590.8 167.3h0M492.6 191.3h0M516.0 183.4h0M513.9 169.2h0M504.0 200.6h0M542.3 198.4h0M485.1 189.9h0M541.2 192.8h0M477.7 201.2h0M495.0 199.1h0M555.8 192.5h0M642.1 175.6h0M625.7 167.2h0M522.3 170.3h0M658.9 193.3h0M479.8 177.9h0M483.1 199.7h0M622.3 175.0h0M656.6 188.3h0M612.8 184.2h0M589.3 179.3h0M630.5 187.1h0M504.6 189.5h0M644.0 184.3h0M611.3 185.0h0M671.7 210.2h0M550.3 194.5h0M600.5 178.6h0M457.2 191.7h0M607.3 176.7h0M456.7 190.2h0M547.5 213.7h0M652.8 196.1h0M653.2 187.5h0M470.9 188.0h0M500.3 208.4h0M632.0 188.1h0M644.5 186.2h0M595.5 186.9h0M547.7 177.4h0M437.6 181.0h0M669.1 194.8h0M514.7 175.4h0M460.3 194.6h0M631.9 177.3h0M408.8 179.4h0M411.4 183.1h0M585.7 171.8h0M404.1 173.3h0M472.4 201.7h0M455.3 191.5h0M581.4 181.3h0M484.8 191.6h0M512.6 180.1h0M577.0 173.7h0M587.3 173.8h0M625.1 183.8h0M472.5 200.6h0M412.5 185.3h0M466.9 198.6h0M619.1 178.7h0M456.3 191.8h0M516.8 188.0h0M597.9 181.8h0M587.8 171.9h0M517.0 184.9h0M551.5 198.9h0M404.1 172.3h0M671.4 208.9h0M668.5 209.2h0M547.4 178.2h0M655.6 194.2h0M596.6 183.5h0M495.7 200.2h0M507.9 188.2h0M657.3 202.1h0M441.8 192.5h0M496.1 177.1h0M640.5 184.3h0M485.8 199.0h0M583.3 178.1h0M550.5 195.7h0M545.8 174.2h0M584.0 175.3h0M625.8 184.2h0M633.1 181.5h0M455.2 186.5h0M597.1 186.8h0M614.8 173.4h0M456.8 193.7h0M606.1 176.0h0M629.4 177.5h0M662.8 202.3h0M624.5 188.4h0M426.8 174.9h0M462.4 199.3h0M496.7 201.8h0M578.7 177.3h0M515.4 180.5h0M451.1 166.1h0M455.4 187.0h0M452.0 199.5h0M608.9 181.3h0M430.1 176.2h0M672.0 211.5h0M666.7 186.0h0M471.6 199.3h0M488.2 201.4h0M427.3 176.8h0M669.9 197.8h0M484.0 196.8h0M614.1 193.0h0M628.0 179.9h0M518.0 189.0h0M644.2 180.8h0M604.3 180.4h0M559.0 188.8h0M606.5 182.1h0M575.1 178.7h0M405.6 173.7h0M510.3 193.6h0M647.8 191.9h0M663.8 205.7h0M648.1 192.8h0M513.5 179.8h0M459.8 198.8h0M656.2 188.3h0M486.2 191.1h0M515.2 181.3h0M412.8 188.3h0M413.8 183.7h0M442.9 195.9h0M492.8 196.6h0M646.2 192.6h0M643.5 179.6h0M508.7 188.1h0M634.1 187.5h0M574.6 166.2h0M617.8 177.9h0M668.5 184.6h0M627.2 163.5h0M468.3 198.6h0M671.1 207.5h0M649.3 197.1h0M585.7 171.6h0M537.6 187.8h0M549.1 214.2h0M459.3 190.6h0M413.1 179.9h0M618.8 182.2h0M457.5 187.0h0M657.8 196.6h0M658.5 197.1h0M557.2 190.3h0M636.7 187.5h0M419.6 179.0h0M496.4 189.9h0M622.9 159.4h0M515.8 177.6h0M451.0 184.8h0M672.6 212.3h0M479.0 176.0h0M577.8 172.3h0M643.3 177.1h0M478.1 198.2h0M634.5 187.4h0M407.8 174.9h0M507.4 186.4h0M661.4 205.2h0M490.7 188.0h0M644.1 179.7h0M629.6 182.7h0M596.2 180.4h0M578.8 175.9h0M455.1 186.5h0M628.4 180.8h0M503.5 179.7h0M538.3 187.1h0M498.8 197.6h0M476.6 195.8h0M416.8 195.4h0M430.2 171.6h0M633.2 175.7h0M500.2 208.7h0M551.1 184.8h0M599.7 173.5h0M475.1 201.0h0M554.5 191.0h0M657.1 195.4h0M550.6 183.6h0M601.5 183.0h0M576.4 169.9h0M514.9 181.7h0M407.4 169.9h0M491.7 194.7h0M633.0 173.5h0M621.9 157.4h0M543.5 204.2h0M522.6 169.3h0M576.8 170.3h0M504.4 203.7h0M515.0 179.2h0M458.7 190.3h0M668.6 208.3h0M471.3 189.0h0M659.9 196.5h0M669.5 201.6h0M499.2 204.7h0M465.4 196.7h0M538.8 182.1h0M608.3 182.7h0M495.4 193.1h0M538.6 174.1h0M638.2 182.1h0M544.4 193.7h0M402.2 170.8h0M672.1 209.4h0M468.5 196.0h0M638.0 166.3h0M632.9 180.8h0M611.8 188.8h0M624.6 186.3h0M621.0 185.6h0M495.5 175.7h0M475.3 191.6h0M612.5 187.0h0M659.2 193.3h0M628.7 175.6h0M614.0 192.6h0M475.5 191.4h0M610.7 177.5h0M643.2 177.6h0M473.7 203.4h0M628.9 177.6h0M566.1 155.7h0M659.1 194.9h0M496.8 194.1h0M408.7 200.4h0M543.9 191.6h0M583.8 166.7h0M548.8 193.7h0M668.4 191.1h0M437.3 179.8h0M466.6 195.9h0M576.7 173.6h0M410.5 181.3h0M594.3 178.1h0M519.0 186.9h0M519.5 188.7h0M612.6 191.6h0M407.0 171.4h0M558.8 193.6h0M517.6 186.1h0M558.8 194.0h0M643.2 177.7h0M519.9 180.6h0M466.0 194.3h0M513.9 173.1h0M479.7 190.3h0M632.5 176.1h0M514.4 166.4h0M554.4 187.4h0M577.0 161.5h0M458.4 196.1h0M417.7 176.7h0M530.2 197.7h0M662.7 191.5h0M523.1 185.0h0M478.0 203.4h0M523.3 183.3h0M430.1 172.1h0M609.6 183.4h0M641.4 174.4h0M495.9 187.7h0M590.0 171.1h0M436.6 176.4h0M411.8 186.8h0M560.6 191.7h0M495.0 171.9h0M616.2 175.7h0M670.3 204.4h0M523.7 170.2h0M517.7 186.9h0M516.0 183.9h0M475.2 206.6h0M552.9 201.6h0M540.1 190.9h0M642.5 187.3h0M544.6 198.5h0M538.7 178.7h0M478.7 203.2h0M459.8 198.0h0M626.3 165.3h0M487.5 200.3h0M524.8 190.2h0M608.2 175.9h0M641.1 183.0h0M443.1 198.6h0M608.4 179.9h0M475.5 209.3h0M530.6 193.9h0M416.5 175.1h0M542.7 188.4h0M510.5 195.0h0M667.2 188.8h0M605.9 176.9h0M641.1 184.0h0M643.4 189.1h0M652.8 196.0h0M572.9 174.6h0M504.8 175.2h0M476.3 196.5h0M590.4 182.4h0M661.9 189.0h0M601.2 178.0h0M515.0 183.3h0M550.0 194.9h0M494.0 193.9h0M567.3 156.7h0M549.1 191.9h0M580.4 177.1h0M653.6 199.4h0M552.2 189.2h0M498.9 200.0h0M663.6 205.6h0M596.4 179.6h0M643.3 181.1h0M527.1 199.7h0M610.8 182.0h0M515.7 186.8h0M644.7 187.2h0M406.3 185.1h0M613.0 189.0h0M513.5 177.9h0M648.5 194.6h0M474.2 204.7h0M640.1 170.0h0M555.6 179.5h0M525.3 191.8h0M659.8 199.8h0M514.7 174.5h0M476.3 208.3h0M484.2 193.8h0M585.2 167.7h0M569.0 171.5h0M573.2 178.4h0M649.9 182.7h0M514.3 177.3h0M597.2 190.7h0M415.9 170.6h0M584.9 167.3h0M591.9 172.0h0M517.6 176.4h0M615.9 183.4h0M504.9 174.1h0M613.3 167.1h0M507.3 186.3h0M661.8 206.4h0M482.9 199.0h0M495.9 201.3h0M632.5 177.3h0M600.0 175.2h0M518.2 182.6h0M642.5 178.1h0M467.0 195.2h0M491.9 188.8h0M466.2 193.9h0M628.9 183.6h0M651.1 195.0h0M480.3 179.5h0M472.1 201.4h0M548.2 179.5h0M641.5 185.1h0M641.1 180.7h0M658.1 193.4h0M644.2 177.3h0M487.8 199.6h0M599.1 172.4h0M561.1 194.1h0M495.2 174.9h0M472.3 192.1h0M642.9 178.9h0M655.4 184.8h0M660.0 196.2h0M604.8 182.4h0M434.8 166.9h0M648.1 193.6h0M553.6 186.5h0M459.5 199.1h0M505.4 175.8h0M493.6 195.0h0M576.8 172.8h0M465.2 191.7h0M632.1 177.2h0M451.4 169.5h0M617.7 178.1h0M655.6 199.5h0M448.0 189.3h0M597.7 179.8h0M457.6 193.6h0M641.7 177.9h0M437.0 179.3h0M617.3 180.6h0M577.7 171.9h0M499.9 206.6h0M629.5 185.5h0M503.1 197.6h0M668.9 210.3h0M487.3 204.3h0M575.6 168.4h0M628.1 174.6h0M489.7 184.7h0M503.9 171.1h0M644.3 193.5h0M629.8 180.0h0M644.5 184.8h0M407.2 197.3h0M595.5 179.5h0M552.5 188.7h0M600.4 177.1h0M572.9 174.2h0M664.6 209.7h0M641.0 173.8h0M507.9 181.4h0M659.6 200.7h0M609.3 184.7h0M514.2 169.5h0M532.2 185.7h0M595.4 173.9h0M537.2 183.1h0M593.5 182.1h0M462.6 202.9h0M565.0 185.8h0M471.1 189.7h0" stroke="#e8944a" stroke-width="2.8" stroke-opacity="0.36"/>
<path d="M627.1 187.5h0M645.4 175.1h0M617.2 185.6h0M542.0 196.9h0M506.4 183.8h0M464.9 193.3h0M596.2 188.7h0M606.0 185.7h0M594.1 180.8h0M477.7 201.1h0M605.8 176.7h0M433.3 182.2h0M519.1 185.9h0M519.2 184.6h0M445.4 183.7h0M660.6 203.0h0M621.3 171.7h0M519.0 179.8h0M465.2 194.1h0M498.1 205.4h0M624.1 165.8h0M471.6 199.6h0M567.5 157.1h0M628.3 183.6h0M608.8 185.7h0M606.9 182.0h0M515.7 183.2h0M651.6 195.3h0M588.4 171.0h0M594.6 184.0h0M593.2 178.4h0M456.1 187.9h0M667.6 203.2h0M503.3 187.1h0M627.7 169.9h0M664.0 209.9h0M408.1 199.6h0M473.0 198.4h0M469.2 200.1h0M559.3 183.6h0M570.5 175.5h0M515.6 175.4h0M576.0 169.1h0M454.5 187.8h0M669.6 207.3h0M412.2 186.8h0M625.1 165.4h0M589.6 180.4h0M639.9 179.5h0M506.9 177.3h0M659.0 196.1h0M518.8 183.8h0M494.1 196.5h0M657.3 201.4h0M430.3 172.9h0M457.7 185.7h0M628.6 168.9h0M499.3 204.5h0M661.4 200.4h0M477.9 200.1h0M639.0 168.1h0M607.9 185.8h0M588.1 175.4h0M450.3 197.3h0M485.7 197.0h0M553.8 195.2h0M449.3 193.3h0M553.2 193.4h0M652.9 190.6h0M619.3 191.2h0M588.2 190.4h0M644.5 186.9h0M405.0 173.1h0M555.5 181.5h0M560.1 189.3h0M652.3 194.3h0M436.8 190.2h0M647.2 193.1h0M454.1 188.4h0M643.6 180.7h0M653.4 202.3h0M527.2 188.0h0M657.5 189.5h0M485.3 198.3h0M456.9 192.7h0M589.3 170.5h0M613.4 183.2h0M636.3 190.9h0M587.7 189.0h0M456.7 189.5h0M544.6 197.1h0M570.1 171.3h0M515.3 178.2h0M667.4 205.7h0M660.5 189.3h0M588.7 172.0h0M602.2 183.2h0M568.1 175.1h0M558.6 192.4h0M634.0 182.6h0M587.3 186.4h0M648.1 194.1h0M663.5 209.4h0M503.4 170.1h0M614.8 194.1h0M407.6 178.1h0M582.4 177.2h0M502.8 187.6h0M595.6 187.3h0M510.4 193.4h0M435.2 165.3h0M520.5 192.4h0M520.4 182.0h0M667.8 190.5h0M552.6 191.3h0M623.3 181.9h0M597.5 181.3h0M506.5 184.6h0M660.8 185.9h0M643.5 179.4h0M413.4 171.0h0M462.4 189.1h0M459.0 192.7h0M497.3 196.5h0M458.0 193.7h0M470.7 187.4h0M414.4 183.2h0M538.9 176.7h0M646.9 189.6h0M502.3 183.8h0M485.3 194.2h0M606.7 176.8h0M474.6 188.9h0M645.6 187.3h0M442.5 193.7h0M594.2 185.3h0M670.1 200.0h0M632.2 178.0h0M608.8 179.2h0M515.3 184.8h0M658.5 193.2h0M649.8 196.1h0M642.0 186.3h0M618.8 181.1h0M532.9 182.6h0M621.0 183.9h0M417.5 178.7h0M644.4 185.4h0M543.4 187.9h0M479.7 176.9h0M650.8 192.4h0M538.4 198.0h0M509.8 193.6h0M461.8 199.5h0M642.1 188.8h0M595.0 181.9h0M460.1 199.5h0M472.9 185.7h0M500.4 199.3h0M664.7 209.2h0M546.4 197.9h0M575.8 169.5h0M508.5 190.6h0M619.8 192.1h0M547.5 210.3h0M504.4 191.0h0M454.3 200.1h0M667.1 205.5h0M618.4 175.6h0M590.3 182.8h0M620.9 181.0h0M476.2 198.4h0M561.5 194.2h0M542.2 194.7h0M478.7 201.5h0M639.0 169.3h0M493.6 198.1h0M608.8 179.5h0M539.0 180.6h0M461.3 202.2h0M404.1 176.3h0M500.4 181.8h0M518.2 191.7h0M431.6 181.5h0M426.8 175.5h0M524.1 169.3h0M654.2 190.7h0M612.7 188.6h0M463.3 189.0h0M635.2 186.6h0M638.5 177.4h0M600.1 174.8h0M670.9 205.8h0M656.1 188.9h0M458.0 187.8h0M482.1 192.6h0M487.8 203.7h0M458.0 195.6h0M515.6 173.3h0M623.3 160.5h0M458.3 194.0h0M532.5 183.4h0M542.0 197.7h0M457.5 193.7h0M663.9 211.0h0M553.2 188.9h0M504.6 172.9h0M582.7 165.3h0M414.4 190.9h0M645.4 180.9h0M574.8 166.7h0M568.2 158.9h0M516.2 185.5h0M521.9 168.4h0M614.1 169.5h0M403.8 174.3h0M597.5 177.9h0M533.0 185.6h0M405.1 177.1h0M578.9 173.6h0M486.6 201.2h0M541.8 193.9h0M500.5 198.9h0M589.6 179.7h0M638.3 183.7h0M451.5 198.7h0M481.5 180.6h0M503.3 199.3h0M499.2 206.8h0M618.9 191.0h0M645.0 180.2h0M486.3 194.1h0M413.8 182.0h0M559.0 185.4h0M519.0 187.6h0M517.6 194.7h0M512.6 179.7h0M554.9 196.6h0M630.0 182.4h0M513.6 184.1h0M630.4 182.1h0M519.5 187.5h0M492.8 193.5h0M651.8 194.8h0M543.0 190.4h0M590.5 184.6h0M613.5 190.5h0M559.9 186.0h0M654.5 195.4h0M608.1 179.9h0M648.5 199.0h0M497.4 203.8h0M592.2 178.0h0M495.6 187.3h0M599.2 171.2h0M411.2 183.4h0M648.3 192.0h0M482.5 197.8h0M624.8 166.9h0M460.4 197.1h0M665.2 195.3h0M416.3 171.9h0M586.1 171.8h0M516.4 173.8h0M539.7 183.1h0M668.6 194.1h0M501.0 210.8h0M662.9 202.7h0M658.2 197.8h0M449.8 195.5h0M525.0 176.1h0M531.6 181.1h0M613.6 188.5h0M472.3 201.3h0M568.1 160.7h0M415.6 193.4h0M413.4 175.8h0M494.6 191.1h0M667.2 188.3h0M569.0 160.1h0M603.9 178.1h0M618.5 181.2h0M496.1 201.0h0M615.3 185.3h0M615.0 191.4h0M600.0 179.4h0M605.6 190.4h0M642.9 189.1h0M653.5 200.5h0M614.3 172.7h0M436.4 171.0h0M483.9 196.7h0M669.6 204.6h0M594.5 170.7h0M507.4 184.8h0M667.2 190.1h0M630.2 178.6h0M661.4 185.7h0M508.2 189.6h0M586.0 169.8h0M415.7 184.7h0M457.0 184.0h0M475.9 208.0h0M406.0 175.2h0M599.5 177.2h0M557.4 186.2h0M429.6 183.4h0M608.0 177.5h0M437.2 192.1h0M409.1 177.3h0M516.2 183.8h0M657.4 194.2h0M494.4 195.5h0M457.7 186.5h0M615.4 186.5h0M473.9 186.8h0M555.8 181.1h0M652.7 189.4h0M624.4 179.6h0M442.6 195.3h0M474.9 187.6h0M611.8 189.7h0M516.3 180.6h0M643.6 187.7h0M462.2 197.6h0M622.9 181.4h0M483.2 194.5h0M408.3 172.2h0M557.1 187.6h0M635.1 188.5h0M414.4 181.7h0M563.2 176.3h0M442.5 192.2h0M665.0 194.4h0M642.6 186.4h0M652.2 195.0h0M594.9 180.5h0M589.1 177.4h0M497.2 191.6h0M628.7 180.5h0M492.8 191.4h0M587.2 184.1h0M616.5 181.0h0M576.9 160.5h0M559.6 188.1h0M621.7 177.4h0M553.3 193.7h0M550.8 196.6h0M511.8 178.9h0M629.4 181.3h0M606.2 175.4h0M508.1 188.0h0M533.7 186.0h0M654.0 201.1h0M549.5 219.5h0M656.5 197.6h0M578.0 162.9h0M509.3 190.3h0M656.7 192.3h0M643.4 181.2h0M657.0 199.7h0M455.1 201.6h0M525.6 171.1h0M501.1 203.1h0M525.3 174.2h0M632.1 174.7h0M509.2 191.3h0M637.6 176.9h0M564.6 181.1h0M537.6 184.8h0M627.7 177.2h0M492.8 192.9h0M655.0 191.6h0M515.8 181.1h0M551.3 181.8h0M504.3 201.1h0M621.3 183.1h0M516.9 185.1h0M632.6 178.9h0M543.1 191.0h0M614.2 169.2h0M408.8 175.9h0M517.7 188.0h0M514.3 178.0h0M427.3 176.2h0M604.4 174.8h0M509.0 189.7h0M656.8 201.1h0M428.8 178.7h0M485.9 194.4h0M519.3 196.8h0M581.9 162.9h0M525.7 172.8h0M642.6 177.0h0M596.0 182.3h0M461.1 197.0h0M639.7 171.3h0M457.9 196.2h0M601.2 181.3h0M613.3 193.2h0M515.7 182.0h0M473.6 202.5h0M450.4 167.7h0M581.1 178.1h0M413.5 177.2h0M448.2 191.9h0M450.4 195.5h0M622.2 159.6h0M432.6 182.3h0M593.5 178.5h0M560.1 187.8h0M543.8 203.8h0M657.7 191.4h0M627.0 167.4h0M656.9 200.2h0M622.2 180.1h0M509.6 191.6h0M464.3 189.2h0M551.3 197.5h0M595.6 172.7h0M436.2 177.6h0M471.4 191.1h0M632.5 178.2h0M587.4 188.6h0M487.3 199.2h0M652.3 198.8h0M463.7 190.4h0M505.3 171.8h0M553.1 190.7h0M569.6 171.3h0M616.8 185.2h0M587.1 182.2h0M551.9 190.4h0M508.1 187.6h0M668.5 201.3h0M459.8 192.4h0M641.5 176.4h0M669.6 196.5h0M589.3 177.9h0M459.1 197.9h0M491.6 193.6h0M606.9 173.9h0M580.6 176.7h0M455.3 188.7h0M487.7 202.5h0M485.6 191.7h0M605.5 180.8h0M470.3 203.1h0M417.5 175.5h0M517.2 182.3h0M409.0 180.2h0M468.3 195.5h0M495.7 201.9h0M610.2 174.0h0M619.7 176.3h0M539.6 184.2h0M410.2 182.7h0M410.4 182.1h0M634.0 184.2h0M518.0 184.7h0M602.8 185.3h0M651.6 197.0h0M651.5 189.5h0M538.1 189.4h0M651.2 192.7h0M667.6 199.6h0M483.1 197.8h0M426.5 190.5h0M659.8 202.4h0M623.5 177.0h0M514.7 172.0h0M595.0 169.7h0M671.7 206.9h0M504.8 181.5h0M656.3 197.1h0M620.0 180.1h0M576.8 160.6h0M509.0 189.6h0M623.2 187.0h0M491.8 191.1h0M488.2 199.9h0M518.1 174.5h0M659.9 201.6h0M595.2 178.4h0M640.2 179.4h0M608.4 178.1h0M606.3 178.6h0M627.2 168.1h0M651.5 193.1h0M616.1 180.5h0M597.6 178.2h0M661.9 189.7h0M639.0 166.9h0M500.1 197.1h0M649.0 198.1h0M445.4 188.1h0M513.0 179.5h0M509.4 191.3h0M568.3 159.9h0M630.2 180.8h0M614.5 183.5h0M496.1 201.6h0M596.6 186.6h0M577.7 174.2h0M514.7 171.3h0M407.6 198.9h0M642.8 177.8h0M500.8 200.9h0M448.6 191.0h0M417.6 173.9h0M660.3 199.7h0M602.2 184.3h0M410.4 181.3h0M436.1 168.0h0M476.6 199.3h0M619.1 180.3h0M670.1 203.9h0M552.4 186.5h0M519.4 198.6h0M408.2 174.0h0M582.0 177.8h0M484.3 199.9h0M570.8 173.9h0" stroke="#e8944a" stroke-width="2.8" stroke-opacity="0.36"/>
<path d="M606.9 191.2h0M462.7 207.5h0M438.5 200.5h0M598.8 210.5h0M659.0 203.9h0M618.5 172.7h0M591.3 207.8h0M452.2 197.5h0M434.9 192.3h0M627.7 170.9h0M593.5 215.5h0M424.1 179.9h0M446.9 197.4h0M586.7 214.2h0M562.2 196.4h0M658.0 208.1h0M412.2 185.0h0M565.8 202.2h0M525.2 192.8h0M610.6 187.1h0M613.5 180.4h0M610.5 176.9h0M412.7 185.8h0M488.7 227.2h0M559.6 211.3h0M650.0 195.0h0M508.8 197.3h0M442.7 196.4h0M669.4 205.8h0M565.1 205.2h0M606.6 206.2h0M466.2 209.0h0M528.5 182.9h0M577.1 216.3h0M482.2 214.1h0M598.7 202.1h0M430.6 185.0h0M608.6 178.9h0M606.5 188.1h0M622.7 167.8h0M467.6 200.1h0M470.5 205.8h0M436.3 193.4h0M561.0 201.8h0M444.3 193.3h0M450.7 198.6h0M477.2 215.3h0M443.5 190.7h0M593.9 215.4h0M477.3 222.3h0M641.9 185.8h0M481.4 215.2h0M657.4 204.2h0M644.7 197.1h0M666.2 211.9h0M407.4 184.3h0M595.6 209.1h0M471.3 218.0h0M625.3 184.8h0M432.5 185.8h0M659.6 196.4h0M542.3 189.1h0M650.5 198.5h0M421.4 184.4h0M597.4 206.9h0M595.6 206.3h0M628.2 198.7h0M600.7 193.5h0M409.9 177.7h0M445.7 199.9h0M572.1 217.6h0M578.7 224.4h0M660.6 190.8h0M487.4 209.7h0M556.1 203.4h0M420.7 185.7h0M597.8 185.5h0M567.4 212.7h0M482.1 224.2h0M655.0 202.2h0M536.7 192.3h0M406.7 181.3h0M486.8 207.1h0M522.7 183.1h0M577.1 215.6h0M589.1 206.2h0M410.1 180.4h0M473.3 214.1h0M476.1 212.1h0M436.2 193.5h0M638.7 183.7h0M590.5 209.5h0M522.8 195.5h0M658.5 196.7h0M601.4 207.5h0M476.1 222.7h0M420.8 188.4h0M549.9 187.2h0M474.0 214.9h0M575.3 206.4h0M640.8 185.6h0M463.2 210.1h0M525.1 192.5h0M653.7 196.5h0M497.2 208.7h0M486.2 223.0h0M462.2 207.5h0M577.8 222.9h0M663.9 200.1h0M628.3 181.0h0M558.7 198.9h0M626.7 183.9h0M597.3 193.9h0M427.3 190.4h0M522.7 187.4h0M664.7 208.2h0M461.9 198.2h0M460.4 216.3h0M618.0 171.0h0M563.4 196.9h0M601.8 193.6h0M596.9 203.4h0M473.9 213.9h0M659.6 206.9h0M487.5 229.2h0M595.8 204.6h0M526.5 198.4h0M658.0 201.9h0M493.5 220.5h0M650.8 197.4h0M424.4 185.7h0M476.0 216.6h0M463.8 209.5h0M572.5 224.0h0M651.5 198.0h0M654.2 198.7h0M454.8 206.3h0M671.3 208.0h0M435.3 197.2h0M497.0 224.9h0M420.2 174.5h0M429.2 190.8h0M608.3 182.6h0M652.6 190.8h0M474.3 213.9h0M434.5 194.6h0M631.2 181.9h0M493.2 217.7h0M443.0 197.3h0M419.0 194.0h0M500.6 209.3h0M493.5 216.9h0M650.5 200.6h0M539.6 182.9h0M438.2 201.5h0M596.2 199.4h0M448.4 203.9h0M673.0 204.8h0M648.4 198.6h0M578.6 221.7h0M591.9 212.1h0M514.0 188.9h0M425.0 182.5h0M621.1 181.4h0M422.6 190.3h0M561.4 195.2h0M619.9 175.9h0M433.3 182.6h0M410.0 184.4h0M502.1 223.3h0M562.9 201.4h0M467.8 197.0h0M597.1 196.6h0M656.3 202.4h0M667.1 199.2h0M449.8 208.8h0M623.9 181.4h0M410.5 190.1h0M598.5 196.2h0M658.0 209.3h0M640.0 186.0h0M410.8 187.4h0M411.6 185.7h0M663.7 203.0h0M527.5 179.5h0M419.9 194.5h0M468.5 204.4h0M618.3 180.4h0M598.5 216.1h0M430.2 187.2h0M445.3 188.7h0M475.3 216.8h0M652.9 196.1h0M649.2 196.0h0M447.5 200.4h0M561.5 194.9h0M497.5 207.4h0M446.6 198.4h0M444.7 193.6h0M472.4 210.1h0M612.6 181.2h0M665.3 213.0h0M447.2 201.0h0M596.1 197.0h0M417.7 187.4h0M614.2 171.3h0M617.7 176.2h0M426.3 185.7h0M613.0 171.2h0M576.4 214.8h0M646.9 185.8h0M673.0 208.1h0M564.0 202.3h0M659.0 195.5h0M438.2 188.3h0M443.7 192.9h0M422.7 173.2h0M475.7 218.7h0M557.8 199.7h0M487.8 225.1h0M611.3 171.2h0M463.4 210.3h0M534.6 184.2h0M556.8 191.3h0M567.0 208.0h0M459.0 199.4h0M652.4 203.9h0M591.8 214.6h0M496.8 225.6h0M647.1 191.9h0M467.0 207.7h0M587.0 214.5h0M643.0 188.3h0M423.3 173.3h0M426.2 191.6h0M406.2 181.6h0M567.1 204.8h0M510.3 203.6h0M585.3 214.9h0M587.5 217.5h0M501.0 213.4h0M525.4 192.6h0M437.2 198.4h0M642.3 184.2h0M448.5 195.8h0M438.3 190.3h0M570.8 212.3h0M523.0 185.5h0M590.1 205.5h0M578.1 221.7h0M426.4 186.9h0M495.1 210.0h0M567.8 212.6h0M616.9 168.7h0M522.2 182.5h0M446.3 198.2h0M656.3 195.3h0M652.4 193.5h0M588.3 203.5h0M407.7 182.4h0M647.0 189.8h0M507.8 187.1h0M519.3 184.8h0M488.3 224.2h0M523.0 184.5h0M558.6 190.0h0M651.4 190.4h0M591.5 208.5h0M653.7 191.7h0M562.3 199.8h0M568.7 214.8h0M477.0 215.0h0M517.5 198.7h0M625.2 173.8h0M589.6 206.9h0M568.9 212.3h0M540.9 189.4h0M619.7 177.0h0M475.7 214.5h0M626.9 184.9h0M597.0 212.8h0M496.7 222.6h0M426.5 186.9h0M663.2 199.8h0M410.4 182.9h0M421.0 191.4h0M457.1 201.8h0M640.4 182.5h0M641.5 184.8h0M465.8 211.9h0M476.9 221.1h0M642.8 184.2h0M596.3 187.8h0M562.7 198.9h0M424.9 180.8h0M451.9 196.4h0M618.6 170.3h0M662.4 205.9h0M425.8 192.2h0M640.9 183.4h0M672.1 208.1h0M587.8 220.5h0M573.2 209.0h0M673.0 208.3h0M466.4 206.3h0M586.6 218.8h0M565.3 208.9h0M628.1 192.2h0M419.4 186.3h0M563.3 200.9h0M566.2 208.3h0M656.5 196.6h0M524.9 193.8h0M452.7 204.7h0M411.3 187.3h0M432.3 184.2h0M457.4 204.1h0M418.7 185.1h0M663.0 206.0h0M597.3 192.4h0M653.8 192.0h0M433.7 187.2h0M483.3 221.0h0M617.9 179.2h0M659.2 207.8h0M430.3 193.3h0M600.0 204.8h0M636.3 189.6h0M472.4 211.5h0M415.0 183.4h0M498.5 209.6h0M599.1 204.4h0M517.2 188.6h0M498.2 228.0h0M482.6 218.5h0M645.2 199.7h0M576.2 223.4h0M429.2 182.6h0M425.8 185.2h0M639.8 181.0h0M426.5 189.8h0M673.0 202.9h0M448.4 203.4h0M657.1 207.4h0M499.5 205.3h0M581.5 216.1h0M596.0 213.6h0M448.2 203.7h0M597.3 213.0h0M490.2 230.6h0M480.6 219.3h0M530.2 193.8h0M466.9 195.1h0M445.3 201.3h0M565.8 206.7h0M665.8 211.7h0M418.4 194.3h0M414.0 192.5h0M602.2 196.9h0M484.9 219.0h0M643.9 190.7h0M435.8 196.7h0M428.3 186.1h0M452.0 199.4h0M600.7 199.6h0M434.2 189.9h0M436.2 194.6h0M663.4 200.1h0M588.9 204.8h0M447.5 195.7h0M671.3 208.4h0M474.9 210.1h0M445.9 197.3h0M554.9 198.0h0M661.4 197.4h0M470.6 216.6h0M523.2 195.6h0M666.6 209.1h0M627.5 186.1h0M654.4 204.6h0M539.0 199.5h0M506.3 203.3h0M575.8 217.0h0M622.5 169.7h0M425.8 184.4h0M481.2 220.3h0M656.0 204.7h0M498.3 208.8h0M555.9 201.5h0M640.7 180.5h0M436.7 196.5h0M480.8 217.8h0M596.0 220.9h0M590.7 207.4h0M663.3 207.9h0M609.8 175.1h0M591.5 211.6h0M483.3 222.9h0M673.0 199.2h0M618.3 182.4h0M423.6 188.4h0M410.1 184.1h0M598.3 208.5h0M517.3 192.7h0M438.0 202.2h0M475.1 215.2h0M430.8 194.8h0M648.1 201.6h0M424.6 182.9h0M606.5 196.0h0M598.0 193.9h0M509.4 201.4h0M476.9 218.2h0M600.2 215.9h0M664.0 208.4h0M605.6 202.7h0M663.5 203.6h0M485.6 221.2h0M510.8 203.9h0M488.7 224.0h0M473.3 213.5h0M613.8 192.8h0M485.9 218.2h0M619.3 194.0h0M422.6 191.7h0M600.9 205.9h0M608.2 193.2h0M525.3 193.3h0M410.6 187.3h0M607.3 176.0h0M428.1 189.2h0M482.5 216.0h0M435.0 190.4h0M483.5 231.3h0M654.4 197.5h0M502.8 216.5h0M620.3 178.9h0M421.4 188.3h0M651.2 192.1h0M665.1 206.8h0M591.5 210.3h0M648.8 192.0h0M667.9 213.0h0M655.4 194.8h0M648.7 189.1h0M602.8 217.2h0M463.4 206.5h0M471.3 210.6h0M448.4 206.5h0M452.2 210.1h0M618.5 181.0h0M656.9 205.8h0M433.7 188.0h0M641.8 187.3h0M413.9 189.3h0M437.3 200.5h0M644.2 196.7h0M657.1 197.4h0M547.4 195.7h0M461.4 200.5h0M593.1 217.1h0M417.5 191.1h0M518.2 190.9h0M507.4 193.7h0M462.2 207.1h0M459.2 196.8h0M640.7 183.0h0M420.2 196.5h0M599.9 186.3h0M562.5 199.8h0M451.5 207.7h0M637.9 193.4h0M412.9 184.1h0M612.4 172.2h0M470.2 209.3h0M600.3 191.7h0M404.7 193.0h0M451.6 203.1h0M566.4 211.4h0M438.7 181.6h0M523.8 185.8h0M466.0 206.1h0M609.0 183.0h0M670.4 204.0h0M596.4 210.1h0M585.5 215.7h0M445.9 196.0h0M640.1 184.4h0M486.0 218.9h0M436.8 196.5h0M636.4 177.4h0M442.2 195.0h0M575.8 209.7h0M650.6 190.7h0M596.1 210.7h0M444.4 182.9h0M617.5 191.4h0M660.9 209.3h0M597.2 213.6h0M621.5 186.3h0M609.9 183.1h0M429.5 191.3h0M478.7 212.8h0M618.7 172.5h0M441.7 195.4h0M640.8 185.0h0M446.1 189.5h0M476.8 222.6h0M604.0 199.2h0M589.6 225.9h0M482.9 228.7h0M640.6 186.4h0M624.5 168.3h0M601.2 210.0h0M628.8 195.8h0M646.8 192.8h0M516.1 184.2h0M596.9 212.9h0M460.4 201.7h0M636.0 187.5h0M628.5 173.4h0M661.7 194.6h0M447.5 194.4h0M628.7 194.8h0M546.2 194.8h0M546.3 190.4h0M487.6 206.6h0M486.7 206.1h0M503.1 225.0h0M479.9 219.7h0M547.5 193.0h0M671.0 205.8h0M487.8 224.2h0M657.9 201.3h0M523.3 184.0h0M518.3 194.7h0M450.4 208.2h0M440.6 189.7h0M427.3 184.5h0M598.3 215.3h0M419.5 183.5h0M666.7 215.2h0M467.0 210.6h0M639.1 196.6h0M595.0 198.8h0M580.2 227.5h0M509.2 199.5h0M498.4 200.4h0M666.2 202.4h0M664.5 210.8h0M634.7 182.6h0M447.1 202.2h0M508.4 194.9h0M454.8 198.6h0M659.8 196.7h0M466.7 211.5h0M512.8 193.4h0M647.6 196.9h0M578.0 224.1h0M524.2 191.9h0M424.4 192.4h0M566.8 210.3h0M461.9 206.6h0M658.7 193.7h0M524.0 190.2h0M423.6 179.9h0M654.0 188.2h0M558.5 202.6h0M668.4 204.4h0M618.9 182.6h0M452.8 212.0h0M670.2 210.6h0M469.3 214.8h0M568.6 210.1h0M462.5 207.2h0M458.0 201.5h0M624.3 184.8h0M637.5 179.1h0M627.6 191.2h0M592.0 212.8h0M410.0 182.4h0M481.8 225.5h0M647.9 188.4h0M464.4 211.0h0M659.9 191.5h0M638.7 185.5h0M475.7 221.2h0M626.4 179.0h0M663.1 205.0h0M563.8 201.7h0M523.5 189.2h0M437.2 186.1h0M477.7 214.3h0M425.0 191.2h0M672.6 200.0h0M567.1 210.5h0M464.1 206.4h0M437.5 198.8h0M625.1 173.1h0M639.1 185.9h0M652.1 187.0h0M510.0 194.8h0M410.2 185.9h0M420.9 186.9h0M460.7 197.0h0M451.2 195.5h0M673.0 216.0h0M499.8 203.0h0M596.3 199.7h0M658.2 194.1h0M643.3 193.5h0M469.2 208.3h0M508.6 191.6h0M595.4 212.2h0M576.7 218.4h0M468.3 207.0h0M452.2 204.7h0M600.6 194.4h0M461.9 206.6h0M411.9 189.2h0M445.0 197.4h0M618.5 179.6h0M445.4 191.3h0M583.6 205.5h0M558.2 196.8h0M501.3 221.4h0M443.2 197.3h0M500.7 207.4h0M444.8 190.0h0M412.6 191.2h0M462.0 204.1h0M591.6 202.1h0M520.6 187.5h0M640.3 184.6h0M597.5 191.1h0M420.5 186.2h0M527.0 178.9h0M486.9 222.1h0M451.1 206.8h0M673.0 204.8h0M500.4 205.2h0M625.7 189.1h0M552.0 185.8h0M419.9 183.5h0M561.4 194.3h0M500.6 208.9h0M456.6 199.5h0M450.8 199.7h0M486.8 227.5h0M508.3 189.6h0M653.3 195.2h0M460.4 197.8h0M594.7 195.6h0M516.7 189.3h0M604.3 187.8h0M449.0 198.1h0M668.6 201.2h0M665.0 208.1h0M606.4 183.0h0M422.5 170.2h0M509.0 189.1h0M528.4 182.1h0M420.8 190.1h0M629.6 186.2h0M652.3 191.3h0M541.3 185.8h0M668.0 205.3h0M451.2 201.2h0M460.7 203.8h0M630.4 189.1h0M653.5 193.8h0M554.6 194.7h0M437.5 197.2h0M578.3 225.0h0M525.0 189.8h0M598.8 199.8h0M668.9 214.3h0M666.4 214.1h0M463.7 208.5h0M673.0 208.7h0M629.1 179.3h0M629.9 179.7h0M559.6 204.8h0M547.1 193.6h0M663.7 207.8h0M559.2 201.3h0M627.0 172.4h0M458.0 208.0h0M421.1 189.3h0M639.8 179.3h0M462.3 205.5h0M473.1 213.7h0M492.4 218.5h0M555.6 190.1h0M605.5 192.7h0M468.7 205.3h0M540.6 184.6h0M612.4 190.2h0M577.5 219.4h0M556.5 194.8h0M640.3 200.2h0M484.8 217.8h0M451.6 209.5h0M500.1 218.7h0M501.6 198.6h0M578.1 225.0h0M642.8 198.9h0M602.4 193.9h0M655.1 201.1h0M524.6 188.1h0M556.7 207.1h0M411.0 185.9h0M646.4 187.4h0M563.3 201.0h0M419.2 187.4h0M431.6 197.9h0M616.5 173.3h0M465.7 213.7h0M653.9 197.4h0M566.7 202.3h0M671.8 194.4h0M410.3 184.6h0M641.8 190.0h0M654.5 203.0h0M615.8 186.7h0M566.4 205.8h0M666.1 202.9h0M625.4 184.0h0M438.8 191.1h0M555.1 194.0h0M645.1 200.7h0M496.8 207.5h0M483.2 229.2h0M613.2 192.6h0M652.3 189.7h0M558.2 206.5h0M445.2 199.4h0M614.3 195.8h0M461.8 204.5h0M408.0 180.7h0M596.3 223.3h0M580.6 212.5h0M577.4 220.1h0M414.3 189.8h0M470.7 202.3h0M534.5 186.6h0M576.2 214.7h0M571.7 219.9h0M584.7 213.8h0M425.2 194.2h0M568.2 206.6h0M545.6 187.7h0M509.5 192.4h0M509.5 193.4h0M564.1 203.9h0M625.0 173.0h0M595.0 208.5h0M473.4 223.7h0M500.2 207.0h0M518.8 195.1h0M563.2 202.7h0M627.8 182.9h0M664.2 205.4h0M660.3 201.9h0M436.0 191.9h0M497.9 210.7h0M663.7 202.4h0M626.8 190.9h0M436.1 196.7h0M601.7 193.7h0M463.5 209.0h0M429.0 181.0h0M410.8 188.4h0M668.2 203.6h0M600.2 206.2h0M608.6 179.2h0M462.7 206.1h0M476.5 218.9h0M560.9 196.2h0M592.0 211.0h0M663.7 204.1h0M472.8 210.1h0M484.2 231.3h0M664.3 210.0h0M417.0 187.6h0M604.7 185.6h0M558.0 196.8h0M594.3 206.1h0M576.7 221.8h0M433.0 184.9h0M639.9 184.4h0M638.8 183.7h0M509.6 199.5h0M611.0 184.4h0M478.1 204.5h0M621.2 185.1h0M664.6 212.2h0M470.9 218.3h0M595.3 193.6h0M487.3 226.2h0M488.9 233.8h0M435.7 196.7h0M574.5 225.6h0M527.0 194.8h0M558.4 200.0h0M595.9 194.8h0M470.7 208.2h0M467.2 204.2h0M600.9 209.0h0M628.4 185.1h0M574.9 210.0h0M437.9 199.3h0M461.4 202.7h0M471.2 220.0h0M655.2 204.4h0M622.2 187.8h0M564.3 211.3h0M598.4 194.4h0M474.0 214.8h0M446.1 191.8h0M406.5 179.9h0M535.6 190.4h0M643.0 190.3h0M523.5 187.4h0M653.0 187.8h0M565.6 207.6h0M475.3 215.9h0M485.4 217.3h0M660.9 193.6h0M666.3 214.0h0M432.5 185.1h0M645.7 198.1h0M462.1 209.2h0M448.8 198.1h0M581.0 213.7h0M443.4 192.6h0M415.7 186.4h0M596.7 197.0h0M611.6 169.3h0M557.0 206.3h0M619.4 195.8h0M522.6 183.2h0M440.3 190.7h0M564.8 210.0h0M668.5 204.9h0M654.7 196.4h0M497.4 206.8h0M468.2 203.3h0M599.4 200.6h0M470.5 216.5h0M662.8 206.8h0M642.1 185.9h0M598.0 193.1h0M518.4 196.6h0M571.6 214.9h0M515.5 199.4h0M471.5 219.4h0M671.8 210.7h0M649.2 191.7h0M441.2 191.7h0M467.1 210.3h0M434.0 189.4h0M600.7 191.2h0M671.9 196.3h0M517.0 187.0h0M488.8 226.5h0M476.1 215.7h0M639.8 181.8h0M503.4 219.5h0M461.8 203.4h0M560.0 214.9h0M618.0 192.1h0M470.8 205.9h0M613.8 194.9h0M632.7 185.6h0M546.6 190.9h0M486.7 222.0h0M414.3 193.2h0M662.7 196.8h0M536.0 189.7h0M436.9 196.7h0M590.8 210.8h0M515.0 197.3h0M537.5 195.7h0M671.7 210.0h0M592.9 218.8h0M628.1 192.8h0M460.5 198.0h0M546.6 192.9h0M627.8 182.9h0M455.0 207.8h0M507.8 187.9h0M625.6 174.7h0M465.0 217.2h0M614.8 183.2h0M671.9 207.3h0M427.4 195.2h0M546.8 194.0h0M467.8 210.2h0M651.2 188.3h0M577.1 224.4h0M599.1 194.8h0M642.0 190.1h0M524.7 188.7h0M489.1 228.8h0M615.2 172.3h0M465.5 203.8h0M421.2 189.0h0M572.6 219.9h0M656.1 205.6h0M502.3 215.5h0M456.7 200.1h0M554.3 195.8h0M668.8 206.6h0M458.1 205.8h0M602.2 195.5h0M488.6 231.4h0M570.8 215.7h0M647.9 198.2h0M618.2 178.1h0M589.0 220.4h0M549.2 199.4h0M628.3 194.6h0M636.4 188.5h0M565.0 204.3h0M563.4 203.4h0M578.3 217.3h0M511.4 202.3h0M468.9 214.1h0M637.4 179.7h0" stroke="#dc2438" stroke-width="3.0" stroke-opacity="0.46"/>
<path d="M440.4 202.5h0M575.5 206.3h0M561.8 207.5h0M474.8 219.7h0M649.6 198.1h0M436.8 197.8h0M421.1 184.7h0M431.8 186.3h0M657.8 203.2h0M557.4 204.1h0M469.7 216.6h0M558.6 206.7h0M670.6 205.9h0M653.2 196.9h0M629.2 182.8h0M628.8 200.8h0M487.4 209.3h0M554.2 196.9h0M447.8 201.6h0M592.0 209.6h0M439.6 188.4h0M467.7 205.9h0M595.7 208.6h0M615.3 185.7h0M487.2 224.5h0M638.4 184.6h0M434.4 193.5h0M500.5 205.0h0M465.6 214.9h0M673.0 201.6h0M592.8 201.1h0M441.5 194.1h0M415.3 184.1h0M436.0 190.9h0M641.6 192.7h0M608.9 188.8h0M660.9 190.6h0M609.7 186.6h0M662.3 196.8h0M464.6 211.9h0M574.9 226.7h0M468.2 209.6h0M592.4 212.8h0M602.0 210.7h0M464.4 212.1h0M673.0 200.4h0M649.3 202.4h0M591.8 213.9h0M588.4 223.1h0M654.9 201.0h0M516.2 184.8h0M467.5 201.3h0M657.5 197.7h0M643.9 196.4h0M577.2 224.8h0M542.2 182.0h0M589.7 225.4h0M655.2 189.7h0M477.9 222.2h0M463.0 206.5h0M435.6 192.6h0M475.2 217.6h0M463.2 205.9h0M435.5 192.2h0M621.8 182.3h0M629.3 176.8h0M435.6 197.8h0M474.7 215.6h0M547.4 196.5h0M612.9 177.8h0M559.1 186.4h0M584.3 211.3h0M497.7 209.4h0M559.1 201.2h0M496.6 205.4h0M607.8 186.0h0M666.8 206.8h0M480.2 221.6h0M556.0 197.0h0M628.7 180.0h0M509.7 202.1h0M651.1 198.9h0M566.0 208.1h0M627.6 175.1h0M640.9 186.4h0M474.5 215.2h0M597.3 191.5h0M654.9 197.1h0M438.6 190.0h0M628.3 190.3h0M610.6 185.7h0M467.3 207.6h0M620.9 182.0h0M598.7 210.7h0M671.5 203.8h0M558.8 208.3h0M583.1 203.0h0M461.0 200.9h0M447.4 202.4h0M639.9 197.6h0M565.9 206.0h0M449.2 194.5h0M606.4 190.8h0M437.4 195.7h0M559.8 193.4h0M655.7 194.0h0M651.5 187.0h0M563.0 200.8h0M488.8 210.8h0M660.7 199.6h0M600.1 216.7h0M537.6 196.9h0M578.0 221.0h0M617.7 168.7h0M448.2 201.9h0M569.4 214.0h0M426.6 186.3h0M520.4 188.3h0M594.0 203.4h0M649.9 194.3h0M461.0 201.6h0M588.8 204.1h0M451.9 207.9h0M526.8 193.8h0M415.7 187.0h0M626.8 175.5h0M615.9 172.8h0M657.0 199.7h0M440.8 204.1h0M471.6 208.4h0M591.0 210.7h0M623.0 171.0h0M670.4 209.0h0M511.0 205.1h0M514.8 191.0h0M547.0 190.9h0M658.9 210.5h0M643.8 192.3h0M469.3 206.8h0M413.7 187.3h0M469.0 214.0h0M464.0 201.2h0M508.5 197.1h0M416.7 187.1h0M655.0 202.7h0M501.4 200.0h0M618.0 169.8h0M450.3 198.0h0M412.3 188.0h0M598.9 210.9h0M412.3 186.2h0M407.5 183.1h0M597.7 181.9h0M418.4 188.0h0M480.7 222.3h0M670.7 217.4h0M626.1 175.4h0M646.3 199.7h0M597.8 207.4h0M647.2 194.4h0M652.7 190.1h0M485.6 221.2h0M431.1 180.6h0M669.0 200.3h0M594.3 198.6h0M593.6 219.7h0M594.4 201.4h0M464.7 203.6h0M440.1 190.2h0M460.5 201.1h0M596.2 205.7h0M663.3 216.6h0M508.2 199.8h0M666.9 204.3h0M550.5 184.9h0M652.9 195.3h0M570.9 217.0h0M612.5 191.9h0M659.3 205.3h0M630.3 195.1h0M519.2 196.6h0M551.4 188.0h0M653.3 197.8h0M565.3 203.9h0M470.5 209.5h0M436.2 197.5h0M630.6 190.2h0M658.0 208.6h0M454.2 208.1h0M594.0 215.5h0M474.0 215.5h0M433.1 186.1h0M615.6 186.5h0M592.7 214.3h0M436.8 196.8h0M660.6 195.0h0M452.2 198.5h0M653.0 195.3h0M436.0 194.6h0M476.5 223.0h0M528.2 198.7h0M451.7 212.4h0M626.2 171.2h0M448.0 192.4h0M631.0 194.9h0M452.0 207.0h0M656.1 203.9h0M603.1 196.2h0M591.1 212.1h0M646.5 196.1h0M450.5 208.8h0M608.0 192.4h0M610.4 184.7h0M440.7 190.3h0M522.5 191.5h0M403.5 194.0h0M639.4 179.2h0M563.3 204.2h0M566.0 206.2h0M590.4 206.0h0M642.9 187.4h0M515.0 192.8h0M452.1 199.6h0M414.4 191.2h0M654.4 197.3h0M473.7 208.6h0M613.1 191.6h0M415.5 194.5h0M594.3 206.5h0M467.5 210.2h0M608.3 181.7h0M437.1 185.0h0M408.0 183.6h0M607.7 177.4h0M467.8 205.0h0M576.3 220.9h0M423.5 186.3h0M628.8 194.9h0M524.1 189.0h0M662.0 196.2h0M450.8 200.7h0M458.8 195.4h0M627.5 178.2h0M598.2 213.6h0M433.0 190.4h0M492.0 216.9h0M669.6 206.8h0M638.2 193.2h0M425.4 191.0h0M511.5 202.8h0M473.8 214.4h0M443.3 196.6h0M445.4 194.9h0M565.9 214.0h0M672.4 196.1h0M562.2 195.9h0M486.5 223.9h0M509.9 194.5h0M487.4 207.7h0M522.8 185.2h0M597.2 198.6h0M669.4 204.3h0M545.2 186.5h0M652.3 189.7h0M556.0 199.0h0M640.0 188.2h0M411.3 189.5h0M557.2 195.6h0M594.0 205.2h0M616.0 172.5h0M569.5 211.7h0M597.4 205.5h0M463.1 206.2h0M435.7 193.9h0M650.4 199.5h0M596.7 196.4h0M503.3 218.3h0M522.6 184.8h0M487.5 204.4h0M476.2 219.1h0M445.3 190.3h0M471.6 221.4h0M450.1 199.4h0M476.8 212.8h0M571.1 213.7h0M594.5 196.8h0M561.5 218.0h0M490.2 227.9h0M664.8 206.9h0M628.0 197.6h0M446.6 195.8h0M438.0 202.8h0M410.3 180.9h0M539.7 182.7h0M657.1 203.8h0M673.0 203.4h0M575.9 219.6h0M616.8 174.7h0M463.1 212.5h0M659.6 212.9h0M522.0 184.9h0M654.9 191.1h0M511.3 206.4h0M599.7 191.2h0M448.5 197.0h0M414.6 185.1h0M468.9 220.0h0M409.8 181.7h0M473.6 213.5h0M608.4 181.3h0M514.0 193.4h0M664.9 199.7h0M628.9 175.8h0M421.0 187.3h0M592.0 210.9h0M612.2 173.4h0M475.7 216.6h0M642.5 191.1h0M414.6 192.6h0M643.3 188.7h0M416.1 185.2h0M470.7 219.1h0M589.4 207.9h0M618.9 196.2h0M501.6 208.5h0M660.5 201.9h0M566.4 206.7h0M462.9 212.7h0M617.5 166.8h0M571.2 218.3h0M413.6 192.8h0M673.0 201.7h0M630.0 185.7h0M515.0 198.5h0M523.9 190.9h0M626.3 175.8h0M599.4 192.3h0M422.0 183.6h0M439.7 183.3h0M455.1 200.1h0M653.1 192.7h0M619.6 173.0h0M459.1 210.7h0M517.2 187.2h0M430.2 188.5h0M458.3 213.7h0M637.8 189.8h0M463.2 207.1h0M593.8 200.2h0M465.5 208.0h0M475.3 212.9h0M657.1 207.3h0M427.1 188.8h0M589.7 206.5h0M604.7 205.9h0M496.4 222.6h0M463.1 209.7h0M558.9 188.0h0M474.0 223.2h0M639.6 187.1h0M626.4 175.8h0M659.4 208.0h0M459.7 215.1h0M439.1 188.5h0M463.8 207.0h0M642.6 192.2h0M645.4 196.8h0M596.3 213.3h0M602.0 213.0h0M411.2 182.9h0M594.9 221.8h0M661.5 192.8h0M483.5 227.8h0M653.7 192.7h0M673.0 202.1h0M550.7 184.4h0M600.8 189.9h0M518.4 182.2h0M525.0 193.3h0M644.2 201.5h0M414.7 192.5h0M458.4 194.9h0M487.7 208.5h0M542.4 197.3h0M565.1 213.4h0M588.9 202.3h0M466.0 211.0h0M602.7 187.5h0M430.9 193.2h0M562.7 195.7h0M672.8 195.8h0M594.8 206.1h0M558.4 200.9h0M568.2 213.6h0M482.7 225.6h0M498.3 213.2h0M420.3 174.7h0M608.1 180.7h0M443.4 198.6h0M600.3 190.5h0M520.5 199.1h0M431.2 180.0h0M661.6 204.5h0M640.8 192.3h0M448.1 197.2h0M607.6 177.2h0M464.0 199.3h0M475.8 221.2h0M420.4 182.2h0M406.4 196.2h0M617.3 187.9h0M555.8 199.9h0M568.6 211.1h0M548.3 194.3h0M463.4 206.2h0M428.5 189.0h0M453.4 193.7h0M663.8 209.1h0M636.8 180.3h0M431.6 184.3h0M446.7 203.1h0M444.7 192.7h0M498.5 210.8h0M555.7 199.4h0M574.1 225.6h0M619.1 193.3h0M428.0 187.0h0M563.8 198.1h0M575.9 214.7h0M418.0 179.1h0M483.1 216.4h0M646.8 200.4h0M474.8 217.9h0M452.8 210.8h0M643.2 195.1h0M525.2 191.1h0M432.0 185.7h0M641.5 185.7h0M484.9 220.0h0M605.5 193.4h0M592.2 216.1h0M500.3 211.8h0M643.2 191.2h0M487.1 224.1h0M567.5 211.7h0M572.0 220.9h0M595.1 198.6h0M637.8 182.7h0M473.6 210.3h0M649.6 192.8h0M673.0 205.6h0M444.2 187.9h0M447.1 192.7h0M447.0 194.1h0M601.8 179.8h0M470.5 207.2h0M413.6 191.7h0M445.5 199.5h0M544.8 190.9h0M615.6 170.9h0M423.7 189.8h0M654.0 197.8h0M464.3 209.2h0M625.6 172.8h0M667.9 210.6h0M419.2 192.8h0M659.6 190.9h0M541.4 188.8h0M643.9 192.7h0M406.7 178.5h0M445.5 194.8h0M473.7 214.5h0M593.9 221.3h0M591.2 209.1h0M637.5 187.8h0M624.3 187.7h0M450.6 199.0h0M609.4 183.2h0M601.2 213.9h0M523.1 189.8h0M413.8 179.2h0M410.8 186.2h0M564.0 203.0h0M502.0 214.0h0M654.8 197.6h0M587.1 212.9h0M637.9 191.2h0M669.7 201.7h0M597.7 189.5h0M478.3 223.1h0M654.4 197.7h0M420.8 186.6h0M498.8 211.2h0M594.6 203.0h0M418.8 191.3h0M556.4 203.8h0M464.0 208.1h0M488.7 208.3h0M577.8 225.4h0M499.2 208.0h0M563.1 202.8h0M523.8 188.8h0M509.9 193.4h0M665.5 212.0h0M445.9 201.9h0M523.1 186.0h0M498.7 215.7h0M432.2 188.0h0M468.9 217.8h0M526.5 178.3h0M451.1 201.7h0M607.1 198.0h0M487.9 223.5h0M638.2 180.8h0M559.9 204.0h0M519.0 198.3h0M654.3 194.6h0M662.4 205.1h0M595.6 203.6h0M525.0 198.3h0M579.3 226.6h0M462.5 205.4h0M558.5 199.7h0M490.0 229.7h0M432.2 195.7h0M422.5 170.8h0M447.9 203.9h0M578.1 211.5h0M593.5 198.6h0M626.9 177.0h0M490.4 213.2h0M441.5 195.4h0M493.1 219.3h0M593.9 204.1h0M614.6 195.5h0M464.0 209.3h0M600.3 192.6h0M566.5 207.9h0M407.5 190.7h0M629.5 190.6h0M665.6 214.0h0M652.4 191.0h0M628.0 174.4h0M485.3 215.2h0M591.5 209.9h0M444.8 196.8h0M652.8 196.4h0M636.9 190.2h0M545.6 189.4h0M488.6 231.0h0M618.4 173.0h0M482.7 226.9h0M611.4 180.2h0M498.6 211.8h0M432.8 190.4h0M636.7 178.2h0M636.3 176.3h0M443.1 195.2h0M666.1 207.3h0M510.9 205.0h0M598.3 217.1h0M640.3 182.8h0M418.2 182.8h0M628.7 193.7h0M589.9 211.3h0M611.1 177.2h0M473.9 211.4h0M421.9 182.2h0M464.9 211.7h0M425.8 185.2h0M663.3 198.9h0M663.5 205.2h0M566.6 203.4h0M645.0 183.0h0M641.8 186.0h0M619.3 173.4h0M589.8 227.5h0M420.2 174.9h0M525.5 190.4h0M421.8 188.3h0M609.6 182.9h0M549.0 197.5h0M474.1 216.2h0M593.9 216.6h0M444.0 189.8h0M579.5 210.0h0M523.3 188.4h0M601.6 211.6h0M668.8 211.8h0M604.2 200.5h0M525.1 190.5h0M522.0 184.0h0M489.2 227.9h0M593.9 193.2h0M460.7 204.5h0M560.5 213.4h0M483.0 227.3h0M541.3 190.6h0M617.5 180.1h0M617.6 167.7h0M673.0 212.7h0M487.3 221.1h0M434.7 187.8h0M468.7 202.5h0M468.5 200.3h0M488.7 225.3h0M528.3 196.6h0M638.5 195.3h0M562.7 197.1h0M517.9 195.6h0M418.6 190.9h0M673.0 197.8h0M642.1 192.3h0M600.9 178.7h0M472.7 210.1h0M639.7 183.3h0M612.9 178.0h0M474.6 212.6h0M534.5 186.9h0M440.9 192.1h0M606.2 196.1h0M663.2 201.4h0M657.7 193.1h0M482.2 225.3h0M609.7 183.8h0M466.3 205.2h0M412.9 185.5h0M446.5 195.9h0M468.1 211.4h0M673.0 198.2h0M410.9 194.5h0M468.3 213.0h0M469.9 217.7h0M590.4 208.6h0M511.4 206.6h0M440.6 192.9h0M626.9 185.1h0M574.5 209.0h0M482.6 226.5h0M642.3 190.2h0M466.9 214.1h0M562.0 213.9h0M424.3 187.8h0M481.2 221.8h0M642.5 186.2h0M510.1 203.4h0M619.9 198.0h0M600.7 191.8h0M572.4 224.2h0M561.7 198.2h0M552.4 188.3h0M426.0 187.6h0M466.3 207.7h0M415.6 184.8h0M594.1 204.5h0M475.0 216.1h0M413.6 189.0h0M461.1 206.4h0M596.9 200.4h0M639.6 182.0h0M560.0 203.2h0M451.4 211.2h0M547.1 194.5h0M501.3 211.0h0M519.0 184.8h0M630.1 188.3h0M435.5 194.5h0M577.0 218.0h0M451.5 194.3h0M489.0 229.9h0M571.3 214.8h0M499.4 201.2h0M660.9 202.0h0M662.2 193.5h0M657.9 191.1h0M612.0 189.1h0M441.1 192.0h0M490.8 220.9h0M571.8 214.2h0M607.4 200.4h0M407.5 185.0h0M623.0 189.3h0M478.7 219.3h0M436.2 195.1h0M473.8 220.5h0M570.6 217.8h0M632.1 183.9h0M670.5 205.9h0M673.0 206.8h0M653.1 198.7h0M595.0 202.3h0M467.0 201.4h0M534.9 189.3h0M664.3 211.8h0M653.5 197.7h0M447.1 189.4h0M662.5 196.3h0M620.3 182.3h0M460.7 201.7h0M644.1 198.9h0M461.2 201.1h0M474.0 210.9h0M609.7 173.4h0M468.9 213.2h0M525.0 192.4h0M612.1 190.2h0M666.7 204.4h0M565.3 199.8h0M557.8 197.3h0M652.2 194.6h0M524.2 189.6h0M570.2 213.4h0M449.7 205.8h0M656.5 199.6h0M467.5 211.4h0M636.4 185.1h0M566.0 209.4h0M482.3 230.0h0M606.5 194.2h0M450.9 197.3h0M556.9 202.8h0M413.4 177.7h0M607.5 179.2h0M491.8 215.8h0M626.7 189.7h0M626.8 190.7h0M419.5 182.6h0M645.9 195.6h0M449.8 195.4h0M619.9 180.3h0M464.0 204.0h0M590.0 223.7h0M559.7 205.1h0M469.3 207.2h0M574.2 224.0h0M587.5 215.5h0M598.1 207.6h0M598.3 189.2h0M497.3 217.4h0M566.3 210.7h0M463.3 203.6h0M653.2 200.7h0M619.0 172.9h0M449.1 206.9h0M610.3 175.5h0M439.0 182.1h0M442.4 194.9h0M440.7 187.7h0M608.1 177.3h0M569.1 216.3h0M658.0 200.1h0M405.8 177.5h0M427.1 192.8h0M621.3 181.0h0M566.0 204.6h0M669.0 207.0h0M460.9 207.0h0M570.3 220.1h0M434.5 195.1h0M415.1 186.7h0M433.2 189.1h0M449.3 200.1h0M586.5 216.4h0M410.1 184.1h0M540.6 187.9h0M501.4 210.1h0M668.1 201.3h0M425.4 181.2h0M632.4 185.5h0M628.8 177.4h0M660.4 193.5h0M594.4 218.6h0M513.8 195.4h0M641.6 188.1h0M495.6 221.7h0M567.5 213.4h0M557.7 203.7h0M516.8 194.5h0M413.7 187.7h0M523.8 186.7h0M447.7 198.1h0M570.5 212.1h0M411.4 186.2h0M460.3 203.3h0M445.9 193.1h0M598.6 191.6h0M668.9 215.5h0M429.0 183.4h0M662.8 206.1h0M473.3 211.9h0M448.5 194.4h0M664.8 205.4h0M562.9 198.4h0M469.0 209.3h0M607.3 184.4h0M451.5 209.7h0M610.5 169.5h0M664.4 210.3h0M577.0 213.0h0M470.4 207.1h0M644.9 191.9h0M647.7 196.7h0M477.5 223.7h0M622.7 184.9h0M454.7 208.6h0M437.6 188.6h0M619.8 176.9h0M405.2 191.9h0M541.3 187.2h0M435.0 193.7h0M454.7 204.2h0M470.9 213.8h0M469.9 199.5h0M520.3 186.5h0M555.7 200.6h0M566.6 206.8h0M411.2 188.6h0M590.8 214.6h0M473.4 214.2h0M458.6 214.2h0M588.8 223.6h0M473.0 213.0h0M466.4 201.4h0M462.6 209.8h0M526.2 193.6h0M545.5 192.1h0M611.8 188.5h0M452.9 198.0h0M630.1 180.4h0M451.1 200.8h0M608.6 188.2h0M437.5 197.6h0M435.0 189.1h0M452.2 198.4h0M656.1 204.1h0M475.9 216.9h0M454.0 197.6h0M554.5 198.7h0M498.0 209.7h0M435.7 193.3h0M451.1 191.9h0M426.4 183.7h0M458.8 211.8h0M481.1 222.2h0M606.8 184.3h0M658.4 193.0h0M474.2 212.0h0M643.4 196.4h0M577.7 211.9h0M603.8 217.0h0M417.6 183.2h0M563.2 200.6h0M452.8 203.5h0M583.5 203.7h0M416.5 188.6h0M636.0 184.4h0M433.9 187.8h0M522.2 187.6h0M470.7 219.6h0M497.6 207.4h0M406.3 194.7h0M500.1 203.8h0M413.1 186.9h0M594.7 219.9h0M557.0 202.2h0M595.7 200.8h0M642.3 186.5h0M448.8 205.1h0M433.2 189.5h0M556.6 195.3h0M500.7 211.6h0M559.9 202.2h0M638.8 196.1h0M672.6 197.2h0M669.3 203.2h0M645.1 196.3h0M471.6 208.7h0M468.6 210.0h0M598.7 206.0h0M651.3 203.9h0M575.4 212.1h0M410.8 186.0h0M412.7 190.6h0M459.7 196.3h0M617.1 186.3h0M623.1 171.2h0M560.6 215.2h0M448.8 205.9h0M448.5 201.5h0M517.9 190.6h0M632.5 182.7h0M475.2 216.4h0M421.7 190.8h0M451.6 205.9h0M460.0 215.8h0M475.5 210.9h0M476.0 221.0h0M599.0 202.1h0M605.1 201.3h0M448.3 206.7h0M474.0 220.8h0M462.2 211.6h0M416.5 186.7h0M507.9 196.5h0M597.8 197.9h0M557.0 204.9h0M525.5 198.7h0M653.0 190.2h0M599.8 213.2h0M608.9 181.1h0M435.0 190.7h0M527.8 196.8h0M464.8 209.7h0M607.1 176.6h0M589.8 205.2h0M421.6 182.4h0M421.6 170.8h0M670.0 218.5h0M439.8 187.6h0M572.2 221.9h0M457.8 206.8h0M434.2 190.8h0M611.5 187.2h0M638.5 181.5h0M546.1 187.0h0M462.1 203.4h0M662.9 203.1h0M640.1 201.2h0M461.1 202.8h0" stroke="#dc2438" stroke-width="3.0" stroke-opacity="0.46"/>
<path d="M501.4 200.7h0M655.0 202.8h0M502.8 219.3h0M458.3 207.9h0M456.2 202.9h0M556.5 190.7h0M586.4 213.7h0M502.1 200.8h0M651.8 202.3h0M411.5 191.8h0M497.0 207.3h0M665.0 210.5h0M624.8 170.5h0M449.7 198.4h0M474.6 215.8h0M652.6 203.1h0M570.3 213.8h0M446.9 191.2h0M598.4 210.4h0M546.6 191.6h0M638.1 198.7h0M597.1 204.6h0M621.2 182.7h0M419.1 190.9h0M537.7 194.3h0M574.8 207.8h0M567.6 210.8h0M471.1 209.7h0M411.1 191.4h0M572.6 218.3h0M642.3 189.9h0M484.3 230.3h0M438.4 180.4h0M461.4 202.1h0M561.9 198.2h0M604.2 190.0h0M641.3 186.2h0M493.8 217.2h0M452.3 209.8h0M673.0 199.6h0M596.0 210.4h0M527.8 195.5h0M501.7 215.2h0M456.9 197.9h0M568.9 204.1h0M611.5 188.2h0M410.8 192.5h0M612.7 188.9h0M471.7 210.7h0M497.3 208.8h0M669.2 200.8h0M474.8 210.3h0M619.2 184.7h0M549.9 182.3h0M501.8 226.4h0M412.2 190.8h0M524.9 187.9h0M411.2 186.1h0M469.7 206.8h0M598.8 199.5h0M594.7 206.0h0M560.4 197.4h0M447.8 203.3h0M661.2 214.3h0M634.4 181.8h0M603.3 215.4h0M453.6 196.7h0M629.8 183.3h0M494.2 219.3h0M525.2 188.9h0M647.8 190.9h0M486.3 217.2h0M460.8 203.0h0M469.2 212.5h0M671.2 197.2h0M497.5 210.5h0M449.7 207.4h0M575.4 208.7h0M525.1 190.6h0M467.8 209.3h0M600.0 213.0h0M597.5 204.7h0M600.5 203.3h0M641.2 186.6h0M592.5 216.2h0M630.4 193.3h0M496.8 205.1h0M653.3 185.3h0M661.4 212.9h0M669.8 206.6h0M427.5 189.2h0M650.1 197.1h0M576.5 219.2h0M480.9 218.4h0M466.0 217.2h0M437.6 195.0h0M420.2 194.6h0M500.1 206.6h0M482.8 229.7h0M445.3 197.7h0M641.8 180.5h0M659.0 205.7h0M660.4 199.8h0M547.6 198.1h0M655.7 202.1h0M560.7 214.4h0M574.2 214.9h0M415.0 177.4h0M627.7 185.7h0M652.8 193.0h0M437.3 196.4h0M659.7 214.3h0M669.5 213.9h0M591.0 209.3h0M592.1 215.4h0M559.1 209.6h0M500.5 207.5h0M424.6 187.4h0M611.7 185.5h0M491.4 233.0h0M541.1 195.2h0M648.8 196.9h0M589.9 205.4h0M464.8 209.6h0M497.0 225.4h0M556.3 200.8h0M504.7 203.8h0M476.8 220.3h0M523.8 193.6h0M619.7 184.9h0M449.0 198.0h0M600.9 190.7h0M488.1 231.1h0M460.5 199.8h0M418.8 184.3h0M621.0 178.2h0M567.8 213.1h0M607.9 186.5h0M600.0 188.7h0M468.8 206.4h0M642.7 188.0h0M626.8 177.1h0M452.1 203.5h0M450.5 200.4h0M496.9 205.3h0M640.9 188.2h0M654.8 199.7h0M574.2 222.0h0M656.1 203.5h0M602.9 183.1h0M479.5 220.4h0M441.2 186.9h0M439.5 185.6h0M578.0 220.8h0M488.8 234.4h0M648.9 200.3h0M423.1 195.4h0M407.2 182.6h0M602.3 181.4h0M420.4 181.9h0M502.0 201.0h0M587.0 219.1h0M666.5 207.5h0M610.7 185.9h0M515.2 200.1h0M464.8 214.9h0M527.0 177.1h0M589.0 208.3h0M658.3 207.6h0M575.5 214.4h0M611.5 175.6h0M528.5 198.9h0M597.3 211.9h0M646.8 189.5h0M444.6 196.3h0M420.9 187.4h0M560.4 217.3h0M449.7 197.9h0M453.6 203.0h0M510.6 201.3h0M467.1 209.6h0M488.5 225.5h0M519.6 198.8h0M627.9 182.0h0M546.2 190.4h0M629.3 181.8h0M671.0 207.1h0M577.0 220.2h0M651.0 194.2h0M602.4 192.5h0M474.3 216.2h0M596.5 198.6h0M527.9 188.9h0M490.8 213.4h0M558.2 185.3h0M668.0 211.6h0M459.1 210.4h0M411.7 183.4h0M461.4 205.4h0M435.1 191.3h0M417.0 187.2h0M406.2 179.2h0M495.0 221.1h0M621.4 180.7h0M625.1 185.4h0M670.1 208.7h0M590.5 210.3h0M410.6 190.4h0M427.3 186.5h0M501.4 211.7h0M608.1 178.9h0M462.4 207.4h0M565.6 205.8h0M605.0 189.2h0M665.8 200.5h0M553.3 192.8h0M486.9 207.6h0M621.8 184.3h0M601.3 194.3h0M624.9 185.9h0M594.9 201.7h0M481.7 226.3h0M445.8 191.8h0M436.2 193.4h0M550.8 185.5h0M654.7 200.4h0M507.1 193.1h0M673.0 202.3h0M669.9 202.2h0M435.1 190.4h0M641.6 195.2h0M557.8 187.9h0M509.4 198.3h0M469.2 211.8h0M596.3 206.8h0M474.8 213.4h0M421.5 193.8h0M663.2 206.5h0M522.6 186.0h0M669.9 202.2h0M625.0 171.2h0M461.5 204.0h0M564.3 200.1h0M404.4 190.1h0M486.2 219.4h0M653.2 189.6h0M533.9 183.5h0M617.3 168.0h0M664.1 209.8h0M536.7 194.4h0M467.9 198.5h0M438.5 200.3h0M622.5 169.4h0M553.3 193.2h0M528.1 196.8h0M596.2 205.7h0M480.6 222.8h0M501.9 203.6h0M448.6 197.5h0M605.1 204.1h0M413.1 191.3h0M475.9 212.7h0M595.7 209.5h0M560.5 206.5h0M599.7 189.6h0M546.4 192.9h0M628.7 178.1h0M446.1 199.4h0M572.8 221.3h0M562.5 197.4h0M445.1 190.9h0M496.8 208.5h0M453.3 202.5h0M613.8 180.4h0M534.3 188.4h0M581.8 215.3h0M441.6 192.8h0M625.7 173.6h0M593.9 215.5h0M455.1 204.4h0M550.1 183.3h0M640.4 185.1h0M655.2 191.6h0M572.6 205.6h0M472.8 208.7h0M665.3 212.2h0M672.8 214.6h0M660.9 211.8h0M486.1 216.1h0M673.0 216.7h0M646.4 199.5h0M458.7 209.6h0M645.5 181.1h0M576.4 217.8h0M440.1 183.4h0M516.3 184.6h0M592.6 211.4h0M471.7 209.6h0M408.7 184.1h0M605.1 187.9h0M646.8 189.6h0M563.9 203.9h0M417.9 189.7h0M628.1 187.2h0M643.5 195.3h0M498.6 228.2h0M595.5 195.1h0M457.1 206.4h0M484.2 230.0h0M635.4 184.2h0M435.5 192.5h0M669.5 217.1h0M525.0 190.3h0M667.3 209.4h0M472.9 211.2h0M456.9 200.5h0M513.5 192.4h0M431.1 183.8h0M441.2 188.7h0M628.9 183.6h0M436.5 198.2h0M469.4 212.5h0M499.9 209.4h0M616.2 173.4h0M651.7 186.3h0M641.5 179.5h0M641.3 181.7h0M457.7 202.0h0M577.7 203.8h0M592.1 217.0h0M673.0 206.9h0M486.9 219.8h0M584.4 212.8h0M514.8 195.5h0M447.0 194.8h0M515.8 194.3h0M451.8 204.0h0M665.5 212.1h0M580.0 226.2h0M596.6 211.0h0M673.0 204.7h0M582.5 202.6h0M591.0 211.8h0M562.7 197.3h0M621.4 179.9h0M659.5 214.4h0M627.2 178.4h0M642.7 187.9h0M461.0 203.4h0M519.0 182.7h0M565.5 206.1h0M611.4 178.4h0M499.2 214.2h0M566.2 208.3h0M462.2 210.3h0M646.3 184.8h0M657.8 209.1h0M627.4 196.8h0M471.5 212.2h0M606.4 189.6h0M661.1 215.3h0M641.1 188.8h0M478.4 217.4h0M421.7 190.9h0M464.9 206.2h0M421.4 190.1h0M661.1 197.7h0M422.6 193.4h0M437.8 187.0h0M620.1 187.7h0M465.2 214.9h0M477.0 219.6h0M602.4 185.1h0M641.9 200.7h0M628.1 195.7h0M647.5 193.2h0M482.7 226.7h0M654.5 200.6h0M411.6 190.5h0M596.9 186.7h0M630.5 187.7h0M499.6 213.7h0M592.8 212.9h0M575.5 214.3h0M524.0 187.4h0M433.6 190.1h0M575.2 216.9h0M406.3 194.8h0M435.5 190.8h0M475.9 216.9h0M524.2 197.1h0M612.4 188.2h0M453.0 200.6h0M656.0 205.0h0M664.2 207.3h0M454.1 196.8h0M491.2 231.3h0M617.6 177.2h0M641.0 189.7h0M421.3 188.5h0M607.1 197.4h0M453.8 194.9h0M472.9 212.0h0M508.8 199.4h0M576.3 213.5h0M639.7 189.0h0M604.0 190.2h0M544.8 191.7h0M641.0 179.7h0M629.4 183.5h0M617.2 180.1h0M600.0 213.3h0M618.1 180.7h0M474.6 217.8h0M639.3 181.4h0M518.3 193.2h0M487.8 220.8h0M432.1 185.6h0M590.8 229.4h0M588.5 204.1h0M406.7 197.4h0M595.9 202.7h0M655.1 200.2h0M478.9 215.2h0M563.9 197.2h0M483.3 225.3h0M463.4 205.5h0M618.7 174.5h0M628.7 187.9h0M527.0 199.1h0M597.0 208.1h0M564.1 205.6h0M557.4 207.6h0M641.9 195.3h0M512.0 191.2h0M426.3 189.7h0M555.3 198.0h0M420.1 172.4h0M564.3 204.6h0M581.6 200.7h0M609.4 183.8h0M639.7 185.9h0M461.7 208.0h0M639.1 189.0h0M435.5 192.5h0M673.0 206.6h0M466.6 205.5h0M558.3 198.7h0M661.7 217.3h0M462.6 203.8h0M645.0 197.4h0M625.4 180.2h0M606.1 192.7h0M486.5 220.0h0M603.9 183.9h0M570.0 208.6h0M647.7 190.1h0M653.9 193.0h0M665.8 215.4h0M564.2 203.7h0M484.0 227.9h0M576.8 215.5h0M469.6 201.0h0M451.2 203.3h0M559.1 191.3h0M427.8 188.8h0M420.3 185.0h0M498.2 209.9h0M421.6 187.9h0M411.7 188.0h0M656.3 204.0h0M421.4 177.2h0M614.8 184.3h0M477.6 225.2h0M456.8 201.8h0M522.5 187.4h0M575.1 205.0h0M673.0 199.7h0M616.2 190.1h0M498.2 227.2h0M484.4 221.7h0M537.2 194.2h0M573.5 223.3h0M671.8 212.3h0M669.1 208.6h0M411.0 189.2h0M412.0 175.7h0M598.3 202.2h0M595.5 208.4h0M564.0 209.3h0M620.4 177.4h0M501.3 211.6h0M464.5 211.1h0M464.5 212.7h0M527.5 191.4h0M473.7 223.5h0M477.3 214.7h0M433.8 191.9h0M556.4 191.9h0M453.0 208.4h0M447.3 200.1h0M641.3 185.1h0M578.5 222.0h0M420.8 185.2h0M628.3 173.4h0M464.4 210.5h0M602.3 180.9h0M598.2 197.8h0M486.7 220.5h0M588.2 212.3h0M642.5 192.3h0M502.4 211.6h0M556.4 196.9h0M468.9 213.3h0M598.1 194.4h0M461.1 200.4h0M584.0 203.9h0M445.5 190.1h0M457.9 204.6h0M447.6 195.7h0M614.5 181.8h0M404.9 192.8h0M629.0 189.9h0M414.1 182.4h0M451.8 197.6h0M502.0 210.5h0M669.2 197.7h0M618.4 169.5h0M658.0 210.8h0M527.3 180.4h0M476.2 220.2h0M629.5 185.6h0M558.8 208.3h0M415.6 183.7h0M579.6 226.7h0M566.0 209.0h0M523.2 192.3h0M547.2 193.3h0M402.3 187.6h0M448.3 203.9h0M638.2 178.9h0M411.4 182.2h0M419.1 191.6h0M454.1 203.5h0M589.0 203.7h0M423.7 191.5h0M602.2 187.7h0M435.7 192.0h0M467.0 209.7h0M534.9 185.7h0M491.1 214.3h0M425.0 190.0h0M527.8 193.7h0M420.8 184.4h0M418.5 181.1h0M421.1 176.6h0M462.4 202.5h0M586.0 211.3h0M465.5 207.6h0M413.3 177.6h0M528.8 184.4h0M406.6 179.7h0M436.6 199.5h0M661.6 198.9h0M636.1 175.0h0M608.9 182.7h0M606.5 176.5h0M450.9 209.0h0M554.7 195.2h0M451.2 206.3h0M628.5 189.1h0M591.6 215.5h0M645.6 184.9h0M439.2 192.0h0M606.1 184.0h0M435.2 182.0h0M576.1 215.5h0M669.3 216.4h0M547.7 197.2h0M425.7 188.2h0M670.8 207.6h0M481.7 221.5h0M653.3 195.1h0M596.3 213.9h0M429.8 185.7h0M540.9 190.8h0M461.6 202.7h0M450.3 210.0h0M440.6 185.9h0M563.7 198.7h0M545.4 187.3h0M527.5 196.1h0M595.3 207.9h0M665.4 211.5h0M482.3 224.5h0M453.1 202.9h0M470.6 208.4h0M464.8 211.4h0M615.9 175.7h0M555.6 202.0h0M630.3 193.9h0M555.7 199.4h0M412.2 188.0h0M454.9 205.5h0M603.3 198.6h0M590.3 205.4h0M508.6 190.2h0M489.1 227.7h0M570.7 210.5h0M594.5 202.9h0M460.6 217.1h0M431.7 183.4h0M620.1 178.5h0M483.1 219.6h0M541.3 194.8h0M577.5 217.8h0M603.5 186.7h0M566.6 215.8h0M411.7 189.6h0M643.6 198.9h0M618.5 171.3h0M520.0 199.4h0M594.3 198.0h0M452.2 193.7h0M475.4 217.2h0M449.2 200.4h0M597.1 202.3h0M559.7 211.7h0M479.8 220.5h0M629.3 177.3h0M617.1 174.1h0M500.6 216.7h0M502.6 223.1h0M429.9 190.8h0M463.2 211.0h0M662.4 205.0h0M463.3 209.2h0M434.7 189.1h0M565.7 202.2h0M669.3 203.2h0M582.4 201.5h0M669.6 214.3h0M652.2 185.3h0M525.0 187.9h0M444.1 194.2h0M412.8 186.8h0M441.8 193.9h0M522.5 190.6h0M446.4 196.5h0M660.8 213.0h0M628.0 180.7h0M499.3 198.4h0M629.7 178.9h0M417.8 188.0h0M666.7 217.5h0M447.1 201.5h0M433.5 191.3h0M603.5 184.1h0M660.9 192.5h0M461.8 207.3h0M568.2 209.7h0M462.4 204.4h0M530.6 193.3h0M488.9 226.9h0M455.6 204.8h0M414.7 190.3h0M593.6 219.0h0M664.5 209.1h0M618.1 175.4h0M657.6 198.4h0M614.9 182.2h0M616.6 165.0h0M500.1 208.4h0M587.0 202.0h0M597.7 202.1h0M653.9 201.1h0M565.9 215.1h0M630.2 192.8h0M436.7 198.7h0M537.3 193.0h0M629.4 200.6h0M465.1 203.7h0M660.4 198.3h0M638.6 181.3h0M642.4 189.2h0M487.9 225.5h0M482.8 228.4h0M639.0 183.5h0M490.3 231.0h0M610.0 171.2h0M626.6 180.9h0M564.8 212.4h0M579.3 209.9h0M599.1 202.7h0M433.3 187.8h0M463.5 210.5h0M565.8 202.8h0M640.7 189.4h0M499.0 198.2h0M578.6 215.3h0M563.7 205.2h0M669.6 215.2h0M567.6 211.4h0M658.1 199.5h0M416.0 183.8h0M663.9 208.0h0M529.6 198.0h0M441.3 192.9h0M514.9 196.9h0M407.4 184.8h0M595.7 202.1h0M493.8 216.9h0M515.9 192.4h0M529.6 191.0h0M627.1 178.3h0M595.0 201.4h0M593.1 214.8h0M566.0 209.8h0M598.6 188.1h0M413.1 176.1h0M425.7 183.5h0M636.2 177.1h0M572.2 222.8h0M546.2 188.3h0M575.3 215.4h0M670.2 215.5h0M444.5 195.3h0M589.0 207.6h0M642.0 186.4h0M464.1 207.6h0M637.2 178.1h0M589.6 209.4h0M665.6 212.9h0M482.6 219.9h0M628.9 184.7h0M414.0 183.2h0M449.6 196.4h0M617.5 175.2h0M598.5 187.7h0M565.1 210.5h0M619.6 177.6h0M500.6 198.4h0M447.8 200.6h0M616.6 165.5h0M498.3 210.0h0M617.8 190.0h0M590.0 207.4h0M411.7 181.8h0M581.7 212.8h0M411.4 181.6h0M608.5 181.9h0M451.9 203.7h0M656.1 203.7h0M591.3 213.0h0M446.8 200.6h0M488.3 228.8h0M597.6 180.8h0M439.6 189.3h0M665.1 212.9h0M473.7 212.0h0M519.0 183.2h0M595.2 205.3h0M567.1 204.4h0M652.0 193.8h0M593.2 212.4h0M655.9 201.1h0M661.4 210.8h0M665.7 213.3h0M661.6 214.5h0M624.5 182.6h0M567.2 209.8h0M461.3 206.5h0M468.4 197.9h0M563.9 199.0h0M652.9 184.7h0M451.1 193.9h0M555.8 201.4h0M569.5 215.6h0M557.8 203.9h0M671.6 203.5h0M597.4 208.0h0M468.9 201.5h0M500.8 222.7h0M584.1 204.5h0M565.7 202.1h0M642.2 189.6h0M610.6 185.6h0M639.9 182.1h0M424.7 182.2h0M470.6 203.0h0M577.9 223.4h0M536.2 190.6h0M657.1 206.6h0M413.1 193.0h0M619.5 178.5h0M638.4 193.1h0M452.8 199.9h0M640.5 183.0h0M601.4 191.3h0M404.3 191.5h0M495.1 220.3h0M435.9 193.0h0M499.5 212.7h0M420.2 187.9h0M620.2 178.6h0M653.5 199.4h0M574.9 214.1h0M454.2 200.9h0M527.9 181.6h0M577.0 211.7h0M571.5 215.0h0M601.7 180.0h0M410.2 185.4h0M653.6 191.8h0M602.4 214.2h0M513.1 192.5h0M596.3 211.8h0M448.4 196.2h0M643.1 188.3h0M470.2 210.2h0M451.7 200.3h0M655.9 201.0h0M406.9 186.1h0M446.7 195.0h0M542.1 195.6h0M593.5 203.2h0M445.5 192.8h0M598.0 209.5h0M473.2 213.4h0M447.7 203.7h0M563.6 202.2h0M427.9 188.9h0M462.1 204.1h0M616.6 178.4h0M545.1 188.7h0M661.1 203.4h0M595.6 208.6h0M449.5 197.0h0M423.2 185.4h0M638.2 182.2h0M564.5 205.0h0M453.2 197.2h0M557.6 185.0h0M539.7 187.3h0M599.1 213.4h0M465.2 208.8h0M609.9 174.4h0M477.2 223.5h0M575.6 210.8h0M467.3 196.1h0M446.8 200.1h0M650.9 199.4h0M597.8 184.9h0M568.2 209.6h0M576.9 221.0h0M648.4 200.2h0M458.1 203.2h0M651.4 201.3h0M595.0 196.9h0M447.0 194.4h0M594.6 217.3h0M459.5 212.8h0M609.7 172.2h0M463.5 208.8h0M544.9 190.0h0M574.2 224.8h0M646.3 200.8h0M623.8 166.6h0M598.2 209.8h0M655.8 205.3h0M663.4 208.4h0M427.5 186.3h0M499.3 216.0h0M523.6 191.9h0M627.4 181.6h0M476.0 216.2h0M449.2 206.0h0M448.8 192.4h0M474.1 213.1h0M625.8 189.4h0M622.0 180.4h0M619.8 174.0h0M655.8 192.7h0M604.7 202.6h0M423.4 185.7h0M499.0 219.6h0M545.5 192.6h0M573.5 206.5h0M554.5 196.5h0M654.8 195.3h0M470.8 202.4h0M430.6 187.2h0M446.7 190.7h0M627.9 194.3h0M436.3 194.4h0M470.8 211.6h0M568.1 208.2h0M429.1 181.7h0M447.9 203.1h0M660.9 199.2h0M572.7 225.5h0M653.6 197.7h0M573.1 219.4h0M559.7 205.0h0M587.2 214.2h0M421.7 178.2h0M499.4 201.6h0M415.5 183.6h0M464.3 215.2h0M589.9 208.2h0M479.3 223.8h0M433.0 189.2h0M658.5 189.3h0M640.6 181.2h0M642.5 193.6h0M541.4 193.9h0M642.2 189.2h0M449.8 208.3h0M653.4 187.3h0M654.9 200.3h0M655.8 200.1h0M567.0 210.6h0M572.0 216.9h0M625.5 182.2h0M427.0 185.9h0M468.1 213.4h0M501.4 219.8h0M592.3 216.7h0M501.5 218.8h0" stroke="#dc2438" stroke-width="3.0" stroke-opacity="0.46"/>
</g>
<path d="M400.0 189.0C401.2 188.4 404.7 186.4 407.0 185.5C409.3 184.6 411.5 183.7 414.0 183.5C416.5 183.3 419.5 183.4 422.0 184.2C424.5 184.9 426.7 186.4 429.0 188.0C431.3 189.6 433.0 192.1 436.0 193.5C439.0 194.9 443.7 195.4 447.0 196.6C450.3 197.8 452.9 199.2 455.6 200.8C458.3 202.5 460.7 204.5 463.3 206.5C465.9 208.5 468.1 210.9 471.0 213.0C473.9 215.1 478.0 218.0 480.8 219.2C483.6 220.4 485.5 220.7 487.8 220.2C490.1 219.7 492.7 218.1 494.8 216.0C496.9 213.9 498.6 210.3 500.5 207.5C502.4 204.7 504.1 201.3 506.0 199.0C507.9 196.7 509.7 194.8 512.0 193.5C514.3 192.2 517.0 191.5 520.0 191.0C523.0 190.5 526.7 190.8 530.0 190.5C533.3 190.2 536.9 189.4 540.0 189.5C543.1 189.6 545.8 190.2 548.8 191.2C551.7 192.3 555.0 193.6 557.5 195.6C560.0 197.6 561.8 200.7 564.0 203.3C566.2 205.9 568.4 209.1 570.6 211.0C572.8 212.9 575.0 214.5 577.2 215.0C579.4 215.5 581.6 215.2 583.8 214.2C586.0 213.2 588.5 210.9 590.3 208.8C592.1 206.6 593.4 203.9 594.7 201.0C596.0 198.1 596.7 194.2 598.0 191.2C599.3 188.3 600.4 185.6 602.4 183.6C604.4 181.6 607.1 180.0 610.0 179.2C612.9 178.4 616.7 177.9 620.0 179.0C623.3 180.1 625.8 183.7 630.0 186.0C634.2 188.3 640.7 190.7 645.0 193.0C649.3 195.3 652.7 198.0 656.0 200.0C659.3 202.0 662.1 203.5 665.0 205.0C667.9 206.5 672.1 208.3 673.5 209.0" stroke="#c8294d" stroke-width="2.2" fill="none" stroke-linecap="round"/>
<path d="M400.0 182.0C402.1 181.8 406.2 180.9 412.5 181.0C418.8 181.1 431.5 181.4 437.5 182.5C443.5 183.6 444.9 185.7 448.4 187.5C451.9 189.3 455.0 191.7 458.3 193.4C461.6 195.1 464.9 196.8 468.0 197.7C471.1 198.6 473.5 199.5 476.6 199.0C479.7 198.5 483.1 196.4 486.4 194.8C489.7 193.2 493.5 190.6 496.3 189.2C499.1 187.8 501.0 187.4 503.3 186.4C505.6 185.4 507.4 183.5 510.0 183.0C512.6 182.5 515.9 182.5 518.8 183.2C521.7 183.8 524.1 185.3 527.6 186.9C531.1 188.5 536.5 191.1 540.0 192.7C543.5 194.2 545.8 197.1 548.8 196.2C551.7 195.2 554.6 190.0 557.5 187.0C560.4 184.0 563.3 180.4 566.2 178.1C569.2 175.8 572.1 173.7 575.0 173.0C577.9 172.3 580.6 173.5 583.4 174.2C586.2 174.9 589.1 176.0 591.9 177.0C594.7 178.0 597.3 179.4 600.3 180.2C603.3 181.0 606.9 181.7 610.0 181.6C613.1 181.5 615.8 180.3 618.8 179.5C621.8 178.7 624.9 176.8 628.0 176.6C631.1 176.4 634.3 177.2 637.5 178.4C640.7 179.6 643.9 182.0 647.0 184.0C650.1 186.0 653.1 188.6 656.2 190.6C659.4 192.6 662.7 194.7 665.6 196.2C668.5 197.8 672.2 199.4 673.5 200.0" stroke="#e07f35" stroke-width="2.2" fill="none" stroke-linecap="round"/>
<path d="M400.0 193.5C401.0 192.2 403.9 187.8 406.0 186.0C408.1 184.2 409.3 183.5 412.5 183.0C415.7 182.5 420.8 183.0 425.0 183.2C429.2 183.4 433.3 184.2 437.5 184.4C441.7 184.6 445.8 184.3 450.0 184.4C454.2 184.5 458.3 184.6 462.5 185.0C466.7 185.4 471.4 186.2 475.0 187.0C478.6 187.8 479.9 188.7 483.8 189.8C487.7 190.9 494.8 193.0 498.4 193.5C502.0 194.0 503.3 193.4 505.7 192.7C508.1 191.9 510.3 190.8 513.0 189.0C515.7 187.2 518.9 184.1 521.8 181.8C524.7 179.5 527.5 176.9 530.5 175.2C533.5 173.5 537.0 171.9 540.0 171.5C543.0 171.1 545.2 172.3 548.8 173.0C552.2 173.7 557.5 175.5 561.0 175.5C564.5 175.5 566.8 174.1 570.0 173.0C573.2 171.9 576.7 170.1 580.0 169.0C583.3 167.9 587.3 166.8 590.0 166.5C592.7 166.2 594.2 166.4 596.0 167.0C597.8 167.6 599.1 168.2 601.0 170.0C602.9 171.8 604.8 174.7 607.3 178.0C609.8 181.3 613.2 186.8 615.7 190.0C618.2 193.2 620.1 195.1 622.5 197.2C624.9 199.3 627.5 201.5 630.0 202.8C632.5 204.2 635.0 205.3 637.5 205.3C640.0 205.3 642.5 203.9 645.0 202.8C647.5 201.8 650.0 199.8 652.5 199.0C655.0 198.2 657.5 197.7 660.0 198.0C662.5 198.3 665.2 199.8 667.5 201.0C669.8 202.2 672.5 204.3 673.5 205.0" stroke="#45c29a" stroke-width="2.2" fill="none" stroke-linecap="round"/>
<path d="M400.0 191.0C400.8 189.2 403.4 183.2 405.0 180.0C406.6 176.8 407.7 174.2 409.4 172.0C411.1 169.8 412.4 167.9 415.0 166.5C417.6 165.1 421.2 164.7 425.0 163.8C428.8 162.8 433.8 162.0 437.5 161.0C441.2 160.0 444.1 159.0 447.5 158.0C450.9 157.0 454.9 155.2 458.0 155.0C461.1 154.8 463.3 155.6 466.0 156.5C468.7 157.4 471.3 159.0 474.0 160.5C476.7 162.0 479.5 163.8 482.3 165.5C485.1 167.2 488.3 168.8 491.0 170.8C493.7 172.8 496.2 175.2 498.4 177.4C500.6 179.6 502.0 181.8 504.2 184.0C506.4 186.2 508.6 188.8 511.5 190.5C514.4 192.2 518.6 193.3 521.8 194.2C525.0 195.1 527.5 195.1 530.5 195.7C533.5 196.2 536.6 197.2 540.0 197.5C543.4 197.8 547.4 198.1 551.0 197.8C554.6 197.5 558.3 196.3 561.9 195.6C565.5 194.9 569.1 194.5 572.8 193.4C576.4 192.3 580.5 190.6 583.8 189.0C587.1 187.4 590.0 185.7 592.5 183.6C595.0 181.5 596.8 178.6 599.0 176.5C601.2 174.4 603.5 171.8 606.0 171.0C608.5 170.2 611.1 170.7 614.3 171.5C617.5 172.3 621.1 173.9 625.0 176.0C628.9 178.1 633.8 182.1 637.5 184.0C641.2 185.9 643.9 186.6 647.0 187.5C650.1 188.4 652.8 189.0 656.2 189.7C659.7 190.4 664.6 191.1 667.5 191.6C670.4 192.1 672.5 192.3 673.5 192.5" stroke="#9644c8" stroke-width="2.2" fill="none" stroke-linecap="round"/>
<path d="M400.0 178.0C402.2 177.4 408.0 174.9 413.0 174.5C418.0 174.1 425.5 175.2 430.0 175.5C434.5 175.8 435.9 175.4 440.0 176.0C444.1 176.6 449.7 177.9 454.6 178.9C459.5 179.9 465.6 181.7 469.2 181.8C472.8 181.9 474.1 181.4 476.5 179.6C478.9 177.8 481.6 173.2 483.8 170.8C486.0 168.4 487.4 166.6 489.6 165.0C491.8 163.4 494.3 161.2 497.0 161.0C499.7 160.8 502.5 161.9 505.7 164.0C508.9 166.1 512.8 171.0 516.0 173.8C519.2 176.6 521.8 179.2 524.7 181.0C527.6 182.8 530.9 184.0 533.4 184.7C535.9 185.4 536.7 185.6 540.0 185.0C543.3 184.4 548.6 182.9 553.0 181.4C557.4 179.9 561.9 177.8 566.2 176.0C570.6 174.2 575.0 172.0 579.4 170.5C583.8 169.0 589.1 168.0 592.5 167.0C595.9 166.0 596.9 164.6 600.0 164.5C603.1 164.4 607.2 165.4 611.0 166.2C614.8 167.1 619.0 168.7 622.5 169.5C626.0 170.3 628.9 171.2 632.0 171.0C635.1 170.8 638.2 169.4 641.0 168.0C643.8 166.6 646.2 164.6 648.8 162.5C651.2 160.4 653.2 157.8 656.0 155.5C658.8 153.2 662.7 150.4 665.6 148.6C668.5 146.8 672.2 145.2 673.5 144.5" stroke="#3cae3c" stroke-width="2.2" fill="none" stroke-linecap="round"/>
<path d="M400.0 189.0C400.4 188.0 400.8 185.5 402.5 183.0C404.2 180.5 407.5 176.3 410.0 174.0C412.5 171.7 414.0 170.2 417.5 169.0C421.0 167.8 426.6 167.0 431.0 166.5C435.4 166.0 440.6 166.4 443.8 166.2C446.9 166.0 448.1 165.9 450.0 165.5C451.9 165.1 453.3 164.4 455.0 163.5C456.7 162.6 458.3 161.4 460.0 160.0C461.7 158.6 463.3 157.1 465.0 155.0C466.7 152.9 468.3 150.1 470.0 147.5C471.7 144.9 473.3 142.3 475.0 139.5C476.7 136.7 477.5 134.2 480.0 130.5C482.5 126.8 487.1 120.3 490.0 117.5C492.9 114.7 494.6 114.6 497.5 113.8C500.4 112.9 504.6 113.0 507.5 112.5C510.4 112.0 512.2 111.8 515.0 110.5C517.8 109.2 521.7 104.8 524.4 104.8C527.1 104.8 528.8 107.5 531.0 110.3C533.2 113.0 535.3 118.0 537.5 121.3C539.7 124.6 541.5 127.1 544.0 130.0C546.5 132.9 549.5 135.9 552.8 138.8C556.1 141.7 560.1 145.2 563.8 147.5C567.4 149.8 571.4 151.9 574.7 152.3C578.0 152.7 581.0 151.6 583.5 149.7C586.0 147.8 587.8 144.3 590.0 141.0C592.2 137.7 594.4 132.8 596.6 130.0C598.8 127.2 600.8 125.4 603.0 124.5C605.2 123.6 607.5 124.1 609.7 124.5C611.9 124.9 613.9 125.2 616.3 126.7C618.7 128.2 621.6 131.3 624.0 133.3C626.4 135.3 628.6 137.4 630.6 138.8C632.6 140.2 633.8 142.0 636.0 141.6C638.2 141.2 641.0 138.9 643.8 136.6C646.5 134.3 649.6 130.3 652.5 127.8C655.4 125.2 658.8 121.3 661.3 121.3C663.8 121.3 665.8 125.2 667.8 127.8C669.8 130.3 672.5 135.1 673.5 136.6" stroke="#1f5e92" stroke-width="2.2" fill="none" stroke-linecap="round"/>
<circle cx="400.5" cy="242" r="1.3" fill="#c33050"/>
<rect x="400.4" y="41" width="273.6" height="228.8" fill="none" stroke="#3c3c3c" stroke-width="1.3"/>
<line x1="397" x2="400" y1="69.8" y2="69.8" stroke="#c8c8c8" stroke-width="0.8"/>
<line x1="397" x2="400" y1="127.3" y2="127.3" stroke="#c8c8c8" stroke-width="0.8"/>
<line x1="397" x2="400" y1="185.5" y2="185.5" stroke="#c8c8c8" stroke-width="0.8"/>
<line x1="397" x2="400" y1="242.5" y2="242.5" stroke="#c8c8c8" stroke-width="0.8"/>
<text x="392.2" y="73.5" font-size="12" text-anchor="end" fill="#262626">1.5</text>
<text x="392.2" y="130.8" font-size="12" text-anchor="end" fill="#262626">1.0</text>
<text x="392.2" y="188.8" font-size="12" text-anchor="end" fill="#262626">0.5</text>
<text x="392.2" y="245.4" font-size="12" text-anchor="end" fill="#262626">0.0</text>
<line x1="400.2" x2="400.2" y1="270" y2="272.5" stroke="#999" stroke-width="0.8"/>
<line x1="468.6" x2="468.6" y1="270" y2="272.5" stroke="#999" stroke-width="0.8"/>
<line x1="537.2" x2="537.2" y1="270" y2="272.5" stroke="#999" stroke-width="0.8"/>
<line x1="605.2" x2="605.2" y1="270" y2="272.5" stroke="#999" stroke-width="0.8"/>
<line x1="673.8" x2="673.8" y1="270" y2="272.5" stroke="#999" stroke-width="0.8"/>
<text x="398.3" y="289.1" font-size="12.6" text-anchor="middle" fill="#262626">0</text>
<text x="468.5" y="289.1" font-size="12.6" text-anchor="middle" fill="#262626">250</text>
<text x="537.6" y="289.1" font-size="12.6" text-anchor="middle" fill="#262626">500</text>
<text x="605.0" y="289.1" font-size="12.6" text-anchor="middle" fill="#262626">750</text>
<text x="668.3" y="289.1" font-size="12.6" text-anchor="middle" fill="#262626">1000</text>
<text x="519.2" y="309.3" font-size="16.3" fill="#262626">Time</text>
<text transform="translate(366,215.2) rotate(-90)" font-size="16.15" fill="#262626">CV(Population size)</text>
<text x="405.5" y="54.3" font-size="10" font-weight="bold" fill="#1a1a1a">PCD rate</text>
<line x1="455.6" x2="466.4" y1="51" y2="51" stroke="#2a68a0" stroke-width="2"/>
<text x="475.4" y="54.8" font-size="10.8" fill="#262626">0</text>
<line x1="488.3" x2="498.1" y1="51" y2="51" stroke="#d4466a" stroke-width="2"/>
<text x="499.0" y="54.8" font-size="10.8" fill="#262626">0.05</text>
<line x1="527.7" x2="538.2" y1="51" y2="51" stroke="#46b046" stroke-width="2"/>
<text x="539.0" y="54.8" font-size="10.8" fill="#262626">0.1</text>
<line x1="562.0" x2="573.3" y1="51" y2="51" stroke="#9462cc" stroke-width="2"/>
<text x="573.5" y="54.8" font-size="10.8" fill="#262626">0.15</text>
<line x1="598.5" x2="609.5" y1="51" y2="51" stroke="#e28e50" stroke-width="2"/>
<text x="610.4" y="54.8" font-size="10.8" fill="#262626">0.2</text>
<line x1="630.5" x2="641.5" y1="51" y2="51" stroke="#58c8a0" stroke-width="2"/>
<text x="643.2" y="54.8" font-size="10.8" fill="#262626">0.25</text>
</svg>
</body></html>
